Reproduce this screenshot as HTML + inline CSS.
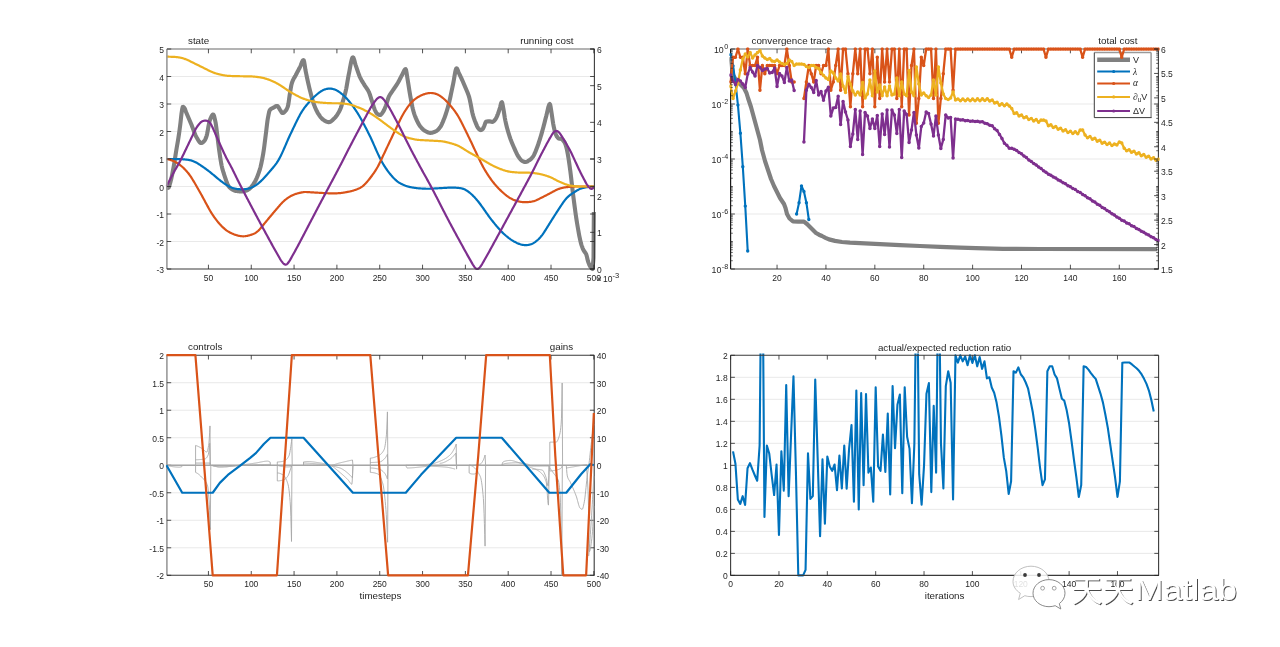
<!DOCTYPE html>
<html lang="en"><head><meta charset="utf-8"><title>iLQG convergence figure</title>
<style>html,body{margin:0;padding:0;background:#fff}body{width:1280px;height:647px;overflow:hidden}svg{display:block;font-family:'Liberation Sans', sans-serif}</style></head><body>
<svg width="1280" height="647" viewBox="0 0 1280 647">
<rect width="1280" height="647" fill="#fff"/>
<clipPath id="c1"><rect x="165.7" y="47.2" width="429.9" height="223.4"/></clipPath>
<clipPath id="w1"><rect x="164.3" y="46.4" width="432.7" height="225.2"/></clipPath>
<g id="plot-state">
<line x1="166.9" y1="241.5" x2="594.4" y2="241.5" stroke="#e7e7e7" stroke-width="0.9"/>
<line x1="166.9" y1="214" x2="594.4" y2="214" stroke="#e7e7e7" stroke-width="0.9"/>
<line x1="166.9" y1="186.5" x2="594.4" y2="186.5" stroke="#e7e7e7" stroke-width="0.9"/>
<line x1="166.9" y1="159" x2="594.4" y2="159" stroke="#e7e7e7" stroke-width="0.9"/>
<line x1="166.9" y1="131.5" x2="594.4" y2="131.5" stroke="#e7e7e7" stroke-width="0.9"/>
<line x1="166.9" y1="104" x2="594.4" y2="104" stroke="#e7e7e7" stroke-width="0.9"/>
<line x1="166.9" y1="76.5" x2="594.4" y2="76.5" stroke="#e7e7e7" stroke-width="0.9"/>
<polyline clip-path="url(#w1)" points="166.46,187.88 166.88,187.88 167.31,187.88 167.74,187.88 168.17,187.88 168.6,187.57 169.02,186.72 169.45,185.49 169.88,183.99 170.31,182.37 170.73,180.77 171.16,179.18 171.59,177.37 172.02,175.37 172.45,173.23 172.87,170.99 173.3,168.68 173.73,166.34 174.16,163.84 174.59,161.19 175.01,158.45 175.44,155.69 175.87,152.94 176.3,150.29 176.72,147.74 177.15,145.26 177.58,142.79 178.01,140.28 178.44,137.67 178.86,134.91 179.29,131.94 179.72,128.75 180.15,125.41 180.57,121.92 181,117.95 181.43,114.16 181.86,111.29 182.29,108.69 182.71,106.96 183.14,106.8 183.57,107.09 184,107.56 184.42,108.1 184.85,108.85 185.28,109.9 185.71,111.08 186.14,112.2 186.56,113.22 186.99,114.23 187.42,115.24 187.85,116.24 188.28,117.24 188.7,118.23 189.13,119.23 189.56,120.23 189.99,121.24 190.41,122.25 190.84,123.27 191.27,124.29 191.7,125.35 192.13,126.45 192.55,127.59 192.98,128.75 193.41,129.91 193.84,131.07 194.26,132.2 194.69,133.29 195.12,134.32 195.55,135.29 195.98,136.17 196.4,136.95 196.83,137.68 197.26,138.44 197.69,139.19 198.12,139.93 198.54,140.63 198.97,141.28 199.4,141.86 199.83,142.34 200.25,142.71 200.68,142.96 201.11,143.05 201.54,143 201.97,142.86 202.39,142.63 202.82,142.33 203.25,141.97 203.68,141.58 204.1,141.16 204.53,140.66 204.96,139.98 205.39,139.14 205.82,138.18 206.24,137.1 206.67,135.75 207.1,133.91 207.53,131.74 207.96,129.38 208.38,126.96 208.81,124.64 209.24,122.55 209.67,120.85 210.09,119.63 210.52,118.56 210.95,117.52 211.38,116.57 211.81,115.74 212.23,115.08 212.66,114.63 213.09,114.45 213.52,114.75 213.94,115.7 214.37,117.15 214.8,118.93 215.23,120.87 215.66,122.94 216.08,125.78 216.51,129.1 216.94,132.49 217.37,135.84 217.79,139.38 218.22,142.95 218.65,146.35 219.08,149.46 219.51,152.5 219.93,155.49 220.36,158.35 220.79,161.03 221.22,163.48 221.65,165.62 222.07,167.48 222.5,169.17 222.93,170.72 223.36,172.15 223.78,173.5 224.21,174.78 224.64,176.05 225.07,177.33 225.5,178.62 225.92,179.89 226.35,181.12 226.78,182.29 227.21,183.39 227.63,184.4 228.06,185.3 228.49,186.07 228.92,186.69 229.35,187.15 229.77,187.55 230.2,187.93 230.63,188.29 231.06,188.63 231.49,188.94 231.91,189.24 232.34,189.51 232.77,189.76 233.2,189.99 233.62,190.2 234.05,190.38 234.48,190.54 234.91,190.68 235.34,190.8 235.76,190.89 236.19,190.96 236.62,191.03 237.05,191.1 237.47,191.17 237.9,191.23 238.33,191.28 238.76,191.33 239.19,191.37 239.61,191.4 240.04,191.43 240.47,191.44 240.9,191.45 241.33,191.44 241.75,191.42 242.18,191.39 242.61,191.34 243.04,191.29 243.46,191.22 243.89,191.14 244.32,191.05 244.75,190.96 245.18,190.86 245.6,190.75 246.03,190.65 246.46,190.52 246.89,190.36 247.31,190.16 247.74,189.93 248.17,189.67 248.6,189.38 249.03,189.08 249.45,188.76 249.88,188.42 250.31,188.04 250.74,187.61 251.16,187.15 251.59,186.65 252.02,186.11 252.45,185.54 252.88,184.93 253.3,184.3 253.73,183.64 254.16,182.96 254.59,182.25 255.02,181.51 255.44,180.72 255.87,179.88 256.3,178.98 256.73,178.03 257.15,177.02 257.58,175.96 258.01,174.84 258.44,173.66 258.87,172.42 259.29,171.12 259.72,169.76 260.15,168.3 260.58,166.68 261,164.91 261.43,163 261.86,160.95 262.29,158.77 262.72,156.47 263.14,154.06 263.57,151.45 264,148.47 264.43,145.22 264.86,141.82 265.28,138.38 265.71,135.01 266.14,131.64 266.57,128.04 266.99,124.45 267.42,121.12 267.85,118.31 268.28,116.01 268.71,113.83 269.13,111.94 269.56,110.56 269.99,109.87 270.42,109.41 270.84,109.04 271.27,108.73 271.7,108.47 272.13,108.25 272.56,108.04 272.98,107.84 273.41,107.63 273.84,107.4 274.27,107.14 274.69,106.88 275.12,106.63 275.55,106.4 275.98,106.2 276.41,106.05 276.83,105.95 277.26,105.93 277.69,106.12 278.12,106.56 278.55,107.19 278.97,107.93 279.4,108.72 279.83,109.49 280.26,110.17 280.68,110.79 281.11,111.51 281.54,112.21 281.97,112.77 282.4,113.06 282.82,113.04 283.25,112.89 283.68,112.64 284.11,112.3 284.53,111.9 284.96,111.46 285.39,111 285.82,110.51 286.25,109.92 286.67,109.19 287.1,108.31 287.53,107.27 287.96,106.04 288.39,104.03 288.81,101.22 289.24,98.09 289.67,95.13 290.1,92.53 290.52,89.85 290.95,87.25 291.38,84.97 291.81,83.23 292.24,81.97 292.66,80.89 293.09,79.94 293.52,79.1 293.95,78.33 294.37,77.6 294.8,76.89 295.23,76.16 295.66,75.38 296.09,74.54 296.51,73.71 296.94,72.88 297.37,72.06 297.8,71.25 298.23,70.43 298.65,69.62 299.08,68.8 299.51,67.97 299.94,67.14 300.36,66.25 300.79,65.2 301.22,64.07 301.65,62.94 302.08,61.89 302.5,61 302.93,60.35 303.36,60.02 303.79,60.39 304.21,62.11 304.64,64.7 305.07,67.61 305.5,70.28 305.93,72.39 306.35,74.44 306.78,76.46 307.21,78.47 307.64,80.44 308.06,82.38 308.49,84.27 308.92,86.12 309.35,87.93 309.78,89.67 310.2,91.38 310.63,93.07 311.06,94.74 311.49,96.38 311.92,97.97 312.34,99.5 312.77,100.96 313.2,102.32 313.63,103.59 314.05,104.76 314.48,105.88 314.91,106.96 315.34,107.99 315.77,108.97 316.19,109.91 316.62,110.79 317.05,111.62 317.48,112.39 317.9,113.11 318.33,113.79 318.76,114.46 319.19,115.11 319.62,115.74 320.04,116.35 320.47,116.93 320.9,117.47 321.33,117.98 321.76,118.45 322.18,118.87 322.61,119.25 323.04,119.57 323.47,119.85 323.89,120.12 324.32,120.39 324.75,120.65 325.18,120.9 325.61,121.14 326.03,121.36 326.46,121.56 326.89,121.73 327.32,121.88 327.74,122 328.17,122.09 328.6,122.14 329.03,122.15 329.46,122.09 329.88,121.97 330.31,121.78 330.74,121.53 331.17,121.24 331.6,120.9 332.02,120.54 332.45,120.14 332.88,119.73 333.31,119.31 333.73,118.88 334.16,118.46 334.59,118.04 335.02,117.6 335.45,117.12 335.87,116.6 336.3,116.06 336.73,115.48 337.16,114.86 337.58,114.21 338.01,113.52 338.44,112.8 338.87,112.04 339.3,111.24 339.72,110.4 340.15,109.5 340.58,108.45 341.01,107.27 341.43,105.99 341.86,104.64 342.29,103.24 342.72,101.83 343.15,100.43 343.57,99.01 344,97.56 344.43,96.05 344.86,94.47 345.29,92.8 345.71,91.03 346.14,89.1 346.57,86.89 347,84.46 347.42,81.93 347.85,79.38 348.28,76.92 348.71,74.65 349.14,72.55 349.56,70.31 349.99,67.98 350.42,65.64 350.85,63.4 351.27,61.37 351.7,59.64 352.13,58.31 352.56,57.48 352.99,57.26 353.41,57.72 353.84,58.74 354.27,60.15 354.7,61.77 355.13,63.42 355.55,64.92 355.98,66.18 356.41,67.43 356.84,68.69 357.26,69.95 357.69,71.2 358.12,72.43 358.55,73.62 358.98,74.75 359.4,75.82 359.83,76.81 360.26,77.72 360.69,78.58 361.11,79.38 361.54,80.16 361.97,80.9 362.4,81.62 362.83,82.32 363.25,83.02 363.68,83.71 364.11,84.42 364.54,85.13 364.96,85.8 365.39,86.44 365.82,87.06 366.25,87.67 366.68,88.29 367.1,88.93 367.53,89.6 367.96,90.31 368.39,91.09 368.82,91.93 369.24,92.88 369.67,93.99 370.1,95.22 370.53,96.54 370.95,97.91 371.38,99.28 371.81,100.62 372.24,101.93 372.67,103.3 373.09,104.73 373.52,106.14 373.95,107.49 374.38,108.73 374.8,109.78 375.23,110.67 375.66,111.51 376.09,112.27 376.52,112.93 376.94,113.44 377.37,113.79 377.8,114.11 378.23,114.4 378.66,114.65 379.08,114.84 379.51,114.96 379.94,115 380.37,114.89 380.79,114.64 381.22,114.25 381.65,113.77 382.08,113.21 382.51,112.62 382.93,112.01 383.36,111.39 383.79,110.65 384.22,109.78 384.64,108.83 385.07,107.81 385.5,106.75 385.93,105.66 386.36,104.39 386.78,103 387.21,101.54 387.64,100.1 388.07,98.73 388.5,97.51 388.92,96.51 389.35,95.67 389.78,94.91 390.21,94.22 390.63,93.57 391.06,92.96 391.49,92.36 391.92,91.76 392.35,91.14 392.77,90.49 393.2,89.85 393.63,89.22 394.06,88.6 394.48,87.98 394.91,87.37 395.34,86.75 395.77,86.12 396.2,85.49 396.62,84.84 397.05,84.17 397.48,83.48 397.91,82.77 398.33,82.02 398.76,81.24 399.19,80.44 399.62,79.62 400.05,78.79 400.47,77.96 400.9,77.14 401.33,76.33 401.76,75.55 402.19,74.77 402.61,73.9 403.04,72.96 403.47,72 403.9,71.09 404.32,70.29 404.75,69.64 405.18,69.22 405.61,69.08 406.04,69.96 406.46,72.08 406.89,74.88 407.32,77.78 407.75,80.32 408.17,82.92 408.6,85.66 409.03,88.43 409.46,91.14 409.89,93.69 410.31,96.08 410.74,98.47 411.17,100.82 411.6,103.09 412.03,105.25 412.45,107.26 412.88,109.09 413.31,110.71 413.74,112.2 414.16,113.57 414.59,114.85 415.02,116.04 415.45,117.14 415.88,118.17 416.3,119.17 416.73,120.13 417.16,121.06 417.59,121.95 418.01,122.8 418.44,123.6 418.87,124.34 419.3,125.03 419.73,125.66 420.15,126.22 420.58,126.76 421.01,127.28 421.44,127.78 421.87,128.25 422.29,128.7 422.72,129.13 423.15,129.52 423.58,129.89 424,130.23 424.43,130.53 424.86,130.8 425.29,131.04 425.72,131.27 426.14,131.5 426.57,131.73 427,131.94 427.43,132.14 427.85,132.33 428.28,132.49 428.71,132.63 429.14,132.74 429.57,132.82 429.99,132.87 430.42,132.87 430.85,132.85 431.28,132.8 431.7,132.73 432.13,132.64 432.56,132.53 432.99,132.41 433.42,132.27 433.84,132.12 434.27,131.96 434.7,131.79 435.13,131.61 435.56,131.43 435.98,131.21 436.41,130.95 436.84,130.65 437.27,130.3 437.69,129.92 438.12,129.51 438.55,129.07 438.98,128.59 439.41,128.09 439.83,127.56 440.26,127.01 440.69,126.38 441.12,125.64 441.54,124.81 441.97,123.91 442.4,122.95 442.83,121.93 443.26,120.89 443.68,119.82 444.11,118.75 444.54,117.64 444.97,116.47 445.4,115.26 445.82,113.99 446.25,112.68 446.68,111.32 447.11,109.91 447.53,108.45 447.96,106.95 448.39,105.39 448.82,103.73 449.25,101.97 449.67,100.11 450.1,98.19 450.53,96.21 450.96,94.19 451.38,92.15 451.81,90.1 452.24,88.06 452.67,86.04 453.1,84.07 453.52,81.93 453.95,79.48 454.38,76.88 454.81,74.33 455.24,72.01 455.66,70.1 456.09,68.78 456.52,68.25 456.95,68.49 457.37,69.21 457.8,70.23 458.23,71.39 458.66,72.52 459.09,73.48 459.51,74.37 459.94,75.26 460.37,76.14 460.8,77.04 461.22,77.94 461.65,78.86 462.08,79.8 462.51,80.75 462.94,81.72 463.36,82.7 463.79,83.7 464.22,84.71 464.65,85.74 465.07,86.77 465.5,87.81 465.93,88.81 466.36,89.79 466.79,90.76 467.21,91.76 467.64,92.79 468.07,93.9 468.5,95.09 468.93,96.4 469.35,97.88 469.78,99.68 470.21,101.7 470.64,103.84 471.06,106 471.49,108.42 471.92,110.82 472.35,112.73 472.78,114.36 473.2,115.87 473.63,117.28 474.06,118.59 474.49,119.82 474.91,120.97 475.34,122.07 475.77,123.13 476.2,124.15 476.63,125.16 477.05,126.15 477.48,127.04 477.91,127.79 478.34,128.33 478.77,128.8 479.19,129.23 479.62,129.61 480.05,129.9 480.48,130.08 480.9,130.12 481.33,130.01 481.76,129.78 482.19,129.46 482.62,129.07 483.04,128.62 483.47,127.81 483.9,126.76 484.33,125.75 484.75,124.6 485.18,123.36 485.61,122.3 486.04,121.67 486.47,121.55 486.89,121.49 487.32,121.44 487.75,121.39 488.18,121.36 488.6,121.34 489.03,121.33 489.46,121.33 489.89,121.38 490.32,121.47 490.74,121.59 491.17,121.71 491.6,121.81 492.03,121.87 492.46,121.85 492.88,121.7 493.31,121.45 493.74,121.11 494.17,120.72 494.59,120.29 495.02,119.84 495.45,119.27 495.88,118.55 496.31,117.72 496.73,116.82 497.16,115.89 497.59,114.86 498.02,113.73 498.44,112.51 498.87,111.25 499.3,109.96 499.73,108.66 500.16,107.04 500.58,105.22 501.01,103.55 501.44,102.4 501.87,102.11 502.3,103.15 502.72,105.19 503.15,107.64 503.58,109.97 504.01,112.54 504.43,115.38 504.86,118.11 505.29,120.37 505.72,122.33 506.15,124.19 506.57,125.96 507,127.64 507.43,129.24 507.86,130.77 508.28,132.24 508.71,133.64 509.14,135 509.57,136.31 510,137.59 510.42,138.83 510.85,140.01 511.28,141.15 511.71,142.23 512.14,143.28 512.56,144.3 512.99,145.29 513.42,146.26 513.85,147.22 514.27,148.18 514.7,149.14 515.13,150.11 515.56,151.07 515.99,152.01 516.41,152.93 516.84,153.81 517.27,154.63 517.7,155.4 518.12,156.1 518.55,156.75 518.98,157.38 519.41,157.99 519.84,158.57 520.26,159.11 520.69,159.6 521.12,160.04 521.55,160.4 521.97,160.69 522.4,160.95 522.83,161.2 523.26,161.44 523.69,161.64 524.11,161.81 524.54,161.94 524.97,162.01 525.4,162.02 525.83,161.97 526.25,161.87 526.68,161.72 527.11,161.54 527.54,161.33 527.96,161.1 528.39,160.85 528.82,160.59 529.25,160.34 529.68,160.06 530.1,159.73 530.53,159.37 530.96,158.97 531.39,158.52 531.81,158.05 532.24,157.53 532.67,156.99 533.1,156.41 533.53,155.77 533.95,155.01 534.38,154.16 534.81,153.21 535.24,152.21 535.67,151.15 536.09,150.06 536.52,148.96 536.95,147.86 537.38,146.72 537.8,145.54 538.23,144.3 538.66,143.03 539.09,141.72 539.52,140.38 539.94,139.03 540.37,137.66 540.8,136.25 541.23,134.81 541.65,133.34 542.08,131.83 542.51,130.3 542.94,128.76 543.37,127.19 543.79,125.58 544.22,123.91 544.65,122.21 545.08,120.5 545.51,118.82 545.93,117.19 546.36,115.61 546.79,113.87 547.22,111.99 547.64,110.07 548.07,108.24 548.5,106.61 548.93,105.28 549.36,104.37 549.78,104 550.21,104.77 550.64,106.96 551.07,109.79 551.49,112.49 551.92,115.24 552.35,118.26 552.78,121.23 553.21,123.83 553.63,126.02 554.06,128.09 554.49,129.97 554.92,131.62 555.34,132.98 555.77,134.16 556.2,135.22 556.63,136.12 557.06,136.82 557.48,137.35 557.91,137.81 558.34,138.21 558.77,138.5 559.2,138.66 559.62,138.73 560.05,138.77 560.48,138.81 560.91,138.85 561.33,138.93 561.76,139.12 562.19,139.46 562.62,139.89 563.05,140.38 563.47,140.88 563.9,141.44 564.33,142.1 564.76,142.86 565.18,143.74 565.61,144.82 566.04,146.18 566.47,147.75 566.9,149.48 567.32,151.52 567.75,153.88 568.18,156.4 568.61,159.04 569.04,161.86 569.46,164.83 569.89,167.91 570.32,171.09 570.75,174.48 571.17,178.07 571.6,181.79 572.03,185.54 572.46,189.26 572.89,192.86 573.31,196.27 573.74,199.58 574.17,202.86 574.6,206.11 575.02,209.31 575.45,212.43 575.88,215.45 576.31,218.36 576.74,221.14 577.16,223.76 577.59,226.27 578.02,228.74 578.45,231.17 578.88,233.52 579.3,235.78 579.73,237.91 580.16,239.91 580.59,241.75 581.01,243.4 581.44,244.85 581.87,246.17 582.3,247.37 582.73,248.47 583.15,249.45 583.58,250.32 584.01,251.04 584.44,251.63 584.86,252.15 585.29,252.7 585.72,253.35 586.15,254.16 586.58,255.41 587,257.08 587.43,258.94 587.86,260.71 588.29,262.14 588.71,263.28 589.14,264.34 589.57,265.3 590,266.12 590.43,266.8 590.85,267.38 591.28,267.91 591.71,268.38 592.14,268.74 592.57,269 593.51,258 593.85,212.07" fill="none" stroke="#808080" stroke-width="4.1" stroke-linejoin="round" stroke-linecap="butt"/>
<polyline clip-path="url(#c1)" points="166.46,159 167.03,158.99 167.6,158.99 168.17,158.99 168.74,158.98 169.31,158.98 169.88,158.98 170.45,158.98 171.02,158.98 171.59,158.99 172.16,158.99 172.73,158.99 173.3,158.99 173.87,159 174.45,159 175.02,159.01 175.59,159.02 176.16,159.03 176.73,159.05 177.3,159.06 177.87,159.08 178.44,159.1 179.01,159.11 179.58,159.13 180.15,159.15 180.72,159.17 181.29,159.19 181.86,159.22 182.43,159.26 183,159.3 183.58,159.34 184.15,159.39 184.72,159.44 185.29,159.5 185.86,159.56 186.43,159.63 187,159.7 187.57,159.78 188.14,159.86 188.71,159.95 189.28,160.05 189.85,160.15 190.42,160.27 190.99,160.42 191.56,160.58 192.13,160.76 192.7,160.96 193.28,161.18 193.85,161.42 194.42,161.67 194.99,161.94 195.56,162.23 196.13,162.53 196.7,162.84 197.27,163.16 197.84,163.5 198.41,163.85 198.98,164.21 199.55,164.57 200.12,164.95 200.69,165.33 201.26,165.71 201.83,166.1 202.41,166.49 202.98,166.89 203.55,167.29 204.12,167.69 204.69,168.1 205.26,168.51 205.83,168.92 206.4,169.34 206.97,169.77 207.54,170.19 208.11,170.62 208.68,171.06 209.25,171.5 209.82,171.95 210.39,172.4 210.96,172.86 211.54,173.32 212.11,173.79 212.68,174.26 213.25,174.73 213.82,175.21 214.39,175.69 214.96,176.17 215.53,176.65 216.1,177.13 216.67,177.61 217.24,178.08 217.81,178.55 218.38,179.02 218.95,179.49 219.52,179.94 220.09,180.39 220.67,180.84 221.24,181.28 221.81,181.71 222.38,182.13 222.95,182.54 223.52,182.95 224.09,183.35 224.66,183.73 225.23,184.11 225.8,184.48 226.37,184.84 226.94,185.19 227.51,185.52 228.08,185.85 228.65,186.16 229.22,186.46 229.8,186.75 230.37,187.03 230.94,187.28 231.51,187.51 232.08,187.73 232.65,187.93 233.22,188.11 233.79,188.27 234.36,188.42 234.93,188.55 235.5,188.68 236.07,188.79 236.64,188.88 237.21,188.97 237.78,189.04 238.35,189.11 238.93,189.17 239.5,189.22 240.07,189.26 240.64,189.3 241.21,189.32 241.78,189.32 242.35,189.32 242.92,189.3 243.49,189.27 244.06,189.24 244.63,189.19 245.2,189.13 245.77,189.06 246.34,188.97 246.91,188.87 247.48,188.76 248.05,188.64 248.63,188.5 249.2,188.35 249.77,188.18 250.34,188 250.91,187.8 251.48,187.58 252.05,187.33 252.62,187.07 253.19,186.78 253.76,186.47 254.33,186.15 254.9,185.8 255.47,185.44 256.04,185.06 256.61,184.66 257.18,184.24 257.76,183.81 258.33,183.35 258.9,182.89 259.47,182.4 260.04,181.9 260.61,181.39 261.18,180.85 261.75,180.3 262.32,179.74 262.89,179.16 263.46,178.57 264.03,177.97 264.6,177.35 265.17,176.73 265.74,176.1 266.31,175.46 266.89,174.81 267.46,174.15 268.03,173.49 268.6,172.83 269.17,172.16 269.74,171.49 270.31,170.82 270.88,170.16 271.45,169.5 272.02,168.84 272.59,168.17 273.16,167.5 273.73,166.81 274.3,166.1 274.87,165.38 275.44,164.63 276.02,163.85 276.59,163.05 277.16,162.2 277.73,161.32 278.3,160.4 278.87,159.43 279.44,158.41 280.01,157.33 280.58,156.21 281.15,155.05 281.72,153.85 282.29,152.62 282.86,151.36 283.43,150.08 284,148.78 284.57,147.47 285.15,146.14 285.72,144.82 286.29,143.49 286.86,142.17 287.43,140.86 288,139.56 288.57,138.28 289.14,137.03 289.71,135.8 290.28,134.59 290.85,133.38 291.42,132.17 291.99,130.96 292.56,129.76 293.13,128.55 293.7,127.36 294.28,126.16 294.85,124.98 295.42,123.81 295.99,122.64 296.56,121.48 297.13,120.34 297.7,119.21 298.27,118.1 298.84,117 299.41,115.91 299.98,114.85 300.55,113.82 301.12,112.83 301.69,111.89 302.26,110.98 302.83,110.11 303.41,109.28 303.98,108.47 304.55,107.69 305.12,106.94 305.69,106.21 306.26,105.5 306.83,104.81 307.4,104.13 307.97,103.47 308.54,102.81 309.11,102.16 309.68,101.52 310.25,100.88 310.82,100.25 311.39,99.64 311.96,99.03 312.53,98.45 313.11,97.87 313.68,97.31 314.25,96.76 314.82,96.23 315.39,95.71 315.96,95.2 316.53,94.71 317.1,94.23 317.67,93.76 318.24,93.31 318.81,92.88 319.38,92.45 319.95,92.05 320.52,91.66 321.09,91.29 321.66,90.95 322.24,90.63 322.81,90.34 323.38,90.06 323.95,89.81 324.52,89.59 325.09,89.38 325.66,89.2 326.23,89.04 326.8,88.91 327.37,88.8 327.94,88.71 328.51,88.65 329.08,88.61 329.65,88.6 330.22,88.61 330.79,88.65 331.37,88.71 331.94,88.79 332.51,88.9 333.08,89.04 333.65,89.2 334.22,89.38 334.79,89.58 335.36,89.81 335.93,90.07 336.5,90.34 337.07,90.64 337.64,90.96 338.21,91.31 338.78,91.67 339.35,92.06 339.92,92.47 340.5,92.9 341.07,93.34 341.64,93.79 342.21,94.26 342.78,94.74 343.35,95.24 343.92,95.76 344.49,96.29 345.06,96.84 345.63,97.41 346.2,97.99 346.77,98.6 347.34,99.22 347.91,99.87 348.48,100.53 349.05,101.22 349.63,101.92 350.2,102.64 350.77,103.38 351.34,104.12 351.91,104.87 352.48,105.64 353.05,106.42 353.62,107.21 354.19,108.01 354.76,108.83 355.33,109.67 355.9,110.52 356.47,111.38 357.04,112.27 357.61,113.17 358.18,114.09 358.76,115.03 359.33,115.99 359.9,116.97 360.47,117.98 361.04,118.99 361.61,120.02 362.18,121.06 362.75,122.11 363.32,123.17 363.89,124.24 364.46,125.32 365.03,126.41 365.6,127.51 366.17,128.62 366.74,129.74 367.31,130.87 367.88,132 368.46,133.14 369.03,134.29 369.6,135.44 370.17,136.6 370.74,137.78 371.31,139 371.88,140.24 372.45,141.5 373.02,142.78 373.59,144.07 374.16,145.37 374.73,146.67 375.3,147.98 375.87,149.28 376.44,150.57 377.01,151.85 377.59,153.11 378.16,154.35 378.73,155.57 379.3,156.76 379.87,157.91 380.44,159.03 381.01,160.12 381.58,161.18 382.15,162.21 382.72,163.22 383.29,164.19 383.86,165.14 384.43,166.06 385,166.95 385.57,167.82 386.14,168.67 386.72,169.5 387.29,170.3 387.86,171.08 388.43,171.84 389,172.59 389.57,173.31 390.14,174.02 390.71,174.71 391.28,175.38 391.85,176.04 392.42,176.69 392.99,177.31 393.56,177.92 394.13,178.5 394.7,179.07 395.27,179.61 395.85,180.13 396.42,180.63 396.99,181.1 397.56,181.55 398.13,181.97 398.7,182.36 399.27,182.72 399.84,183.05 400.41,183.36 400.98,183.66 401.55,183.95 402.12,184.23 402.69,184.5 403.26,184.77 403.83,185.02 404.4,185.27 404.98,185.5 405.55,185.73 406.12,185.94 406.69,186.14 407.26,186.33 407.83,186.5 408.4,186.66 408.97,186.81 409.54,186.93 410.11,187.05 410.68,187.15 411.25,187.25 411.82,187.36 412.39,187.46 412.96,187.56 413.53,187.65 414.11,187.75 414.68,187.84 415.25,187.92 415.82,188 416.39,188.08 416.96,188.15 417.53,188.22 418.1,188.28 418.67,188.33 419.24,188.38 419.81,188.42 420.38,188.45 420.95,188.48 421.52,188.51 422.09,188.55 422.66,188.58 423.23,188.61 423.81,188.64 424.38,188.67 424.95,188.7 425.52,188.72 426.09,188.74 426.66,188.75 427.23,188.76 427.8,188.76 428.37,188.76 428.94,188.75 429.51,188.73 430.08,188.71 430.65,188.68 431.22,188.65 431.79,188.62 432.36,188.58 432.94,188.55 433.51,188.52 434.08,188.49 434.65,188.46 435.22,188.43 435.79,188.4 436.36,188.36 436.93,188.33 437.5,188.3 438.07,188.27 438.64,188.24 439.21,188.2 439.78,188.17 440.35,188.14 440.92,188.11 441.49,188.08 442.07,188.05 442.64,188.01 443.21,187.98 443.78,187.95 444.35,187.92 444.92,187.88 445.49,187.85 446.06,187.82 446.63,187.79 447.2,187.76 447.77,187.72 448.34,187.69 448.91,187.66 449.48,187.63 450.05,187.59 450.62,187.57 451.2,187.55 451.77,187.54 452.34,187.54 452.91,187.55 453.48,187.57 454.05,187.59 454.62,187.62 455.19,187.65 455.76,187.69 456.33,187.74 456.9,187.79 457.47,187.84 458.04,187.9 458.61,187.96 459.18,188.02 459.75,188.09 460.33,188.16 460.9,188.25 461.47,188.36 462.04,188.5 462.61,188.66 463.18,188.85 463.75,189.06 464.32,189.3 464.89,189.56 465.46,189.85 466.03,190.16 466.6,190.49 467.17,190.85 467.74,191.23 468.31,191.63 468.88,192.06 469.46,192.5 470.03,192.98 470.6,193.47 471.17,193.98 471.74,194.5 472.31,195.04 472.88,195.6 473.45,196.17 474.02,196.76 474.59,197.37 475.16,197.99 475.73,198.62 476.3,199.27 476.87,199.94 477.44,200.62 478.01,201.31 478.58,202.02 479.16,202.75 479.73,203.49 480.3,204.24 480.87,205.01 481.44,205.79 482.01,206.58 482.58,207.38 483.15,208.19 483.72,209 484.29,209.82 484.86,210.65 485.43,211.47 486,212.29 486.57,213.11 487.14,213.92 487.71,214.72 488.29,215.52 488.86,216.31 489.43,217.08 490,217.84 490.57,218.59 491.14,219.33 491.71,220.06 492.28,220.79 492.85,221.51 493.42,222.22 493.99,222.93 494.56,223.63 495.13,224.33 495.7,225.02 496.27,225.7 496.84,226.37 497.42,227.04 497.99,227.7 498.56,228.35 499.13,229 499.7,229.63 500.27,230.26 500.84,230.88 501.41,231.48 501.98,232.06 502.55,232.63 503.12,233.19 503.69,233.73 504.26,234.25 504.83,234.77 505.4,235.27 505.97,235.76 506.55,236.23 507.12,236.7 507.69,237.16 508.26,237.6 508.83,238.04 509.4,238.46 509.97,238.88 510.54,239.29 511.11,239.68 511.68,240.06 512.25,240.43 512.82,240.78 513.39,241.12 513.96,241.45 514.53,241.76 515.1,242.06 515.68,242.35 516.25,242.63 516.82,242.9 517.39,243.15 517.96,243.4 518.53,243.63 519.1,243.85 519.67,244.06 520.24,244.27 520.81,244.45 521.38,244.6 521.95,244.73 522.52,244.84 523.09,244.92 523.66,244.99 524.23,245.03 524.81,245.06 525.38,245.08 525.95,245.08 526.52,245.07 527.09,245.04 527.66,244.99 528.23,244.91 528.8,244.81 529.37,244.69 529.94,244.55 530.51,244.38 531.08,244.18 531.65,243.96 532.22,243.71 532.79,243.43 533.36,243.13 533.94,242.79 534.51,242.43 535.08,242.04 535.65,241.62 536.22,241.19 536.79,240.73 537.36,240.24 537.93,239.73 538.5,239.19 539.07,238.62 539.64,238.03 540.21,237.4 540.78,236.74 541.35,236.05 541.92,235.33 542.49,234.58 543.06,233.79 543.64,232.96 544.21,232.1 544.78,231.22 545.35,230.33 545.92,229.43 546.49,228.52 547.06,227.61 547.63,226.7 548.2,225.78 548.77,224.86 549.34,223.94 549.91,223.02 550.48,222.1 551.05,221.18 551.62,220.26 552.19,219.35 552.77,218.44 553.34,217.54 553.91,216.65 554.48,215.76 555.05,214.87 555.62,213.98 556.19,213.1 556.76,212.21 557.33,211.32 557.9,210.44 558.47,209.56 559.04,208.69 559.61,207.82 560.18,206.95 560.75,206.1 561.32,205.25 561.9,204.4 562.47,203.57 563.04,202.74 563.61,201.93 564.18,201.13 564.75,200.35 565.32,199.63 565.89,198.94 566.46,198.3 567.03,197.7 567.6,197.14 568.17,196.61 568.74,196.11 569.31,195.63 569.88,195.18 570.45,194.76 571.03,194.34 571.6,193.95 572.17,193.56 572.74,193.19 573.31,192.82 573.88,192.45 574.45,192.08 575.02,191.72 575.59,191.35 576.16,190.99 576.73,190.64 577.3,190.3 577.87,189.97 578.44,189.66 579.01,189.37 579.58,189.09 580.16,188.84 580.73,188.61 581.3,188.41 581.87,188.24 582.44,188.09 583.01,187.96 583.58,187.84 584.15,187.71 584.72,187.6 585.29,187.49 585.86,187.38 586.43,187.28 587,187.19 587.57,187.1 588.14,187.02 588.71,186.95 589.29,186.88 589.86,186.81 590.43,186.76 591,186.7 591.57,186.65 592.14,186.6 592.71,186.56 593.28,186.52 593.85,186.5" fill="none" stroke="#0072BD" stroke-width="2.2" stroke-linejoin="round" stroke-linecap="butt"/>
<polyline clip-path="url(#c1)" points="166.46,159 167.03,159.09 167.6,159.2 168.17,159.33 168.74,159.46 169.31,159.61 169.88,159.78 170.45,159.96 171.02,160.15 171.59,160.36 172.16,160.58 172.73,160.81 173.3,161.05 173.87,161.31 174.45,161.58 175.02,161.86 175.59,162.15 176.16,162.45 176.73,162.77 177.3,163.11 177.87,163.47 178.44,163.84 179.01,164.23 179.58,164.65 180.15,165.08 180.72,165.53 181.29,166 181.86,166.49 182.43,166.99 183,167.52 183.58,168.06 184.15,168.63 184.72,169.2 185.29,169.79 185.86,170.4 186.43,171.03 187,171.68 187.57,172.35 188.14,173.04 188.71,173.77 189.28,174.52 189.85,175.3 190.42,176.12 190.99,176.97 191.56,177.86 192.13,178.78 192.7,179.71 193.28,180.65 193.85,181.6 194.42,182.56 194.99,183.52 195.56,184.5 196.13,185.48 196.7,186.46 197.27,187.45 197.84,188.45 198.41,189.45 198.98,190.45 199.55,191.46 200.12,192.47 200.69,193.49 201.26,194.52 201.83,195.56 202.41,196.61 202.98,197.66 203.55,198.72 204.12,199.77 204.69,200.84 205.26,201.9 205.83,202.96 206.4,204.01 206.97,205.06 207.54,206.11 208.11,207.15 208.68,208.17 209.25,209.19 209.82,210.2 210.39,211.18 210.96,212.14 211.54,213.07 212.11,213.98 212.68,214.86 213.25,215.72 213.82,216.56 214.39,217.37 214.96,218.16 215.53,218.93 216.1,219.69 216.67,220.42 217.24,221.14 217.81,221.84 218.38,222.52 218.95,223.19 219.52,223.84 220.09,224.49 220.67,225.11 221.24,225.71 221.81,226.3 222.38,226.86 222.95,227.41 223.52,227.93 224.09,228.44 224.66,228.93 225.23,229.39 225.8,229.84 226.37,230.27 226.94,230.68 227.51,231.06 228.08,231.43 228.65,231.77 229.22,232.1 229.8,232.4 230.37,232.69 230.94,232.97 231.51,233.24 232.08,233.51 232.65,233.76 233.22,234 233.79,234.24 234.36,234.46 234.93,234.67 235.5,234.87 236.07,235.06 236.64,235.24 237.21,235.4 237.78,235.56 238.35,235.7 238.93,235.82 239.5,235.94 240.07,236.03 240.64,236.12 241.21,236.18 241.78,236.23 242.35,236.27 242.92,236.28 243.49,236.28 244.06,236.27 244.63,236.23 245.2,236.18 245.77,236.11 246.34,236.03 246.91,235.93 247.48,235.81 248.05,235.68 248.63,235.54 249.2,235.38 249.77,235.21 250.34,235.03 250.91,234.85 251.48,234.66 252.05,234.46 252.62,234.24 253.19,234.01 253.76,233.76 254.33,233.49 254.9,233.19 255.47,232.86 256.04,232.5 256.61,232.11 257.18,231.68 257.76,231.21 258.33,230.69 258.9,230.13 259.47,229.52 260.04,228.86 260.61,228.19 261.18,227.51 261.75,226.83 262.32,226.14 262.89,225.45 263.46,224.76 264.03,224.07 264.6,223.37 265.17,222.67 265.74,221.98 266.31,221.28 266.89,220.58 267.46,219.89 268.03,219.2 268.6,218.51 269.17,217.82 269.74,217.14 270.31,216.46 270.88,215.78 271.45,215.11 272.02,214.43 272.59,213.75 273.16,213.07 273.73,212.4 274.3,211.72 274.87,211.05 275.44,210.37 276.02,209.7 276.59,209.03 277.16,208.36 277.73,207.69 278.3,207.02 278.87,206.35 279.44,205.69 280.01,205.02 280.58,204.38 281.15,203.75 281.72,203.15 282.29,202.57 282.86,202 283.43,201.46 284,200.94 284.57,200.44 285.15,199.95 285.72,199.49 286.29,199.04 286.86,198.61 287.43,198.2 288,197.81 288.57,197.43 289.14,197.07 289.71,196.72 290.28,196.39 290.85,196.08 291.42,195.78 291.99,195.5 292.56,195.22 293.13,194.97 293.7,194.72 294.28,194.49 294.85,194.27 295.42,194.07 295.99,193.87 296.56,193.69 297.13,193.52 297.7,193.35 298.27,193.2 298.84,193.06 299.41,192.93 299.98,192.81 300.55,192.69 301.12,192.56 301.69,192.44 302.26,192.33 302.83,192.23 303.41,192.14 303.98,192.06 304.55,192.01 305.12,191.99 305.69,191.99 306.26,192.02 306.83,192.05 307.4,192.09 307.97,192.12 308.54,192.15 309.11,192.19 309.68,192.22 310.25,192.25 310.82,192.29 311.39,192.32 311.96,192.36 312.53,192.39 313.11,192.43 313.68,192.46 314.25,192.5 314.82,192.53 315.39,192.57 315.96,192.6 316.53,192.64 317.1,192.67 317.67,192.7 318.24,192.74 318.81,192.77 319.38,192.8 319.95,192.84 320.52,192.87 321.09,192.9 321.66,192.93 322.24,192.96 322.81,192.99 323.38,193.03 323.95,193.06 324.52,193.09 325.09,193.12 325.66,193.15 326.23,193.18 326.8,193.21 327.37,193.24 327.94,193.27 328.51,193.3 329.08,193.33 329.65,193.36 330.22,193.39 330.79,193.41 331.37,193.43 331.94,193.44 332.51,193.44 333.08,193.43 333.65,193.43 334.22,193.41 334.79,193.39 335.36,193.37 335.93,193.35 336.5,193.32 337.07,193.29 337.64,193.25 338.21,193.22 338.78,193.18 339.35,193.14 339.92,193.1 340.5,193.05 341.07,193 341.64,192.93 342.21,192.86 342.78,192.78 343.35,192.69 343.92,192.59 344.49,192.49 345.06,192.39 345.63,192.28 346.2,192.17 346.77,192.06 347.34,191.94 347.91,191.82 348.48,191.71 349.05,191.59 349.63,191.47 350.2,191.36 350.77,191.23 351.34,191.09 351.91,190.95 352.48,190.79 353.05,190.63 353.62,190.45 354.19,190.27 354.76,190.08 355.33,189.88 355.9,189.66 356.47,189.44 357.04,189.22 357.61,188.98 358.18,188.73 358.76,188.48 359.33,188.21 359.9,187.94 360.47,187.65 361.04,187.32 361.61,186.95 362.18,186.54 362.75,186.1 363.32,185.63 363.89,185.12 364.46,184.59 365.03,184.02 365.6,183.43 366.17,182.82 366.74,182.18 367.31,181.53 367.88,180.85 368.46,180.15 369.03,179.44 369.6,178.72 370.17,177.98 370.74,177.24 371.31,176.49 371.88,175.73 372.45,174.96 373.02,174.17 373.59,173.37 374.16,172.55 374.73,171.7 375.3,170.82 375.87,169.92 376.44,168.98 377.01,168.01 377.59,167.01 378.16,165.96 378.73,164.87 379.3,163.73 379.87,162.55 380.44,161.35 381.01,160.15 381.58,158.95 382.15,157.74 382.72,156.54 383.29,155.33 383.86,154.12 384.43,152.91 385,151.7 385.57,150.49 386.14,149.28 386.72,148.07 387.29,146.86 387.86,145.65 388.43,144.45 389,143.24 389.57,142.04 390.14,140.84 390.71,139.64 391.28,138.44 391.85,137.24 392.42,136.04 392.99,134.84 393.56,133.64 394.13,132.45 394.7,131.25 395.27,130.05 395.85,128.86 396.42,127.66 396.99,126.47 397.56,125.28 398.13,124.08 398.7,122.89 399.27,121.7 399.84,120.51 400.41,119.33 400.98,118.18 401.55,117.07 402.12,115.99 402.69,114.95 403.26,113.95 403.83,112.97 404.4,112.03 404.98,111.11 405.55,110.23 406.12,109.37 406.69,108.54 407.26,107.73 407.83,106.95 408.4,106.19 408.97,105.45 409.54,104.73 410.11,104.02 410.68,103.35 411.25,102.7 411.82,102.09 412.39,101.5 412.96,100.95 413.53,100.42 414.11,99.92 414.68,99.44 415.25,98.99 415.82,98.56 416.39,98.16 416.96,97.77 417.53,97.41 418.1,97.06 418.67,96.73 419.24,96.41 419.81,96.11 420.38,95.82 420.95,95.55 421.52,95.28 422.09,95.03 422.66,94.79 423.23,94.57 423.81,94.35 424.38,94.15 424.95,93.97 425.52,93.8 426.09,93.64 426.66,93.5 427.23,93.38 427.8,93.27 428.37,93.18 428.94,93.11 429.51,93.05 430.08,93.02 430.65,93 431.22,93 431.79,93.03 432.36,93.07 432.94,93.14 433.51,93.23 434.08,93.35 434.65,93.49 435.22,93.65 435.79,93.83 436.36,94.04 436.93,94.27 437.5,94.52 438.07,94.8 438.64,95.09 439.21,95.42 439.78,95.76 440.35,96.13 440.92,96.52 441.49,96.93 442.07,97.35 442.64,97.8 443.21,98.26 443.78,98.74 444.35,99.24 444.92,99.76 445.49,100.3 446.06,100.85 446.63,101.42 447.2,102.01 447.77,102.62 448.34,103.24 448.91,103.88 449.48,104.54 450.05,105.21 450.62,105.9 451.2,106.58 451.77,107.27 452.34,107.97 452.91,108.69 453.48,109.41 454.05,110.16 454.62,110.92 455.19,111.7 455.76,112.51 456.33,113.34 456.9,114.2 457.47,115.1 458.04,116.03 458.61,116.99 459.18,117.99 459.75,119.04 460.33,120.12 460.9,121.23 461.47,122.35 462.04,123.47 462.61,124.6 463.18,125.73 463.75,126.88 464.32,128.02 464.89,129.18 465.46,130.33 466.03,131.5 466.6,132.66 467.17,133.83 467.74,135 468.31,136.18 468.88,137.36 469.46,138.54 470.03,139.72 470.6,140.91 471.17,142.1 471.74,143.3 472.31,144.51 472.88,145.72 473.45,146.94 474.02,148.16 474.59,149.38 475.16,150.6 475.73,151.82 476.3,153.04 476.87,154.25 477.44,155.46 478.01,156.67 478.58,157.87 479.16,159.06 479.73,160.24 480.3,161.41 480.87,162.57 481.44,163.69 482.01,164.79 482.58,165.86 483.15,166.91 483.72,167.94 484.29,168.94 484.86,169.93 485.43,170.89 486,171.83 486.57,172.75 487.14,173.66 487.71,174.55 488.29,175.42 488.86,176.27 489.43,177.11 490,177.94 490.57,178.75 491.14,179.55 491.71,180.32 492.28,181.08 492.85,181.82 493.42,182.55 493.99,183.26 494.56,183.95 495.13,184.63 495.7,185.29 496.27,185.94 496.84,186.57 497.42,187.19 497.99,187.8 498.56,188.39 499.13,188.98 499.7,189.55 500.27,190.11 500.84,190.66 501.41,191.2 501.98,191.74 502.55,192.27 503.12,192.78 503.69,193.29 504.26,193.79 504.83,194.27 505.4,194.74 505.97,195.19 506.55,195.64 507.12,196.06 507.69,196.47 508.26,196.87 508.83,197.24 509.4,197.6 509.97,197.94 510.54,198.26 511.11,198.56 511.68,198.86 512.25,199.14 512.82,199.41 513.39,199.66 513.96,199.9 514.53,200.14 515.1,200.35 515.68,200.56 516.25,200.75 516.82,200.94 517.39,201.11 517.96,201.26 518.53,201.41 519.1,201.54 519.67,201.66 520.24,201.77 520.81,201.87 521.38,201.96 521.95,202.03 522.52,202.09 523.09,202.14 523.66,202.18 524.23,202.21 524.81,202.21 525.38,202.21 525.95,202.19 526.52,202.15 527.09,202.12 527.66,202.08 528.23,202.04 528.8,201.99 529.37,201.94 529.94,201.88 530.51,201.81 531.08,201.73 531.65,201.64 532.22,201.53 532.79,201.4 533.36,201.26 533.94,201.1 534.51,200.92 535.08,200.72 535.65,200.5 536.22,200.25 536.79,199.98 537.36,199.71 537.93,199.44 538.5,199.17 539.07,198.89 539.64,198.62 540.21,198.34 540.78,198.05 541.35,197.77 541.92,197.49 542.49,197.2 543.06,196.91 543.64,196.62 544.21,196.33 544.78,196.04 545.35,195.75 545.92,195.46 546.49,195.17 547.06,194.87 547.63,194.57 548.2,194.27 548.77,193.97 549.34,193.66 549.91,193.36 550.48,193.05 551.05,192.74 551.62,192.44 552.19,192.13 552.77,191.83 553.34,191.53 553.91,191.23 554.48,190.93 555.05,190.64 555.62,190.35 556.19,190.06 556.76,189.79 557.33,189.53 557.9,189.29 558.47,189.06 559.04,188.85 559.61,188.65 560.18,188.46 560.75,188.29 561.32,188.13 561.9,187.98 562.47,187.84 563.04,187.71 563.61,187.6 564.18,187.49 564.75,187.4 565.32,187.31 565.89,187.23 566.46,187.17 567.03,187.1 567.6,187.04 568.17,186.98 568.74,186.92 569.31,186.86 569.88,186.81 570.45,186.76 571.03,186.71 571.6,186.67 572.17,186.63 572.74,186.6 573.31,186.57 573.88,186.55 574.45,186.53 575.02,186.51 575.59,186.5 576.16,186.5 576.73,186.5 577.3,186.5 577.87,186.5 578.44,186.5 579.01,186.5 579.58,186.5 580.16,186.5 580.73,186.5 581.3,186.5 581.87,186.5 582.44,186.5 583.01,186.5 583.58,186.5 584.15,186.5 584.72,186.5 585.29,186.5 585.86,186.5 586.43,186.5 587,186.5 587.57,186.5 588.14,186.5 588.71,186.5 589.29,186.5 589.86,186.5 590.43,186.5 591,186.5 591.57,186.5 592.14,186.5 592.71,186.5 593.28,186.5 593.85,186.5" fill="none" stroke="#D95319" stroke-width="2.2" stroke-linejoin="round" stroke-linecap="butt"/>
<polyline clip-path="url(#c1)" points="166.46,56.7 167.03,56.7 167.6,56.7 168.17,56.7 168.74,56.71 169.31,56.73 169.88,56.74 170.45,56.76 171.02,56.78 171.59,56.8 172.16,56.83 172.73,56.85 173.3,56.87 173.87,56.9 174.45,56.93 175.02,56.96 175.59,57 176.16,57.05 176.73,57.1 177.3,57.16 177.87,57.23 178.44,57.3 179.01,57.39 179.58,57.48 180.15,57.59 180.72,57.71 181.29,57.84 181.86,57.98 182.43,58.14 183,58.31 183.58,58.49 184.15,58.68 184.72,58.88 185.29,59.1 185.86,59.32 186.43,59.55 187,59.79 187.57,60.04 188.14,60.29 188.71,60.56 189.28,60.83 189.85,61.11 190.42,61.39 190.99,61.67 191.56,61.95 192.13,62.23 192.7,62.51 193.28,62.79 193.85,63.07 194.42,63.36 194.99,63.64 195.56,63.92 196.13,64.2 196.7,64.48 197.27,64.77 197.84,65.05 198.41,65.33 198.98,65.61 199.55,65.9 200.12,66.18 200.69,66.46 201.26,66.75 201.83,67.03 202.41,67.32 202.98,67.6 203.55,67.89 204.12,68.17 204.69,68.46 205.26,68.74 205.83,69.03 206.4,69.31 206.97,69.6 207.54,69.88 208.11,70.16 208.68,70.45 209.25,70.73 209.82,71.01 210.39,71.29 210.96,71.55 211.54,71.8 212.11,72.04 212.68,72.27 213.25,72.49 213.82,72.7 214.39,72.9 214.96,73.09 215.53,73.28 216.1,73.45 216.67,73.62 217.24,73.78 217.81,73.94 218.38,74.09 218.95,74.23 219.52,74.37 220.09,74.5 220.67,74.63 221.24,74.76 221.81,74.88 222.38,75 222.95,75.11 223.52,75.22 224.09,75.32 224.66,75.42 225.23,75.51 225.8,75.59 226.37,75.66 226.94,75.73 227.51,75.79 228.08,75.84 228.65,75.89 229.22,75.92 229.8,75.95 230.37,75.97 230.94,75.99 231.51,76.01 232.08,76.03 232.65,76.04 233.22,76.06 233.79,76.08 234.36,76.09 234.93,76.11 235.5,76.13 236.07,76.14 236.64,76.15 237.21,76.17 237.78,76.18 238.35,76.19 238.93,76.21 239.5,76.22 240.07,76.23 240.64,76.24 241.21,76.25 241.78,76.26 242.35,76.26 242.92,76.27 243.49,76.28 244.06,76.28 244.63,76.29 245.2,76.3 245.77,76.3 246.34,76.31 246.91,76.32 247.48,76.32 248.05,76.33 248.63,76.34 249.2,76.35 249.77,76.36 250.34,76.37 250.91,76.39 251.48,76.42 252.05,76.45 252.62,76.49 253.19,76.53 253.76,76.58 254.33,76.64 254.9,76.69 255.47,76.75 256.04,76.82 256.61,76.89 257.18,76.96 257.76,77.04 258.33,77.11 258.9,77.19 259.47,77.27 260.04,77.36 260.61,77.45 261.18,77.55 261.75,77.66 262.32,77.78 262.89,77.91 263.46,78.04 264.03,78.18 264.6,78.34 265.17,78.5 265.74,78.66 266.31,78.84 266.89,79.02 267.46,79.21 268.03,79.41 268.6,79.61 269.17,79.82 269.74,80.04 270.31,80.26 270.88,80.49 271.45,80.73 272.02,80.97 272.59,81.22 273.16,81.48 273.73,81.74 274.3,82.01 274.87,82.29 275.44,82.58 276.02,82.87 276.59,83.17 277.16,83.48 277.73,83.79 278.3,84.11 278.87,84.44 279.44,84.77 280.01,85.12 280.58,85.47 281.15,85.83 281.72,86.21 282.29,86.58 282.86,86.97 283.43,87.36 284,87.75 284.57,88.15 285.15,88.54 285.72,88.94 286.29,89.33 286.86,89.72 287.43,90.11 288,90.49 288.57,90.86 289.14,91.22 289.71,91.57 290.28,91.92 290.85,92.26 291.42,92.6 291.99,92.94 292.56,93.27 293.13,93.59 293.7,93.92 294.28,94.24 294.85,94.55 295.42,94.86 295.99,95.17 296.56,95.47 297.13,95.76 297.7,96.05 298.27,96.34 298.84,96.62 299.41,96.89 299.98,97.16 300.55,97.43 301.12,97.68 301.69,97.93 302.26,98.17 302.83,98.4 303.41,98.63 303.98,98.85 304.55,99.06 305.12,99.26 305.69,99.46 306.26,99.65 306.83,99.83 307.4,100.01 307.97,100.18 308.54,100.34 309.11,100.49 309.68,100.64 310.25,100.78 310.82,100.92 311.39,101.05 311.96,101.18 312.53,101.31 313.11,101.43 313.68,101.55 314.25,101.67 314.82,101.78 315.39,101.88 315.96,101.98 316.53,102.07 317.1,102.16 317.67,102.24 318.24,102.32 318.81,102.39 319.38,102.45 319.95,102.5 320.52,102.56 321.09,102.61 321.66,102.66 322.24,102.71 322.81,102.75 323.38,102.8 323.95,102.84 324.52,102.88 325.09,102.92 325.66,102.95 326.23,102.99 326.8,103.02 327.37,103.06 327.94,103.09 328.51,103.11 329.08,103.14 329.65,103.17 330.22,103.19 330.79,103.21 331.37,103.22 331.94,103.23 332.51,103.24 333.08,103.24 333.65,103.25 334.22,103.25 334.79,103.25 335.36,103.25 335.93,103.25 336.5,103.25 337.07,103.26 337.64,103.26 338.21,103.27 338.78,103.28 339.35,103.3 339.92,103.31 340.5,103.34 341.07,103.37 341.64,103.4 342.21,103.44 342.78,103.49 343.35,103.54 343.92,103.59 344.49,103.66 345.06,103.73 345.63,103.8 346.2,103.89 346.77,103.98 347.34,104.07 347.91,104.17 348.48,104.28 349.05,104.4 349.63,104.52 350.2,104.65 350.77,104.8 351.34,104.95 351.91,105.11 352.48,105.28 353.05,105.46 353.62,105.65 354.19,105.84 354.76,106.05 355.33,106.25 355.9,106.47 356.47,106.69 357.04,106.92 357.61,107.15 358.18,107.38 358.76,107.62 359.33,107.86 359.9,108.11 360.47,108.35 361.04,108.6 361.61,108.85 362.18,109.1 362.75,109.35 363.32,109.61 363.89,109.87 364.46,110.14 365.03,110.41 365.6,110.69 366.17,110.97 366.74,111.26 367.31,111.56 367.88,111.87 368.46,112.19 369.03,112.52 369.6,112.85 370.17,113.2 370.74,113.56 371.31,113.92 371.88,114.28 372.45,114.65 373.02,115.02 373.59,115.4 374.16,115.78 374.73,116.16 375.3,116.55 375.87,116.94 376.44,117.34 377.01,117.73 377.59,118.14 378.16,118.54 378.73,118.95 379.3,119.36 379.87,119.78 380.44,120.2 381.01,120.62 381.58,121.04 382.15,121.47 382.72,121.9 383.29,122.33 383.86,122.76 384.43,123.19 385,123.62 385.57,124.06 386.14,124.49 386.72,124.92 387.29,125.35 387.86,125.78 388.43,126.21 389,126.63 389.57,127.05 390.14,127.47 390.71,127.89 391.28,128.31 391.85,128.72 392.42,129.12 392.99,129.53 393.56,129.93 394.13,130.32 394.7,130.71 395.27,131.1 395.85,131.49 396.42,131.87 396.99,132.25 397.56,132.62 398.13,132.99 398.7,133.36 399.27,133.72 399.84,134.08 400.41,134.43 400.98,134.77 401.55,135.1 402.12,135.4 402.69,135.7 403.26,135.97 403.83,136.24 404.4,136.49 404.98,136.73 405.55,136.96 406.12,137.17 406.69,137.37 407.26,137.57 407.83,137.75 408.4,137.92 408.97,138.08 409.54,138.23 410.11,138.37 410.68,138.51 411.25,138.64 411.82,138.77 412.39,138.9 412.96,139.02 413.53,139.14 414.11,139.25 414.68,139.36 415.25,139.46 415.82,139.56 416.39,139.65 416.96,139.73 417.53,139.8 418.1,139.87 418.67,139.93 419.24,139.98 419.81,140.02 420.38,140.05 420.95,140.08 421.52,140.11 422.09,140.14 422.66,140.17 423.23,140.2 423.81,140.23 424.38,140.26 424.95,140.29 425.52,140.32 426.09,140.35 426.66,140.38 427.23,140.41 427.8,140.44 428.37,140.47 428.94,140.5 429.51,140.53 430.08,140.57 430.65,140.6 431.22,140.63 431.79,140.66 432.36,140.69 432.94,140.72 433.51,140.75 434.08,140.78 434.65,140.81 435.22,140.85 435.79,140.88 436.36,140.91 436.93,140.94 437.5,140.97 438.07,141.01 438.64,141.04 439.21,141.07 439.78,141.1 440.35,141.13 440.92,141.18 441.49,141.23 442.07,141.3 442.64,141.38 443.21,141.47 443.78,141.57 444.35,141.68 444.92,141.8 445.49,141.93 446.06,142.06 446.63,142.19 447.2,142.33 447.77,142.48 448.34,142.62 448.91,142.77 449.48,142.92 450.05,143.08 450.62,143.23 451.2,143.38 451.77,143.55 452.34,143.71 452.91,143.88 453.48,144.06 454.05,144.25 454.62,144.44 455.19,144.64 455.76,144.85 456.33,145.07 456.9,145.3 457.47,145.55 458.04,145.8 458.61,146.07 459.18,146.35 459.75,146.64 460.33,146.95 460.9,147.27 461.47,147.6 462.04,147.94 462.61,148.29 463.18,148.64 463.75,149 464.32,149.36 464.89,149.72 465.46,150.08 466.03,150.45 466.6,150.81 467.17,151.17 467.74,151.52 468.31,151.87 468.88,152.21 469.46,152.54 470.03,152.87 470.6,153.19 471.17,153.5 471.74,153.81 472.31,154.13 472.88,154.44 473.45,154.75 474.02,155.06 474.59,155.37 475.16,155.68 475.73,156 476.3,156.31 476.87,156.62 477.44,156.93 478.01,157.24 478.58,157.56 479.16,157.87 479.73,158.19 480.3,158.51 480.87,158.83 481.44,159.15 482.01,159.48 482.58,159.81 483.15,160.14 483.72,160.47 484.29,160.8 484.86,161.13 485.43,161.47 486,161.8 486.57,162.13 487.14,162.47 487.71,162.8 488.29,163.13 488.86,163.45 489.43,163.78 490,164.1 490.57,164.42 491.14,164.73 491.71,165.04 492.28,165.33 492.85,165.62 493.42,165.9 493.99,166.18 494.56,166.45 495.13,166.72 495.7,166.98 496.27,167.23 496.84,167.48 497.42,167.73 497.99,167.97 498.56,168.21 499.13,168.45 499.7,168.68 500.27,168.91 500.84,169.14 501.41,169.37 501.98,169.58 502.55,169.79 503.12,170 503.69,170.19 504.26,170.38 504.83,170.56 505.4,170.73 505.97,170.9 506.55,171.05 507.12,171.19 507.69,171.33 508.26,171.45 508.83,171.57 509.4,171.67 509.97,171.76 510.54,171.84 511.11,171.91 511.68,171.98 512.25,172.05 512.82,172.11 513.39,172.17 513.96,172.22 514.53,172.27 515.1,172.32 515.68,172.36 516.25,172.41 516.82,172.44 517.39,172.48 517.96,172.51 518.53,172.54 519.1,172.57 519.67,172.59 520.24,172.61 520.81,172.63 521.38,172.65 521.95,172.66 522.52,172.66 523.09,172.67 523.66,172.67 524.23,172.67 524.81,172.67 525.38,172.67 525.95,172.67 526.52,172.67 527.09,172.67 527.66,172.68 528.23,172.68 528.8,172.7 529.37,172.71 529.94,172.74 530.51,172.77 531.08,172.8 531.65,172.84 532.22,172.89 532.79,172.95 533.36,173.01 533.94,173.07 534.51,173.15 535.08,173.22 535.65,173.31 536.22,173.39 536.79,173.49 537.36,173.58 537.93,173.68 538.5,173.79 539.07,173.9 539.64,174.01 540.21,174.12 540.78,174.24 541.35,174.37 541.92,174.5 542.49,174.64 543.06,174.78 543.64,174.94 544.21,175.09 544.78,175.26 545.35,175.43 545.92,175.61 546.49,175.8 547.06,175.99 547.63,176.19 548.2,176.39 548.77,176.6 549.34,176.82 549.91,177.05 550.48,177.28 551.05,177.53 551.62,177.79 552.19,178.06 552.77,178.34 553.34,178.63 553.91,178.92 554.48,179.22 555.05,179.52 555.62,179.83 556.19,180.13 556.76,180.43 557.33,180.73 557.9,181.02 558.47,181.31 559.04,181.58 559.61,181.85 560.18,182.1 560.75,182.34 561.32,182.58 561.9,182.82 562.47,183.06 563.04,183.29 563.61,183.51 564.18,183.73 564.75,183.95 565.32,184.16 565.89,184.36 566.46,184.55 567.03,184.73 567.6,184.9 568.17,185.06 568.74,185.21 569.31,185.35 569.88,185.47 570.45,185.58 571.03,185.69 571.6,185.79 572.17,185.88 572.74,185.96 573.31,186.04 573.88,186.12 574.45,186.18 575.02,186.24 575.59,186.3 576.16,186.34 576.73,186.39 577.3,186.42 577.87,186.45 578.44,186.47 579.01,186.49 579.58,186.5 580.16,186.5 580.73,186.5 581.3,186.5 581.87,186.5 582.44,186.5 583.01,186.5 583.58,186.5 584.15,186.5 584.72,186.5 585.29,186.5 585.86,186.5 586.43,186.5 587,186.5 587.57,186.5 588.14,186.5 588.71,186.5 589.29,186.5 589.86,186.5 590.43,186.5 591,186.5 591.57,186.5 592.14,186.5 592.71,186.5 593.28,186.5 593.85,186.5" fill="none" stroke="#EDB120" stroke-width="2.2" stroke-linejoin="round" stroke-linecap="butt"/>
<polyline clip-path="url(#c1)" points="166.46,186.5 167.03,185.36 167.6,184.24 168.17,183.12 168.74,182 169.31,180.89 169.88,179.79 170.45,178.69 171.02,177.59 171.59,176.5 172.16,175.41 172.73,174.33 173.3,173.25 173.87,172.17 174.45,171.12 175.02,170.09 175.59,169.09 176.16,168.09 176.73,167.11 177.3,166.12 177.87,165.14 178.44,164.14 179.01,163.13 179.58,162.1 180.15,161.04 180.72,159.95 181.29,158.83 181.86,157.67 182.43,156.5 183,155.32 183.58,154.15 184.15,152.97 184.72,151.79 185.29,150.6 185.86,149.42 186.43,148.24 187,147.05 187.57,145.87 188.14,144.69 188.71,143.51 189.28,142.32 189.85,141.14 190.42,139.95 190.99,138.76 191.56,137.57 192.13,136.39 192.7,135.2 193.28,134.01 193.85,132.83 194.42,131.64 194.99,130.46 195.56,129.31 196.13,128.27 196.7,127.34 197.27,126.49 197.84,125.7 198.41,124.97 198.98,124.28 199.55,123.61 200.12,122.95 200.69,122.39 201.26,121.92 201.83,121.55 202.41,121.25 202.98,121.03 203.55,120.88 204.12,120.78 204.69,120.71 205.26,120.67 205.83,120.67 206.4,120.71 206.97,120.82 207.54,121 208.11,121.26 208.68,121.63 209.25,122.1 209.82,122.7 210.39,123.43 210.96,124.31 211.54,125.35 212.11,126.55 212.68,127.79 213.25,129.05 213.82,130.33 214.39,131.62 214.96,132.91 215.53,134.21 216.1,135.52 216.67,136.83 217.24,138.13 217.81,139.42 218.38,140.71 218.95,141.98 219.52,143.24 220.09,144.48 220.67,145.73 221.24,146.98 221.81,148.23 222.38,149.48 222.95,150.72 223.52,151.96 224.09,153.18 224.66,154.39 225.23,155.58 225.8,156.75 226.37,157.88 226.94,158.98 227.51,160.06 228.08,161.12 228.65,162.17 229.22,163.21 229.8,164.26 230.37,165.31 230.94,166.39 231.51,167.49 232.08,168.61 232.65,169.75 233.22,170.9 233.79,172.05 234.36,173.22 234.93,174.38 235.5,175.55 236.07,176.71 236.64,177.88 237.21,179.04 237.78,180.19 238.35,181.33 238.93,182.47 239.5,183.59 240.07,184.7 240.64,185.81 241.21,186.92 241.78,188.02 242.35,189.12 242.92,190.23 243.49,191.33 244.06,192.43 244.63,193.52 245.2,194.62 245.77,195.72 246.34,196.81 246.91,197.91 247.48,199 248.05,200.09 248.63,201.18 249.2,202.26 249.77,203.35 250.34,204.44 250.91,205.52 251.48,206.6 252.05,207.68 252.62,208.76 253.19,209.84 253.76,210.92 254.33,211.99 254.9,213.07 255.47,214.14 256.04,215.21 256.61,216.28 257.18,217.35 257.76,218.41 258.33,219.48 258.9,220.54 259.47,221.6 260.04,222.66 260.61,223.72 261.18,224.78 261.75,225.83 262.32,226.89 262.89,227.94 263.46,228.99 264.03,230.04 264.6,231.08 265.17,232.13 265.74,233.18 266.31,234.22 266.89,235.27 267.46,236.31 268.03,237.35 268.6,238.39 269.17,239.44 269.74,240.48 270.31,241.52 270.88,242.56 271.45,243.6 272.02,244.64 272.59,245.68 273.16,246.71 273.73,247.74 274.3,248.76 274.87,249.77 275.44,250.79 276.02,251.8 276.59,252.81 277.16,253.81 277.73,254.82 278.3,255.82 278.87,256.82 279.44,257.82 280.01,258.81 280.58,259.74 281.15,260.59 281.72,261.38 282.29,262.13 282.86,262.85 283.43,263.51 284,264.01 284.57,264.36 285.15,264.55 285.72,264.6 286.29,264.49 286.86,264.2 287.43,263.73 288,263.06 288.57,262.26 289.14,261.43 289.71,260.56 290.28,259.64 290.85,258.65 291.42,257.61 291.99,256.58 292.56,255.55 293.13,254.52 293.7,253.48 294.28,252.45 294.85,251.41 295.42,250.38 295.99,249.33 296.56,248.29 297.13,247.24 297.7,246.18 298.27,245.12 298.84,244.05 299.41,242.98 299.98,241.89 300.55,240.81 301.12,239.72 301.69,238.63 302.26,237.54 302.83,236.45 303.41,235.36 303.98,234.27 304.55,233.18 305.12,232.09 305.69,231 306.26,229.91 306.83,228.81 307.4,227.72 307.97,226.63 308.54,225.54 309.11,224.44 309.68,223.35 310.25,222.26 310.82,221.17 311.39,220.08 311.96,218.98 312.53,217.89 313.11,216.8 313.68,215.71 314.25,214.62 314.82,213.53 315.39,212.44 315.96,211.35 316.53,210.26 317.1,209.18 317.67,208.09 318.24,207 318.81,205.92 319.38,204.84 319.95,203.75 320.52,202.67 321.09,201.59 321.66,200.51 322.24,199.43 322.81,198.36 323.38,197.28 323.95,196.21 324.52,195.13 325.09,194.06 325.66,192.99 326.23,191.92 326.8,190.84 327.37,189.77 327.94,188.7 328.51,187.63 329.08,186.56 329.65,185.49 330.22,184.42 330.79,183.35 331.37,182.28 331.94,181.2 332.51,180.13 333.08,179.06 333.65,177.98 334.22,176.91 334.79,175.83 335.36,174.76 335.93,173.68 336.5,172.6 337.07,171.52 337.64,170.44 338.21,169.36 338.78,168.27 339.35,167.19 339.92,166.1 340.5,165 341.07,163.9 341.64,162.79 342.21,161.67 342.78,160.54 343.35,159.42 343.92,158.29 344.49,157.16 345.06,156.03 345.63,154.9 346.2,153.77 346.77,152.65 347.34,151.54 347.91,150.43 348.48,149.34 349.05,148.24 349.63,147.14 350.2,146.05 350.77,144.96 351.34,143.87 351.91,142.78 352.48,141.69 353.05,140.61 353.62,139.52 354.19,138.44 354.76,137.36 355.33,136.27 355.9,135.19 356.47,134.11 357.04,133.03 357.61,131.95 358.18,130.87 358.76,129.78 359.33,128.7 359.9,127.62 360.47,126.54 361.04,125.46 361.61,124.39 362.18,123.32 362.75,122.25 363.32,121.19 363.89,120.12 364.46,119.07 365.03,118.01 365.6,116.95 366.17,115.9 366.74,114.85 367.31,113.8 367.88,112.75 368.46,111.71 369.03,110.66 369.6,109.62 370.17,108.58 370.74,107.58 371.31,106.64 371.88,105.74 372.45,104.88 373.02,104.05 373.59,103.25 374.16,102.46 374.73,101.67 375.3,100.89 375.87,100.13 376.44,99.43 377.01,98.81 377.59,98.28 378.16,97.83 378.73,97.48 379.3,97.24 379.87,97.1 380.44,97.1 381.01,97.24 381.58,97.5 382.15,97.89 382.72,98.38 383.29,98.98 383.86,99.68 384.43,100.45 385,101.22 385.57,102 386.14,102.8 386.72,103.62 387.29,104.46 387.86,105.33 388.43,106.24 389,107.18 389.57,108.17 390.14,109.2 390.71,110.24 391.28,111.29 391.85,112.34 392.42,113.39 392.99,114.44 393.56,115.49 394.13,116.55 394.7,117.61 395.27,118.67 395.85,119.74 396.42,120.81 396.99,121.89 397.56,122.98 398.13,124.07 398.7,125.17 399.27,126.28 399.84,127.39 400.41,128.52 400.98,129.65 401.55,130.79 402.12,131.94 402.69,133.09 403.26,134.25 403.83,135.41 404.4,136.57 404.98,137.73 405.55,138.89 406.12,140.05 406.69,141.2 407.26,142.35 407.83,143.49 408.4,144.62 408.97,145.75 409.54,146.86 410.11,147.96 410.68,149.06 411.25,150.15 411.82,151.23 412.39,152.32 412.96,153.4 413.53,154.48 414.11,155.55 414.68,156.63 415.25,157.7 415.82,158.77 416.39,159.83 416.96,160.9 417.53,161.96 418.1,163.02 418.67,164.07 419.24,165.13 419.81,166.18 420.38,167.24 420.95,168.29 421.52,169.33 422.09,170.37 422.66,171.4 423.23,172.43 423.81,173.46 424.38,174.48 424.95,175.5 425.52,176.52 426.09,177.55 426.66,178.57 427.23,179.59 427.8,180.62 428.37,181.66 428.94,182.7 429.51,183.74 430.08,184.8 430.65,185.86 431.22,186.93 431.79,188 432.36,189.08 432.94,190.17 433.51,191.25 434.08,192.35 434.65,193.45 435.22,194.55 435.79,195.65 436.36,196.76 436.93,197.87 437.5,198.98 438.07,200.09 438.64,201.21 439.21,202.32 439.78,203.44 440.35,204.56 440.92,205.68 441.49,206.79 442.07,207.91 442.64,209.02 443.21,210.14 443.78,211.25 444.35,212.36 444.92,213.46 445.49,214.57 446.06,215.67 446.63,216.77 447.2,217.86 447.77,218.95 448.34,220.03 448.91,221.11 449.48,222.19 450.05,223.25 450.62,224.32 451.2,225.38 451.77,226.44 452.34,227.5 452.91,228.56 453.48,229.61 454.05,230.67 454.62,231.72 455.19,232.77 455.76,233.82 456.33,234.87 456.9,235.91 457.47,236.96 458.04,238.01 458.61,239.05 459.18,240.09 459.75,241.14 460.33,242.18 460.9,243.22 461.47,244.26 462.04,245.3 462.61,246.34 463.18,247.38 463.75,248.42 464.32,249.46 464.89,250.5 465.46,251.53 466.03,252.55 466.6,253.57 467.17,254.59 467.74,255.6 468.31,256.62 468.88,257.62 469.46,258.63 470.03,259.63 470.6,260.64 471.17,261.64 471.74,262.64 472.31,263.64 472.88,264.59 473.45,265.46 474.02,266.28 474.59,267.07 475.16,267.81 475.73,268.37 476.3,268.76 476.87,268.96 477.44,268.99 478.01,268.83 478.58,268.5 479.16,268 479.73,267.37 480.3,266.7 480.87,265.99 481.44,265.21 482.01,264.31 482.58,263.32 483.15,262.32 483.72,261.33 484.29,260.33 484.86,259.32 485.43,258.32 486,257.31 486.57,256.3 487.14,255.29 487.71,254.27 488.29,253.25 488.86,252.22 489.43,251.18 490,250.15 490.57,249.1 491.14,248.06 491.71,247.01 492.28,245.97 492.85,244.92 493.42,243.88 493.99,242.83 494.56,241.79 495.13,240.74 495.7,239.7 496.27,238.65 496.84,237.61 497.42,236.56 497.99,235.52 498.56,234.47 499.13,233.43 499.7,232.38 500.27,231.33 500.84,230.29 501.41,229.24 501.98,228.2 502.55,227.15 503.12,226.11 503.69,225.06 504.26,224.01 504.83,222.97 505.4,221.92 505.97,220.87 506.55,219.83 507.12,218.78 507.69,217.73 508.26,216.69 508.83,215.64 509.4,214.59 509.97,213.54 510.54,212.5 511.11,211.45 511.68,210.4 512.25,209.35 512.82,208.3 513.39,207.26 513.96,206.21 514.53,205.16 515.1,204.11 515.68,203.06 516.25,202.01 516.82,200.96 517.39,199.91 517.96,198.86 518.53,197.81 519.1,196.76 519.67,195.71 520.24,194.66 520.81,193.61 521.38,192.55 521.95,191.5 522.52,190.45 523.09,189.39 523.66,188.34 524.23,187.28 524.81,186.23 525.38,185.17 525.95,184.11 526.52,183.06 527.09,182 527.66,180.94 528.23,179.88 528.8,178.82 529.37,177.76 529.94,176.69 530.51,175.63 531.08,174.55 531.65,173.45 532.22,172.33 532.79,171.21 533.36,170.07 533.94,168.93 534.51,167.77 535.08,166.62 535.65,165.46 536.22,164.29 536.79,163.13 537.36,161.98 537.93,160.82 538.5,159.68 539.07,158.54 539.64,157.41 540.21,156.29 540.78,155.19 541.35,154.09 541.92,152.99 542.49,151.9 543.06,150.82 543.64,149.74 544.21,148.66 544.78,147.58 545.35,146.51 545.92,145.43 546.49,144.35 547.06,143.28 547.63,142.23 548.2,141.19 548.77,140.17 549.34,139.16 549.91,138.17 550.48,137.19 551.05,136.21 551.62,135.24 552.19,134.28 552.77,133.44 553.34,132.71 553.91,132.1 554.48,131.62 555.05,131.26 555.62,131.04 556.19,130.95 556.76,130.99 557.33,131.17 557.9,131.47 558.47,131.89 559.04,132.44 559.61,133.09 560.18,133.86 560.75,134.72 561.32,135.6 561.9,136.48 562.47,137.37 563.04,138.27 563.61,139.19 564.18,140.12 564.75,141.07 565.32,142.04 565.89,143.03 566.46,144.01 567.03,144.99 567.6,145.98 568.17,146.99 568.74,148.01 569.31,149.05 569.88,150.12 570.45,151.23 571.03,152.36 571.6,153.52 572.17,154.71 572.74,155.91 573.31,157.13 573.88,158.36 574.45,159.59 575.02,160.84 575.59,162.09 576.16,163.33 576.73,164.57 577.3,165.81 577.87,167.03 578.44,168.24 579.01,169.43 579.58,170.6 580.16,171.76 580.73,172.9 581.3,174.03 581.87,175.15 582.44,176.26 583.01,177.35 583.58,178.44 584.15,179.51 584.72,180.58 585.29,181.64 585.86,182.69 586.43,183.72 587,184.65 587.57,185.5 588.14,186.25 588.71,186.92 589.29,187.53 589.86,188.08 590.43,188.56 591,188.83 591.57,188.86 592.14,188.7 592.71,188.36 593.28,187.81 593.85,187.05" fill="none" stroke="#7E2F8E" stroke-width="2.2" stroke-linejoin="round" stroke-linecap="butt"/>
<line x1="166.9" y1="49" x2="594.4" y2="49" stroke="#9a9a9a" stroke-width="1.6"/>
<line x1="166.9" y1="49" x2="166.9" y2="269" stroke="#9a9a9a" stroke-width="1.6"/>
<line x1="594.4" y1="49" x2="594.4" y2="269" stroke="#3a3a3a" stroke-width="1.1"/>
<line x1="166.9" y1="269" x2="594.8" y2="269" stroke="#3a3a3a" stroke-width="1.1"/>
<line x1="208.43" y1="269" x2="208.43" y2="264.7" stroke="#262626" stroke-width="0.8"/>
<line x1="208.43" y1="49" x2="208.43" y2="53.3" stroke="#262626" stroke-width="0.8"/>
<text x="208.43" y="280.7" text-anchor="middle" font-size="8.5" fill="#262626">50</text>
<line x1="251.25" y1="269" x2="251.25" y2="264.7" stroke="#262626" stroke-width="0.8"/>
<line x1="251.25" y1="49" x2="251.25" y2="53.3" stroke="#262626" stroke-width="0.8"/>
<text x="251.25" y="280.7" text-anchor="middle" font-size="8.5" fill="#262626">100</text>
<line x1="294.07" y1="269" x2="294.07" y2="264.7" stroke="#262626" stroke-width="0.8"/>
<line x1="294.07" y1="49" x2="294.07" y2="53.3" stroke="#262626" stroke-width="0.8"/>
<text x="294.07" y="280.7" text-anchor="middle" font-size="8.5" fill="#262626">150</text>
<line x1="336.9" y1="269" x2="336.9" y2="264.7" stroke="#262626" stroke-width="0.8"/>
<line x1="336.9" y1="49" x2="336.9" y2="53.3" stroke="#262626" stroke-width="0.8"/>
<text x="336.9" y="280.7" text-anchor="middle" font-size="8.5" fill="#262626">200</text>
<line x1="379.73" y1="269" x2="379.73" y2="264.7" stroke="#262626" stroke-width="0.8"/>
<line x1="379.73" y1="49" x2="379.73" y2="53.3" stroke="#262626" stroke-width="0.8"/>
<text x="379.73" y="280.7" text-anchor="middle" font-size="8.5" fill="#262626">250</text>
<line x1="422.55" y1="269" x2="422.55" y2="264.7" stroke="#262626" stroke-width="0.8"/>
<line x1="422.55" y1="49" x2="422.55" y2="53.3" stroke="#262626" stroke-width="0.8"/>
<text x="422.55" y="280.7" text-anchor="middle" font-size="8.5" fill="#262626">300</text>
<line x1="465.38" y1="269" x2="465.38" y2="264.7" stroke="#262626" stroke-width="0.8"/>
<line x1="465.38" y1="49" x2="465.38" y2="53.3" stroke="#262626" stroke-width="0.8"/>
<text x="465.38" y="280.7" text-anchor="middle" font-size="8.5" fill="#262626">350</text>
<line x1="508.2" y1="269" x2="508.2" y2="264.7" stroke="#262626" stroke-width="0.8"/>
<line x1="508.2" y1="49" x2="508.2" y2="53.3" stroke="#262626" stroke-width="0.8"/>
<text x="508.2" y="280.7" text-anchor="middle" font-size="8.5" fill="#262626">400</text>
<line x1="551.02" y1="269" x2="551.02" y2="264.7" stroke="#262626" stroke-width="0.8"/>
<line x1="551.02" y1="49" x2="551.02" y2="53.3" stroke="#262626" stroke-width="0.8"/>
<text x="551.02" y="280.7" text-anchor="middle" font-size="8.5" fill="#262626">450</text>
<line x1="593.85" y1="269" x2="593.85" y2="264.7" stroke="#262626" stroke-width="0.8"/>
<line x1="593.85" y1="49" x2="593.85" y2="53.3" stroke="#262626" stroke-width="0.8"/>
<text x="593.85" y="280.7" text-anchor="middle" font-size="8.5" fill="#262626">500</text>
<line x1="166.9" y1="269" x2="171.2" y2="269" stroke="#262626" stroke-width="0.8"/>
<line x1="594.4" y1="269" x2="590.1" y2="269" stroke="#262626" stroke-width="0.8"/>
<text x="164" y="273" text-anchor="end" font-size="8.5" fill="#262626">-3</text>
<line x1="166.9" y1="241.5" x2="171.2" y2="241.5" stroke="#262626" stroke-width="0.8"/>
<line x1="594.4" y1="241.5" x2="590.1" y2="241.5" stroke="#262626" stroke-width="0.8"/>
<text x="164" y="245.5" text-anchor="end" font-size="8.5" fill="#262626">-2</text>
<line x1="166.9" y1="214" x2="171.2" y2="214" stroke="#262626" stroke-width="0.8"/>
<line x1="594.4" y1="214" x2="590.1" y2="214" stroke="#262626" stroke-width="0.8"/>
<text x="164" y="218" text-anchor="end" font-size="8.5" fill="#262626">-1</text>
<line x1="166.9" y1="186.5" x2="171.2" y2="186.5" stroke="#262626" stroke-width="0.8"/>
<line x1="594.4" y1="186.5" x2="590.1" y2="186.5" stroke="#262626" stroke-width="0.8"/>
<text x="164" y="190.5" text-anchor="end" font-size="8.5" fill="#262626">0</text>
<line x1="166.9" y1="159" x2="171.2" y2="159" stroke="#262626" stroke-width="0.8"/>
<line x1="594.4" y1="159" x2="590.1" y2="159" stroke="#262626" stroke-width="0.8"/>
<text x="164" y="163" text-anchor="end" font-size="8.5" fill="#262626">1</text>
<line x1="166.9" y1="131.5" x2="171.2" y2="131.5" stroke="#262626" stroke-width="0.8"/>
<line x1="594.4" y1="131.5" x2="590.1" y2="131.5" stroke="#262626" stroke-width="0.8"/>
<text x="164" y="135.5" text-anchor="end" font-size="8.5" fill="#262626">2</text>
<line x1="166.9" y1="104" x2="171.2" y2="104" stroke="#262626" stroke-width="0.8"/>
<line x1="594.4" y1="104" x2="590.1" y2="104" stroke="#262626" stroke-width="0.8"/>
<text x="164" y="108" text-anchor="end" font-size="8.5" fill="#262626">3</text>
<line x1="166.9" y1="76.5" x2="171.2" y2="76.5" stroke="#262626" stroke-width="0.8"/>
<line x1="594.4" y1="76.5" x2="590.1" y2="76.5" stroke="#262626" stroke-width="0.8"/>
<text x="164" y="80.5" text-anchor="end" font-size="8.5" fill="#262626">4</text>
<line x1="166.9" y1="49" x2="171.2" y2="49" stroke="#262626" stroke-width="0.8"/>
<line x1="594.4" y1="49" x2="590.1" y2="49" stroke="#262626" stroke-width="0.8"/>
<text x="164" y="53" text-anchor="end" font-size="8.5" fill="#262626">5</text>
<line x1="594.4" y1="269" x2="590.1" y2="269" stroke="#262626" stroke-width="0.8"/>
<text x="597" y="273" text-anchor="start" font-size="8.5" fill="#262626">0</text>
<line x1="594.4" y1="232.33" x2="590.1" y2="232.33" stroke="#262626" stroke-width="0.8"/>
<text x="597" y="236.33" text-anchor="start" font-size="8.5" fill="#262626">1</text>
<line x1="594.4" y1="195.67" x2="590.1" y2="195.67" stroke="#262626" stroke-width="0.8"/>
<text x="597" y="199.67" text-anchor="start" font-size="8.5" fill="#262626">2</text>
<line x1="594.4" y1="159" x2="590.1" y2="159" stroke="#262626" stroke-width="0.8"/>
<text x="597" y="163" text-anchor="start" font-size="8.5" fill="#262626">3</text>
<line x1="594.4" y1="122.33" x2="590.1" y2="122.33" stroke="#262626" stroke-width="0.8"/>
<text x="597" y="126.33" text-anchor="start" font-size="8.5" fill="#262626">4</text>
<line x1="594.4" y1="85.67" x2="590.1" y2="85.67" stroke="#262626" stroke-width="0.8"/>
<text x="597" y="89.67" text-anchor="start" font-size="8.5" fill="#262626">5</text>
<line x1="594.4" y1="49" x2="590.1" y2="49" stroke="#262626" stroke-width="0.8"/>
<text x="597" y="53" text-anchor="start" font-size="8.5" fill="#262626">6</text>
<text x="188" y="43.8" text-anchor="start" font-size="9.8" fill="#262626">state</text>
<text x="573.5" y="43.8" text-anchor="end" font-size="9.8" fill="#262626">running cost</text>
<text x="596.5" y="281.5" font-size="8.5" fill="#262626">×<tspan dx="1.5">10</tspan><tspan dy="-3.3" font-size="7.5">-3</tspan></text>
</g>
<clipPath id="c2"><rect x="729.4" y="47.2" width="430.2" height="223.4"/></clipPath>
<clipPath id="w2"><rect x="728" y="46.4" width="433" height="225.2"/></clipPath>
<g id="plot-trace">
<line x1="730.6" y1="104" x2="1158.4" y2="104" stroke="#e7e7e7" stroke-width="0.9"/>
<line x1="730.6" y1="159" x2="1158.4" y2="159" stroke="#e7e7e7" stroke-width="0.9"/>
<line x1="730.6" y1="214" x2="1158.4" y2="214" stroke="#e7e7e7" stroke-width="0.9"/>
<line x1="730.6" y1="49" x2="1158.4" y2="49" stroke="#9a9a9a" stroke-width="1.6"/>
<line x1="730.6" y1="49" x2="730.6" y2="269" stroke="#1a1a1a" stroke-width="1.2"/>
<line x1="1158.4" y1="49" x2="1158.4" y2="269" stroke="#3a3a3a" stroke-width="1.1"/>
<line x1="730.6" y1="269" x2="1158.8" y2="269" stroke="#3a3a3a" stroke-width="1.1"/>
<line x1="777.05" y1="269" x2="777.05" y2="264.7" stroke="#262626" stroke-width="0.8"/>
<line x1="777.05" y1="49" x2="777.05" y2="53.3" stroke="#262626" stroke-width="0.8"/>
<text x="777.05" y="280.7" text-anchor="middle" font-size="8.5" fill="#262626">20</text>
<line x1="825.94" y1="269" x2="825.94" y2="264.7" stroke="#262626" stroke-width="0.8"/>
<line x1="825.94" y1="49" x2="825.94" y2="53.3" stroke="#262626" stroke-width="0.8"/>
<text x="825.94" y="280.7" text-anchor="middle" font-size="8.5" fill="#262626">40</text>
<line x1="874.83" y1="269" x2="874.83" y2="264.7" stroke="#262626" stroke-width="0.8"/>
<line x1="874.83" y1="49" x2="874.83" y2="53.3" stroke="#262626" stroke-width="0.8"/>
<text x="874.83" y="280.7" text-anchor="middle" font-size="8.5" fill="#262626">60</text>
<line x1="923.72" y1="269" x2="923.72" y2="264.7" stroke="#262626" stroke-width="0.8"/>
<line x1="923.72" y1="49" x2="923.72" y2="53.3" stroke="#262626" stroke-width="0.8"/>
<text x="923.72" y="280.7" text-anchor="middle" font-size="8.5" fill="#262626">80</text>
<line x1="972.62" y1="269" x2="972.62" y2="264.7" stroke="#262626" stroke-width="0.8"/>
<line x1="972.62" y1="49" x2="972.62" y2="53.3" stroke="#262626" stroke-width="0.8"/>
<text x="972.62" y="280.7" text-anchor="middle" font-size="8.5" fill="#262626">100</text>
<line x1="1021.51" y1="269" x2="1021.51" y2="264.7" stroke="#262626" stroke-width="0.8"/>
<line x1="1021.51" y1="49" x2="1021.51" y2="53.3" stroke="#262626" stroke-width="0.8"/>
<text x="1021.51" y="280.7" text-anchor="middle" font-size="8.5" fill="#262626">120</text>
<line x1="1070.4" y1="269" x2="1070.4" y2="264.7" stroke="#262626" stroke-width="0.8"/>
<line x1="1070.4" y1="49" x2="1070.4" y2="53.3" stroke="#262626" stroke-width="0.8"/>
<text x="1070.4" y="280.7" text-anchor="middle" font-size="8.5" fill="#262626">140</text>
<line x1="1119.29" y1="269" x2="1119.29" y2="264.7" stroke="#262626" stroke-width="0.8"/>
<line x1="1119.29" y1="49" x2="1119.29" y2="53.3" stroke="#262626" stroke-width="0.8"/>
<text x="1119.29" y="280.7" text-anchor="middle" font-size="8.5" fill="#262626">160</text>
<polyline clip-path="url(#c2)" points="730.6,57 733.05,75 735.5,79 739,83 744,88 746.5,93 748,98 751,107 754,118 757,129 760,140 762,150 765,161 768,170 771,179 774,186 777,192 780,198 784,204 785.5,208 787,214 789.5,218.5 793,221.4 798,221.6 804,221.6 807,224 810,227 813,230 816,233 819,234.7 822,236 825.5,237.8 829,239.4 835,240.9 842,242 850,242.6 860,243.1 880,244.1 900,245.2 920,246 940,246.8 960,247.6 976,248.2 1003,248.8 1040,249 1157,249.1" fill="none" stroke="#808080" stroke-width="4.2" stroke-linejoin="round" stroke-linecap="butt"/>
<rect x="1094.3" y="52.6" width="56.8" height="65" fill="#fff"/>
<line x1="1094.3" y1="52.6" x2="1151.1" y2="52.6" stroke="#9a9a9a" stroke-width="1.5"/>
<line x1="1151.1" y1="52.6" x2="1151.1" y2="117.6" stroke="#9a9a9a" stroke-width="1.5"/>
<line x1="1094.3" y1="52.6" x2="1094.3" y2="117.6" stroke="#262626" stroke-width="0.9"/>
<line x1="1094.3" y1="117.6" x2="1151.6" y2="117.6" stroke="#262626" stroke-width="0.9"/>
<line x1="1097.2" y1="59.7" x2="1130" y2="59.7" stroke="#808080" stroke-width="4.4"/>
<line x1="1097.2" y1="71.5" x2="1130" y2="71.5" stroke="#0072BD" stroke-width="2"/>
<circle cx="1113.7" cy="71.5" r="1.6" fill="#0072BD"/>
<line x1="1097.2" y1="83.5" x2="1130" y2="83.5" stroke="#D95319" stroke-width="2"/>
<circle cx="1113.7" cy="83.5" r="1.6" fill="#D95319"/>
<line x1="1097.2" y1="96.9" x2="1130" y2="96.9" stroke="#EDB120" stroke-width="2"/>
<circle cx="1113.7" cy="96.9" r="1.6" fill="#EDB120"/>
<line x1="1097.2" y1="111" x2="1130" y2="111" stroke="#7E2F8E" stroke-width="2"/>
<circle cx="1113.7" cy="111" r="1.6" fill="#7E2F8E"/>
<text x="1133" y="62.7" text-anchor="start" font-size="9" fill="#262626">V</text>
<text x="1133" y="74.5" text-anchor="start" font-size="9.5" fill="#262626" font-family="'Liberation Serif', serif" font-style="italic">λ</text>
<text x="1133" y="86.1" text-anchor="start" font-size="9.5" fill="#262626" font-family="'Liberation Serif', serif" font-style="italic">α</text>
<text x="1133" y="99.5" font-size="9" fill="#262626"><tspan font-size="9.5" font-family="'Liberation Serif', serif" font-style="italic">∂</tspan><tspan dy="2.4" font-size="6.5">u</tspan><tspan dy="-2.4">V</tspan></text>
<text x="1133" y="114.2" text-anchor="start" font-size="9" fill="#262626">ΔV</text>
<polyline clip-path="url(#c2)" points="730.6,54.61 733.04,65.83 735.49,82.66 737.93,105.1 740.38,133.15 742.82,166.81 745.27,206.08 747.71,250.96" fill="none" stroke="#0072BD" stroke-width="2.1" stroke-linejoin="round" stroke-linecap="butt"/>
<path clip-path="url(#c2)" d="M730.6 54.61h0M733.04 65.83h0M735.49 82.66h0M737.93 105.1h0M740.38 133.15h0M742.82 166.81h0M745.27 206.08h0M747.71 250.96h0" stroke="#0072BD" stroke-width="3.4" stroke-linecap="round" fill="none"/>
<polyline clip-path="url(#c2)" points="796.6,214 799.05,202.72 801.49,185.95 803.94,191.45 806.38,202.72 808.83,219.5" fill="none" stroke="#0072BD" stroke-width="2.1" stroke-linejoin="round" stroke-linecap="butt"/>
<path clip-path="url(#c2)" d="M796.6 214h0M799.05 202.72h0M801.49 185.95h0M803.94 191.45h0M806.38 202.72h0M808.83 219.5h0" stroke="#0072BD" stroke-width="3.4" stroke-linecap="round" fill="none"/>
<polyline clip-path="url(#c2)" points="730.6,82 733.04,57.25 735.49,57.25 737.93,49 740.38,57.25 742.82,57.25 745.27,73.75 747.71,49 750.16,65.5 752.6,65.5 755.05,65.5 757.49,57.25 759.94,90.25 762.38,65.5 764.82,73.75 767.27,65.5 769.71,65.5 772.16,65.5 774.6,65.5 777.05,73.75 779.49,65.5 781.94,65.5 784.38,65.5 786.83,49 789.27,65.5 791.72,82 794.16,82" fill="none" stroke="#D95319" stroke-width="2.3" stroke-linejoin="round" stroke-linecap="butt"/>
<polyline clip-path="url(#c2)" points="803.94,98.5 806.38,82 808.83,65.5 811.27,73.75 813.72,82 816.16,65.5 818.61,65.5 821.05,73.75 823.49,65.5 825.94,65.5 828.38,49 830.83,90.25 833.27,82 835.72,65.5 838.16,49 840.61,90.25 843.05,49 845.5,49 847.94,73.75 850.39,106.75 852.83,73.75 855.27,49 857.72,73.75 860.16,49 862.61,106.75 865.05,49 867.5,49 869.94,73.75 872.39,49 874.83,106.75 877.28,57.25 879.72,98.5 882.17,49 884.61,82 887.05,49 889.5,82 891.94,49 894.39,49 896.83,98.5 899.28,49 901.72,106.75 904.17,49 906.61,49 909.06,115 911.5,65.5 913.95,49 916.39,123.25 918.83,98.5 921.28,57.25 923.72,65.5 926.17,49 928.61,49 931.06,49 933.5,98.5 935.95,49 938.39,123.25 940.84,98.5 943.28,73.75 945.72,49 948.17,49 950.61,49 953.06,90.25 955.5,49 957.95,49 960.39,49 962.84,49 965.28,49 967.73,49 970.17,49 972.62,49 975.06,49 977.5,49 979.95,49 982.39,49 984.84,49 987.28,49 989.73,49 992.17,49 994.62,49 997.06,49 999.51,49 1001.95,49 1004.4,49 1006.84,49 1009.28,49 1011.73,57.25 1014.17,49 1016.62,49 1019.06,49 1021.51,49 1023.95,49 1026.4,49 1028.84,49 1031.29,49 1033.73,49 1036.17,49 1038.62,49 1041.06,49 1043.51,49 1045.95,57.25 1048.4,49 1050.84,49 1053.29,49 1055.73,49 1058.18,49 1060.62,49 1063.07,49 1065.51,49 1067.95,49 1070.4,49 1072.84,49 1075.29,49 1077.73,49 1080.18,49 1082.62,57.25 1085.07,49 1087.51,49 1089.96,49 1092.4,49 1094.85,49 1097.29,49 1099.73,49 1102.18,49 1104.62,49 1107.07,49 1109.51,49 1111.96,49 1114.4,49 1116.85,49 1119.29,49 1121.74,57.25 1124.18,49 1126.63,49 1129.07,49 1131.51,49 1133.96,49 1136.4,49 1138.85,49 1141.29,49 1143.74,49 1146.18,49 1148.63,49 1151.07,49 1153.52,49 1155.96,49 1158.4,49" fill="none" stroke="#D95319" stroke-width="2.3" stroke-linejoin="round" stroke-linecap="butt"/>
<path clip-path="url(#c2)" d="M730.6 82h0M733.04 57.25h0M735.49 57.25h0M737.93 49h0M740.38 57.25h0M742.82 57.25h0M745.27 73.75h0M747.71 49h0M750.16 65.5h0M752.6 65.5h0M755.05 65.5h0M757.49 57.25h0M759.94 90.25h0M762.38 65.5h0M764.82 73.75h0M767.27 65.5h0M769.71 65.5h0M772.16 65.5h0M774.6 65.5h0M777.05 73.75h0M779.49 65.5h0M781.94 65.5h0M784.38 65.5h0M786.83 49h0M789.27 65.5h0M791.72 82h0M794.16 82h0M803.94 98.5h0M806.38 82h0M808.83 65.5h0M811.27 73.75h0M813.72 82h0M816.16 65.5h0M818.61 65.5h0M821.05 73.75h0M823.49 65.5h0M825.94 65.5h0M828.38 49h0M830.83 90.25h0M833.27 82h0M835.72 65.5h0M838.16 49h0M840.61 90.25h0M843.05 49h0M845.5 49h0M847.94 73.75h0M850.39 106.75h0M852.83 73.75h0M855.27 49h0M857.72 73.75h0M860.16 49h0M862.61 106.75h0M865.05 49h0M867.5 49h0M869.94 73.75h0M872.39 49h0M874.83 106.75h0M877.28 57.25h0M879.72 98.5h0M882.17 49h0M884.61 82h0M887.05 49h0M889.5 82h0M891.94 49h0M894.39 49h0M896.83 98.5h0M899.28 49h0M901.72 106.75h0M904.17 49h0M906.61 49h0M909.06 115h0M911.5 65.5h0M913.95 49h0M916.39 123.25h0M918.83 98.5h0M921.28 57.25h0M923.72 65.5h0M926.17 49h0M928.61 49h0M931.06 49h0M933.5 98.5h0M935.95 49h0M938.39 123.25h0M940.84 98.5h0M943.28 73.75h0M945.72 49h0M948.17 49h0M950.61 49h0M953.06 90.25h0M955.5 49h0M957.95 49h0M960.39 49h0M962.84 49h0M965.28 49h0M967.73 49h0M970.17 49h0M972.62 49h0M975.06 49h0M977.5 49h0M979.95 49h0M982.39 49h0M984.84 49h0M987.28 49h0M989.73 49h0M992.17 49h0M994.62 49h0M997.06 49h0M999.51 49h0M1001.95 49h0M1004.4 49h0M1006.84 49h0M1009.28 49h0M1011.73 57.25h0M1014.17 49h0M1016.62 49h0M1019.06 49h0M1021.51 49h0M1023.95 49h0M1026.4 49h0M1028.84 49h0M1031.29 49h0M1033.73 49h0M1036.17 49h0M1038.62 49h0M1041.06 49h0M1043.51 49h0M1045.95 57.25h0M1048.4 49h0M1050.84 49h0M1053.29 49h0M1055.73 49h0M1058.18 49h0M1060.62 49h0M1063.07 49h0M1065.51 49h0M1067.95 49h0M1070.4 49h0M1072.84 49h0M1075.29 49h0M1077.73 49h0M1080.18 49h0M1082.62 57.25h0M1085.07 49h0M1087.51 49h0M1089.96 49h0M1092.4 49h0M1094.85 49h0M1097.29 49h0M1099.73 49h0M1102.18 49h0M1104.62 49h0M1107.07 49h0M1109.51 49h0M1111.96 49h0M1114.4 49h0M1116.85 49h0M1119.29 49h0M1121.74 57.25h0M1124.18 49h0M1126.63 49h0M1129.07 49h0M1131.51 49h0M1133.96 49h0M1136.4 49h0M1138.85 49h0M1141.29 49h0M1143.74 49h0M1146.18 49h0M1148.63 49h0M1151.07 49h0M1153.52 49h0M1155.96 49h0M1158.4 49h0" stroke="#D95319" stroke-width="3.5" stroke-linecap="round" fill="none"/>
<polyline clip-path="url(#c2)" points="730.6,86.12 733.04,98.5 735.49,91.08 737.93,83.1 740.38,69.9 742.82,58.9 745.27,53.95 747.71,56.97 750.16,52.57 752.6,58.07 755.05,55.05 757.49,52.57 759.94,50.51 762.38,55.88 764.82,58.07 767.27,59.45 769.71,58.62 772.16,61.1 774.6,61.38 777.05,60 779.49,61.92 781.94,63.58 784.38,64.4 786.83,63.58 789.27,60 791.72,61.38 794.16,65.5 796.6,64.12 799.05,64.12 801.49,64.12 803.94,64.4 806.38,66.6 808.83,67.43 811.27,65.5 813.72,65.5 816.16,67.43 818.61,68.53 821.05,72.38 823.49,75.4 825.94,77.88 828.38,79.53 830.83,71 833.27,72.93 835.72,77.88 838.16,80.9 840.61,74.03 843.05,86.12 845.5,92.45 847.94,76.5 850.39,83.92 852.83,91.08 855.27,94.93 857.72,91.9 860.16,94.93 862.61,82.55 865.05,97.95 867.5,94.1 869.94,80.07 872.39,95.75 874.83,71 877.28,91.9 879.72,85.03 882.17,95.75 884.61,86.95 887.05,95.75 889.5,86.12 891.94,94.93 894.39,94.1 896.83,77.88 899.28,95.75 901.72,82 904.17,94.1 906.61,95.75 909.06,70.45 911.5,91.9 913.95,95.75 916.39,66.88 918.83,83.92 921.28,94.93 923.72,93 926.17,95.75 928.61,97.4 931.06,94.93 933.5,80.07 935.95,94.93 938.39,66.88 940.84,83.1 943.28,94.1 945.72,98.5 948.17,99.6 950.61,97.95 953.06,91.9 955.5,99.88 957.95,98.91 960.39,100.84 962.84,98.91 965.28,100.84 967.73,98.91 970.17,100.84 972.62,98.91 975.06,100.79 977.5,98.83 979.95,100.71 982.39,98.74 984.84,100.62 987.28,98.65 989.73,101.08 992.17,100.01 994.62,103.02 997.06,102.18 999.51,105.19 1001.95,103.69 1004.4,105.77 1006.84,103.99 1009.28,106.06 1011.73,108.43 1014.17,113.43 1016.62,112.74 1019.06,115.9 1021.51,115.02 1023.95,117.82 1026.4,116.77 1028.84,119.56 1031.29,118.4 1033.73,120.93 1036.17,119.61 1038.62,122.14 1041.06,120.07 1043.51,120.09 1045.95,121.05 1048.4,125.86 1050.84,124.8 1053.29,127.58 1055.73,126.52 1058.18,129.3 1060.62,128.22 1063.07,130.93 1065.51,129.79 1067.95,132.5 1070.4,131.36 1072.84,133.47 1075.29,131.73 1077.73,133.84 1080.18,129.99 1082.62,129.99 1085.07,134.94 1087.51,137.68 1089.96,136.57 1092.4,139.32 1094.85,138.26 1097.29,141.2 1099.73,140.28 1102.18,143.21 1104.62,142.18 1107.07,144.56 1109.51,143.1 1111.96,145.48 1114.4,144.01 1116.85,144.93 1119.29,142 1121.74,142.91 1124.18,148.14 1126.63,150.83 1129.07,149.68 1131.51,152.37 1133.96,151.22 1136.4,153.91 1138.85,152.85 1141.29,155.63 1143.74,154.57 1146.18,157.35 1148.63,156.26 1151.07,158.9 1153.52,157.7 1155.96,160.34 1158.4,159.14" fill="none" stroke="#EDB120" stroke-width="2.3" stroke-linejoin="round" stroke-linecap="butt"/>
<path clip-path="url(#c2)" d="M730.6 86.12h0M733.04 98.5h0M735.49 91.08h0M737.93 83.1h0M740.38 69.9h0M742.82 58.9h0M745.27 53.95h0M747.71 56.97h0M750.16 52.57h0M752.6 58.07h0M755.05 55.05h0M757.49 52.57h0M759.94 50.51h0M762.38 55.88h0M764.82 58.07h0M767.27 59.45h0M769.71 58.62h0M772.16 61.1h0M774.6 61.38h0M777.05 60h0M779.49 61.92h0M781.94 63.58h0M784.38 64.4h0M786.83 63.58h0M789.27 60h0M791.72 61.38h0M794.16 65.5h0M796.6 64.12h0M799.05 64.12h0M801.49 64.12h0M803.94 64.4h0M806.38 66.6h0M808.83 67.43h0M811.27 65.5h0M813.72 65.5h0M816.16 67.43h0M818.61 68.53h0M821.05 72.38h0M823.49 75.4h0M825.94 77.88h0M828.38 79.53h0M830.83 71h0M833.27 72.93h0M835.72 77.88h0M838.16 80.9h0M840.61 74.03h0M843.05 86.12h0M845.5 92.45h0M847.94 76.5h0M850.39 83.92h0M852.83 91.08h0M855.27 94.93h0M857.72 91.9h0M860.16 94.93h0M862.61 82.55h0M865.05 97.95h0M867.5 94.1h0M869.94 80.07h0M872.39 95.75h0M874.83 71h0M877.28 91.9h0M879.72 85.03h0M882.17 95.75h0M884.61 86.95h0M887.05 95.75h0M889.5 86.12h0M891.94 94.93h0M894.39 94.1h0M896.83 77.88h0M899.28 95.75h0M901.72 82h0M904.17 94.1h0M906.61 95.75h0M909.06 70.45h0M911.5 91.9h0M913.95 95.75h0M916.39 66.88h0M918.83 83.92h0M921.28 94.93h0M923.72 93h0M926.17 95.75h0M928.61 97.4h0M931.06 94.93h0M933.5 80.07h0M935.95 94.93h0M938.39 66.88h0M940.84 83.1h0M943.28 94.1h0M945.72 98.5h0M948.17 99.6h0M950.61 97.95h0M953.06 91.9h0M955.5 99.88h0M957.95 98.91h0M960.39 100.84h0M962.84 98.91h0M965.28 100.84h0M967.73 98.91h0M970.17 100.84h0M972.62 98.91h0M975.06 100.79h0M977.5 98.83h0M979.95 100.71h0M982.39 98.74h0M984.84 100.62h0M987.28 98.65h0M989.73 101.08h0M992.17 100.01h0M994.62 103.02h0M997.06 102.18h0M999.51 105.19h0M1001.95 103.69h0M1004.4 105.77h0M1006.84 103.99h0M1009.28 106.06h0M1011.73 108.43h0M1014.17 113.43h0M1016.62 112.74h0M1019.06 115.9h0M1021.51 115.02h0M1023.95 117.82h0M1026.4 116.77h0M1028.84 119.56h0M1031.29 118.4h0M1033.73 120.93h0M1036.17 119.61h0M1038.62 122.14h0M1041.06 120.07h0M1043.51 120.09h0M1045.95 121.05h0M1048.4 125.86h0M1050.84 124.8h0M1053.29 127.58h0M1055.73 126.52h0M1058.18 129.3h0M1060.62 128.22h0M1063.07 130.93h0M1065.51 129.79h0M1067.95 132.5h0M1070.4 131.36h0M1072.84 133.47h0M1075.29 131.73h0M1077.73 133.84h0M1080.18 129.99h0M1082.62 129.99h0M1085.07 134.94h0M1087.51 137.68h0M1089.96 136.57h0M1092.4 139.32h0M1094.85 138.26h0M1097.29 141.2h0M1099.73 140.28h0M1102.18 143.21h0M1104.62 142.18h0M1107.07 144.56h0M1109.51 143.1h0M1111.96 145.48h0M1114.4 144.01h0M1116.85 144.93h0M1119.29 142h0M1121.74 142.91h0M1124.18 148.14h0M1126.63 150.83h0M1129.07 149.68h0M1131.51 152.37h0M1133.96 151.22h0M1136.4 153.91h0M1138.85 152.85h0M1141.29 155.63h0M1143.74 154.57h0M1146.18 157.35h0M1148.63 156.26h0M1151.07 158.9h0M1153.52 157.7h0M1155.96 160.34h0M1158.4 159.14h0" stroke="#EDB120" stroke-width="3.5" stroke-linecap="round" fill="none"/>
<polyline clip-path="url(#c2)" points="730.6,75.12 733.04,80.9 735.49,84.47 737.93,79.53 740.38,80.9 742.82,83.92 745.27,87.5 747.71,74.03 750.16,67.43 752.6,72.1 755.05,75.95 757.49,65.5 759.94,67.43 762.38,70.45 764.82,69.08 767.27,68.53 769.71,72.93 772.16,72.38 774.6,67.97 777.05,86.4 779.49,73.47 781.94,75.95 784.38,82.55 786.83,67.43 789.27,80.9 791.72,80.07 794.16,90.53" fill="none" stroke="#7E2F8E" stroke-width="2.3" stroke-linejoin="round" stroke-linecap="butt"/>
<polyline clip-path="url(#c2)" points="803.94,141.95 806.38,90.25 808.83,84.2 811.27,87.5 813.72,92.45 816.16,80.62 818.61,94.93 821.05,91.62 823.49,100.15 825.94,91.08 828.38,87.22 830.83,116.1 833.27,108.12 835.72,107.57 838.16,96.3 840.61,124.62 843.05,101.53 845.5,111.97 847.94,119.95 850.39,146.62 852.83,133.97 855.27,109.5 857.72,139.47 860.16,110.88 862.61,154.6 865.05,112.53 867.5,116.1 869.94,128.48 872.39,119.12 874.83,128.48 877.28,115.55 879.72,146.62 882.17,113.9 884.61,134.52 887.05,110.05 889.5,146.9 891.94,110.05 894.39,115 896.83,133.43 899.28,109.5 901.72,157.62 904.17,110.88 906.61,114.45 909.06,142.5 911.5,130.12 913.95,112.53 916.39,135.07 918.83,148 921.28,126.55 923.72,122.97 926.17,111.97 928.61,113.62 931.06,124.08 933.5,135.9 935.95,116.1 938.39,135.07 940.84,148.55 943.28,139.47 945.72,115 948.17,118.03 950.61,117.47 953.06,157.9 955.5,119.12 957.95,119.23 960.39,119.99 962.84,119.87 965.28,120.63 967.73,120.51 970.17,121.27 972.62,121 975.06,121.6 977.5,121.32 979.95,121.93 982.39,121.65 984.84,123.13 987.28,123.72 989.73,125.19 992.17,125.78 994.62,128.64 997.06,130.62 999.51,134.47 1001.95,138.43 1004.4,143.27 1006.84,145.31 1009.28,148.22 1011.73,148.33 1014.17,149.32 1016.62,150.42 1019.06,152.4 1021.51,153.7 1023.95,156.09 1026.4,157.59 1028.84,159.98 1031.29,161.4 1033.73,163.59 1036.17,164.89 1038.62,167.07 1041.06,168.43 1043.51,170.78 1045.95,172.25 1048.4,174.14 1050.84,175.14 1053.29,177.02 1055.73,178.02 1058.18,179.91 1060.62,180.91 1063.07,182.79 1065.51,183.79 1067.95,185.68 1070.4,186.68 1072.84,188.56 1075.29,189.56 1077.73,191.44 1080.18,192.45 1082.62,194.45 1085.07,195.63 1087.51,197.68 1089.96,198.86 1092.4,200.91 1094.85,202.09 1097.29,204.14 1099.73,205.32 1102.18,207.38 1104.62,208.55 1107.07,210.61 1109.51,211.78 1111.96,213.84 1114.4,215.01 1116.85,217.07 1119.29,218.25 1121.74,220.14 1124.18,221.08 1126.63,222.91 1129.07,223.85 1131.51,225.67 1133.96,226.62 1136.4,228.44 1138.85,229.38 1141.29,231.21 1143.74,232.15 1146.18,233.98 1148.63,234.92 1151.07,236.74 1153.52,237.69 1155.96,239.51 1158.4,240.45" fill="none" stroke="#7E2F8E" stroke-width="2.3" stroke-linejoin="round" stroke-linecap="butt"/>
<path clip-path="url(#c2)" d="M730.6 75.12h0M733.04 80.9h0M735.49 84.47h0M737.93 79.53h0M740.38 80.9h0M742.82 83.92h0M745.27 87.5h0M747.71 74.03h0M750.16 67.43h0M752.6 72.1h0M755.05 75.95h0M757.49 65.5h0M759.94 67.43h0M762.38 70.45h0M764.82 69.08h0M767.27 68.53h0M769.71 72.93h0M772.16 72.38h0M774.6 67.97h0M777.05 86.4h0M779.49 73.47h0M781.94 75.95h0M784.38 82.55h0M786.83 67.43h0M789.27 80.9h0M791.72 80.07h0M794.16 90.53h0M803.94 141.95h0M806.38 90.25h0M808.83 84.2h0M811.27 87.5h0M813.72 92.45h0M816.16 80.62h0M818.61 94.93h0M821.05 91.62h0M823.49 100.15h0M825.94 91.08h0M828.38 87.22h0M830.83 116.1h0M833.27 108.12h0M835.72 107.57h0M838.16 96.3h0M840.61 124.62h0M843.05 101.53h0M845.5 111.97h0M847.94 119.95h0M850.39 146.62h0M852.83 133.97h0M855.27 109.5h0M857.72 139.47h0M860.16 110.88h0M862.61 154.6h0M865.05 112.53h0M867.5 116.1h0M869.94 128.48h0M872.39 119.12h0M874.83 128.48h0M877.28 115.55h0M879.72 146.62h0M882.17 113.9h0M884.61 134.52h0M887.05 110.05h0M889.5 146.9h0M891.94 110.05h0M894.39 115h0M896.83 133.43h0M899.28 109.5h0M901.72 157.62h0M904.17 110.88h0M906.61 114.45h0M909.06 142.5h0M911.5 130.12h0M913.95 112.53h0M916.39 135.07h0M918.83 148h0M921.28 126.55h0M923.72 122.97h0M926.17 111.97h0M928.61 113.62h0M931.06 124.08h0M933.5 135.9h0M935.95 116.1h0M938.39 135.07h0M940.84 148.55h0M943.28 139.47h0M945.72 115h0M948.17 118.03h0M950.61 117.47h0M953.06 157.9h0M955.5 119.12h0M957.95 119.23h0M960.39 119.99h0M962.84 119.87h0M965.28 120.63h0M967.73 120.51h0M970.17 121.27h0M972.62 121h0M975.06 121.6h0M977.5 121.32h0M979.95 121.93h0M982.39 121.65h0M984.84 123.13h0M987.28 123.72h0M989.73 125.19h0M992.17 125.78h0M994.62 128.64h0M997.06 130.62h0M999.51 134.47h0M1001.95 138.43h0M1004.4 143.27h0M1006.84 145.31h0M1009.28 148.22h0M1011.73 148.33h0M1014.17 149.32h0M1016.62 150.42h0M1019.06 152.4h0M1021.51 153.7h0M1023.95 156.09h0M1026.4 157.59h0M1028.84 159.98h0M1031.29 161.4h0M1033.73 163.59h0M1036.17 164.89h0M1038.62 167.07h0M1041.06 168.43h0M1043.51 170.78h0M1045.95 172.25h0M1048.4 174.14h0M1050.84 175.14h0M1053.29 177.02h0M1055.73 178.02h0M1058.18 179.91h0M1060.62 180.91h0M1063.07 182.79h0M1065.51 183.79h0M1067.95 185.68h0M1070.4 186.68h0M1072.84 188.56h0M1075.29 189.56h0M1077.73 191.44h0M1080.18 192.45h0M1082.62 194.45h0M1085.07 195.63h0M1087.51 197.68h0M1089.96 198.86h0M1092.4 200.91h0M1094.85 202.09h0M1097.29 204.14h0M1099.73 205.32h0M1102.18 207.38h0M1104.62 208.55h0M1107.07 210.61h0M1109.51 211.78h0M1111.96 213.84h0M1114.4 215.01h0M1116.85 217.07h0M1119.29 218.25h0M1121.74 220.14h0M1124.18 221.08h0M1126.63 222.91h0M1129.07 223.85h0M1131.51 225.67h0M1133.96 226.62h0M1136.4 228.44h0M1138.85 229.38h0M1141.29 231.21h0M1143.74 232.15h0M1146.18 233.98h0M1148.63 234.92h0M1151.07 236.74h0M1153.52 237.69h0M1155.96 239.51h0M1158.4 240.45h0" stroke="#7E2F8E" stroke-width="3.5" stroke-linecap="round" fill="none"/>
<line x1="730.6" y1="49" x2="734.9" y2="49" stroke="#262626" stroke-width="0.8"/>
<line x1="1158.4" y1="49" x2="1154.1" y2="49" stroke="#262626" stroke-width="0.8"/>
<text x="728.2" y="53.3" text-anchor="end" font-size="8.8" fill="#262626">10<tspan dx="0.5" dy="-4" font-size="7.2">0</tspan></text>
<line x1="730.6" y1="68.22" x2="732.8" y2="68.22" stroke="#262626" stroke-width="0.7"/>
<line x1="1158.4" y1="68.22" x2="1156.2" y2="68.22" stroke="#262626" stroke-width="0.7"/>
<line x1="730.6" y1="63.38" x2="732.8" y2="63.38" stroke="#262626" stroke-width="0.7"/>
<line x1="1158.4" y1="63.38" x2="1156.2" y2="63.38" stroke="#262626" stroke-width="0.7"/>
<line x1="730.6" y1="59.94" x2="732.8" y2="59.94" stroke="#262626" stroke-width="0.7"/>
<line x1="1158.4" y1="59.94" x2="1156.2" y2="59.94" stroke="#262626" stroke-width="0.7"/>
<line x1="730.6" y1="57.28" x2="732.8" y2="57.28" stroke="#262626" stroke-width="0.7"/>
<line x1="1158.4" y1="57.28" x2="1156.2" y2="57.28" stroke="#262626" stroke-width="0.7"/>
<line x1="730.6" y1="55.1" x2="732.8" y2="55.1" stroke="#262626" stroke-width="0.7"/>
<line x1="1158.4" y1="55.1" x2="1156.2" y2="55.1" stroke="#262626" stroke-width="0.7"/>
<line x1="730.6" y1="53.26" x2="732.8" y2="53.26" stroke="#262626" stroke-width="0.7"/>
<line x1="1158.4" y1="53.26" x2="1156.2" y2="53.26" stroke="#262626" stroke-width="0.7"/>
<line x1="730.6" y1="51.67" x2="732.8" y2="51.67" stroke="#262626" stroke-width="0.7"/>
<line x1="1158.4" y1="51.67" x2="1156.2" y2="51.67" stroke="#262626" stroke-width="0.7"/>
<line x1="730.6" y1="50.26" x2="732.8" y2="50.26" stroke="#262626" stroke-width="0.7"/>
<line x1="1158.4" y1="50.26" x2="1156.2" y2="50.26" stroke="#262626" stroke-width="0.7"/>
<line x1="730.6" y1="76.5" x2="732.8" y2="76.5" stroke="#262626" stroke-width="0.8"/>
<line x1="1158.4" y1="76.5" x2="1156.2" y2="76.5" stroke="#262626" stroke-width="0.8"/>
<line x1="730.6" y1="95.72" x2="732.8" y2="95.72" stroke="#262626" stroke-width="0.7"/>
<line x1="1158.4" y1="95.72" x2="1156.2" y2="95.72" stroke="#262626" stroke-width="0.7"/>
<line x1="730.6" y1="90.88" x2="732.8" y2="90.88" stroke="#262626" stroke-width="0.7"/>
<line x1="1158.4" y1="90.88" x2="1156.2" y2="90.88" stroke="#262626" stroke-width="0.7"/>
<line x1="730.6" y1="87.44" x2="732.8" y2="87.44" stroke="#262626" stroke-width="0.7"/>
<line x1="1158.4" y1="87.44" x2="1156.2" y2="87.44" stroke="#262626" stroke-width="0.7"/>
<line x1="730.6" y1="84.78" x2="732.8" y2="84.78" stroke="#262626" stroke-width="0.7"/>
<line x1="1158.4" y1="84.78" x2="1156.2" y2="84.78" stroke="#262626" stroke-width="0.7"/>
<line x1="730.6" y1="82.6" x2="732.8" y2="82.6" stroke="#262626" stroke-width="0.7"/>
<line x1="1158.4" y1="82.6" x2="1156.2" y2="82.6" stroke="#262626" stroke-width="0.7"/>
<line x1="730.6" y1="80.76" x2="732.8" y2="80.76" stroke="#262626" stroke-width="0.7"/>
<line x1="1158.4" y1="80.76" x2="1156.2" y2="80.76" stroke="#262626" stroke-width="0.7"/>
<line x1="730.6" y1="79.17" x2="732.8" y2="79.17" stroke="#262626" stroke-width="0.7"/>
<line x1="1158.4" y1="79.17" x2="1156.2" y2="79.17" stroke="#262626" stroke-width="0.7"/>
<line x1="730.6" y1="77.76" x2="732.8" y2="77.76" stroke="#262626" stroke-width="0.7"/>
<line x1="1158.4" y1="77.76" x2="1156.2" y2="77.76" stroke="#262626" stroke-width="0.7"/>
<line x1="730.6" y1="104" x2="734.9" y2="104" stroke="#262626" stroke-width="0.8"/>
<line x1="1158.4" y1="104" x2="1154.1" y2="104" stroke="#262626" stroke-width="0.8"/>
<text x="728.2" y="108.3" text-anchor="end" font-size="8.8" fill="#262626">10<tspan dx="0.5" dy="-4" font-size="7.2">-2</tspan></text>
<line x1="730.6" y1="123.22" x2="732.8" y2="123.22" stroke="#262626" stroke-width="0.7"/>
<line x1="1158.4" y1="123.22" x2="1156.2" y2="123.22" stroke="#262626" stroke-width="0.7"/>
<line x1="730.6" y1="118.38" x2="732.8" y2="118.38" stroke="#262626" stroke-width="0.7"/>
<line x1="1158.4" y1="118.38" x2="1156.2" y2="118.38" stroke="#262626" stroke-width="0.7"/>
<line x1="730.6" y1="114.94" x2="732.8" y2="114.94" stroke="#262626" stroke-width="0.7"/>
<line x1="1158.4" y1="114.94" x2="1156.2" y2="114.94" stroke="#262626" stroke-width="0.7"/>
<line x1="730.6" y1="112.28" x2="732.8" y2="112.28" stroke="#262626" stroke-width="0.7"/>
<line x1="1158.4" y1="112.28" x2="1156.2" y2="112.28" stroke="#262626" stroke-width="0.7"/>
<line x1="730.6" y1="110.1" x2="732.8" y2="110.1" stroke="#262626" stroke-width="0.7"/>
<line x1="1158.4" y1="110.1" x2="1156.2" y2="110.1" stroke="#262626" stroke-width="0.7"/>
<line x1="730.6" y1="108.26" x2="732.8" y2="108.26" stroke="#262626" stroke-width="0.7"/>
<line x1="1158.4" y1="108.26" x2="1156.2" y2="108.26" stroke="#262626" stroke-width="0.7"/>
<line x1="730.6" y1="106.67" x2="732.8" y2="106.67" stroke="#262626" stroke-width="0.7"/>
<line x1="1158.4" y1="106.67" x2="1156.2" y2="106.67" stroke="#262626" stroke-width="0.7"/>
<line x1="730.6" y1="105.26" x2="732.8" y2="105.26" stroke="#262626" stroke-width="0.7"/>
<line x1="1158.4" y1="105.26" x2="1156.2" y2="105.26" stroke="#262626" stroke-width="0.7"/>
<line x1="730.6" y1="131.5" x2="732.8" y2="131.5" stroke="#262626" stroke-width="0.8"/>
<line x1="1158.4" y1="131.5" x2="1156.2" y2="131.5" stroke="#262626" stroke-width="0.8"/>
<line x1="730.6" y1="150.72" x2="732.8" y2="150.72" stroke="#262626" stroke-width="0.7"/>
<line x1="1158.4" y1="150.72" x2="1156.2" y2="150.72" stroke="#262626" stroke-width="0.7"/>
<line x1="730.6" y1="145.88" x2="732.8" y2="145.88" stroke="#262626" stroke-width="0.7"/>
<line x1="1158.4" y1="145.88" x2="1156.2" y2="145.88" stroke="#262626" stroke-width="0.7"/>
<line x1="730.6" y1="142.44" x2="732.8" y2="142.44" stroke="#262626" stroke-width="0.7"/>
<line x1="1158.4" y1="142.44" x2="1156.2" y2="142.44" stroke="#262626" stroke-width="0.7"/>
<line x1="730.6" y1="139.78" x2="732.8" y2="139.78" stroke="#262626" stroke-width="0.7"/>
<line x1="1158.4" y1="139.78" x2="1156.2" y2="139.78" stroke="#262626" stroke-width="0.7"/>
<line x1="730.6" y1="137.6" x2="732.8" y2="137.6" stroke="#262626" stroke-width="0.7"/>
<line x1="1158.4" y1="137.6" x2="1156.2" y2="137.6" stroke="#262626" stroke-width="0.7"/>
<line x1="730.6" y1="135.76" x2="732.8" y2="135.76" stroke="#262626" stroke-width="0.7"/>
<line x1="1158.4" y1="135.76" x2="1156.2" y2="135.76" stroke="#262626" stroke-width="0.7"/>
<line x1="730.6" y1="134.17" x2="732.8" y2="134.17" stroke="#262626" stroke-width="0.7"/>
<line x1="1158.4" y1="134.17" x2="1156.2" y2="134.17" stroke="#262626" stroke-width="0.7"/>
<line x1="730.6" y1="132.76" x2="732.8" y2="132.76" stroke="#262626" stroke-width="0.7"/>
<line x1="1158.4" y1="132.76" x2="1156.2" y2="132.76" stroke="#262626" stroke-width="0.7"/>
<line x1="730.6" y1="159" x2="734.9" y2="159" stroke="#262626" stroke-width="0.8"/>
<line x1="1158.4" y1="159" x2="1154.1" y2="159" stroke="#262626" stroke-width="0.8"/>
<text x="728.2" y="163.3" text-anchor="end" font-size="8.8" fill="#262626">10<tspan dx="0.5" dy="-4" font-size="7.2">-4</tspan></text>
<line x1="730.6" y1="178.22" x2="732.8" y2="178.22" stroke="#262626" stroke-width="0.7"/>
<line x1="1158.4" y1="178.22" x2="1156.2" y2="178.22" stroke="#262626" stroke-width="0.7"/>
<line x1="730.6" y1="173.38" x2="732.8" y2="173.38" stroke="#262626" stroke-width="0.7"/>
<line x1="1158.4" y1="173.38" x2="1156.2" y2="173.38" stroke="#262626" stroke-width="0.7"/>
<line x1="730.6" y1="169.94" x2="732.8" y2="169.94" stroke="#262626" stroke-width="0.7"/>
<line x1="1158.4" y1="169.94" x2="1156.2" y2="169.94" stroke="#262626" stroke-width="0.7"/>
<line x1="730.6" y1="167.28" x2="732.8" y2="167.28" stroke="#262626" stroke-width="0.7"/>
<line x1="1158.4" y1="167.28" x2="1156.2" y2="167.28" stroke="#262626" stroke-width="0.7"/>
<line x1="730.6" y1="165.1" x2="732.8" y2="165.1" stroke="#262626" stroke-width="0.7"/>
<line x1="1158.4" y1="165.1" x2="1156.2" y2="165.1" stroke="#262626" stroke-width="0.7"/>
<line x1="730.6" y1="163.26" x2="732.8" y2="163.26" stroke="#262626" stroke-width="0.7"/>
<line x1="1158.4" y1="163.26" x2="1156.2" y2="163.26" stroke="#262626" stroke-width="0.7"/>
<line x1="730.6" y1="161.67" x2="732.8" y2="161.67" stroke="#262626" stroke-width="0.7"/>
<line x1="1158.4" y1="161.67" x2="1156.2" y2="161.67" stroke="#262626" stroke-width="0.7"/>
<line x1="730.6" y1="160.26" x2="732.8" y2="160.26" stroke="#262626" stroke-width="0.7"/>
<line x1="1158.4" y1="160.26" x2="1156.2" y2="160.26" stroke="#262626" stroke-width="0.7"/>
<line x1="730.6" y1="186.5" x2="732.8" y2="186.5" stroke="#262626" stroke-width="0.8"/>
<line x1="1158.4" y1="186.5" x2="1156.2" y2="186.5" stroke="#262626" stroke-width="0.8"/>
<line x1="730.6" y1="205.72" x2="732.8" y2="205.72" stroke="#262626" stroke-width="0.7"/>
<line x1="1158.4" y1="205.72" x2="1156.2" y2="205.72" stroke="#262626" stroke-width="0.7"/>
<line x1="730.6" y1="200.88" x2="732.8" y2="200.88" stroke="#262626" stroke-width="0.7"/>
<line x1="1158.4" y1="200.88" x2="1156.2" y2="200.88" stroke="#262626" stroke-width="0.7"/>
<line x1="730.6" y1="197.44" x2="732.8" y2="197.44" stroke="#262626" stroke-width="0.7"/>
<line x1="1158.4" y1="197.44" x2="1156.2" y2="197.44" stroke="#262626" stroke-width="0.7"/>
<line x1="730.6" y1="194.78" x2="732.8" y2="194.78" stroke="#262626" stroke-width="0.7"/>
<line x1="1158.4" y1="194.78" x2="1156.2" y2="194.78" stroke="#262626" stroke-width="0.7"/>
<line x1="730.6" y1="192.6" x2="732.8" y2="192.6" stroke="#262626" stroke-width="0.7"/>
<line x1="1158.4" y1="192.6" x2="1156.2" y2="192.6" stroke="#262626" stroke-width="0.7"/>
<line x1="730.6" y1="190.76" x2="732.8" y2="190.76" stroke="#262626" stroke-width="0.7"/>
<line x1="1158.4" y1="190.76" x2="1156.2" y2="190.76" stroke="#262626" stroke-width="0.7"/>
<line x1="730.6" y1="189.17" x2="732.8" y2="189.17" stroke="#262626" stroke-width="0.7"/>
<line x1="1158.4" y1="189.17" x2="1156.2" y2="189.17" stroke="#262626" stroke-width="0.7"/>
<line x1="730.6" y1="187.76" x2="732.8" y2="187.76" stroke="#262626" stroke-width="0.7"/>
<line x1="1158.4" y1="187.76" x2="1156.2" y2="187.76" stroke="#262626" stroke-width="0.7"/>
<line x1="730.6" y1="214" x2="734.9" y2="214" stroke="#262626" stroke-width="0.8"/>
<line x1="1158.4" y1="214" x2="1154.1" y2="214" stroke="#262626" stroke-width="0.8"/>
<text x="728.2" y="218.3" text-anchor="end" font-size="8.8" fill="#262626">10<tspan dx="0.5" dy="-4" font-size="7.2">-6</tspan></text>
<line x1="730.6" y1="233.22" x2="732.8" y2="233.22" stroke="#262626" stroke-width="0.7"/>
<line x1="1158.4" y1="233.22" x2="1156.2" y2="233.22" stroke="#262626" stroke-width="0.7"/>
<line x1="730.6" y1="228.38" x2="732.8" y2="228.38" stroke="#262626" stroke-width="0.7"/>
<line x1="1158.4" y1="228.38" x2="1156.2" y2="228.38" stroke="#262626" stroke-width="0.7"/>
<line x1="730.6" y1="224.94" x2="732.8" y2="224.94" stroke="#262626" stroke-width="0.7"/>
<line x1="1158.4" y1="224.94" x2="1156.2" y2="224.94" stroke="#262626" stroke-width="0.7"/>
<line x1="730.6" y1="222.28" x2="732.8" y2="222.28" stroke="#262626" stroke-width="0.7"/>
<line x1="1158.4" y1="222.28" x2="1156.2" y2="222.28" stroke="#262626" stroke-width="0.7"/>
<line x1="730.6" y1="220.1" x2="732.8" y2="220.1" stroke="#262626" stroke-width="0.7"/>
<line x1="1158.4" y1="220.1" x2="1156.2" y2="220.1" stroke="#262626" stroke-width="0.7"/>
<line x1="730.6" y1="218.26" x2="732.8" y2="218.26" stroke="#262626" stroke-width="0.7"/>
<line x1="1158.4" y1="218.26" x2="1156.2" y2="218.26" stroke="#262626" stroke-width="0.7"/>
<line x1="730.6" y1="216.67" x2="732.8" y2="216.67" stroke="#262626" stroke-width="0.7"/>
<line x1="1158.4" y1="216.67" x2="1156.2" y2="216.67" stroke="#262626" stroke-width="0.7"/>
<line x1="730.6" y1="215.26" x2="732.8" y2="215.26" stroke="#262626" stroke-width="0.7"/>
<line x1="1158.4" y1="215.26" x2="1156.2" y2="215.26" stroke="#262626" stroke-width="0.7"/>
<line x1="730.6" y1="241.5" x2="732.8" y2="241.5" stroke="#262626" stroke-width="0.8"/>
<line x1="1158.4" y1="241.5" x2="1156.2" y2="241.5" stroke="#262626" stroke-width="0.8"/>
<line x1="730.6" y1="260.72" x2="732.8" y2="260.72" stroke="#262626" stroke-width="0.7"/>
<line x1="1158.4" y1="260.72" x2="1156.2" y2="260.72" stroke="#262626" stroke-width="0.7"/>
<line x1="730.6" y1="255.88" x2="732.8" y2="255.88" stroke="#262626" stroke-width="0.7"/>
<line x1="1158.4" y1="255.88" x2="1156.2" y2="255.88" stroke="#262626" stroke-width="0.7"/>
<line x1="730.6" y1="252.44" x2="732.8" y2="252.44" stroke="#262626" stroke-width="0.7"/>
<line x1="1158.4" y1="252.44" x2="1156.2" y2="252.44" stroke="#262626" stroke-width="0.7"/>
<line x1="730.6" y1="249.78" x2="732.8" y2="249.78" stroke="#262626" stroke-width="0.7"/>
<line x1="1158.4" y1="249.78" x2="1156.2" y2="249.78" stroke="#262626" stroke-width="0.7"/>
<line x1="730.6" y1="247.6" x2="732.8" y2="247.6" stroke="#262626" stroke-width="0.7"/>
<line x1="1158.4" y1="247.6" x2="1156.2" y2="247.6" stroke="#262626" stroke-width="0.7"/>
<line x1="730.6" y1="245.76" x2="732.8" y2="245.76" stroke="#262626" stroke-width="0.7"/>
<line x1="1158.4" y1="245.76" x2="1156.2" y2="245.76" stroke="#262626" stroke-width="0.7"/>
<line x1="730.6" y1="244.17" x2="732.8" y2="244.17" stroke="#262626" stroke-width="0.7"/>
<line x1="1158.4" y1="244.17" x2="1156.2" y2="244.17" stroke="#262626" stroke-width="0.7"/>
<line x1="730.6" y1="242.76" x2="732.8" y2="242.76" stroke="#262626" stroke-width="0.7"/>
<line x1="1158.4" y1="242.76" x2="1156.2" y2="242.76" stroke="#262626" stroke-width="0.7"/>
<line x1="730.6" y1="269" x2="734.9" y2="269" stroke="#262626" stroke-width="0.8"/>
<line x1="1158.4" y1="269" x2="1154.1" y2="269" stroke="#262626" stroke-width="0.8"/>
<text x="728.2" y="273.3" text-anchor="end" font-size="8.8" fill="#262626">10<tspan dx="0.5" dy="-4" font-size="7.2">-8</tspan></text>
<line x1="1158.4" y1="269" x2="1154.1" y2="269" stroke="#262626" stroke-width="0.8"/>
<text x="1161" y="273" text-anchor="start" font-size="8.5" fill="#262626">1.5</text>
<line x1="1158.4" y1="244.56" x2="1154.1" y2="244.56" stroke="#262626" stroke-width="0.8"/>
<text x="1161" y="248.56" text-anchor="start" font-size="8.5" fill="#262626">2</text>
<line x1="1158.4" y1="220.11" x2="1154.1" y2="220.11" stroke="#262626" stroke-width="0.8"/>
<text x="1161" y="224.11" text-anchor="start" font-size="8.5" fill="#262626">2.5</text>
<line x1="1158.4" y1="195.67" x2="1154.1" y2="195.67" stroke="#262626" stroke-width="0.8"/>
<text x="1161" y="199.67" text-anchor="start" font-size="8.5" fill="#262626">3</text>
<line x1="1158.4" y1="171.22" x2="1154.1" y2="171.22" stroke="#262626" stroke-width="0.8"/>
<text x="1161" y="175.22" text-anchor="start" font-size="8.5" fill="#262626">3.5</text>
<line x1="1158.4" y1="146.78" x2="1154.1" y2="146.78" stroke="#262626" stroke-width="0.8"/>
<text x="1161" y="150.78" text-anchor="start" font-size="8.5" fill="#262626">4</text>
<line x1="1158.4" y1="122.33" x2="1154.1" y2="122.33" stroke="#262626" stroke-width="0.8"/>
<text x="1161" y="126.33" text-anchor="start" font-size="8.5" fill="#262626">4.5</text>
<line x1="1158.4" y1="97.89" x2="1154.1" y2="97.89" stroke="#262626" stroke-width="0.8"/>
<text x="1161" y="101.89" text-anchor="start" font-size="8.5" fill="#262626">5</text>
<line x1="1158.4" y1="73.44" x2="1154.1" y2="73.44" stroke="#262626" stroke-width="0.8"/>
<text x="1161" y="77.44" text-anchor="start" font-size="8.5" fill="#262626">5.5</text>
<line x1="1158.4" y1="49" x2="1154.1" y2="49" stroke="#262626" stroke-width="0.8"/>
<text x="1161" y="53" text-anchor="start" font-size="8.5" fill="#262626">6</text>
<text x="751.5" y="43.8" text-anchor="start" font-size="9.8" fill="#262626">convergence trace</text>
<text x="1137.5" y="43.8" text-anchor="end" font-size="9.8" fill="#262626">total cost</text>
</g>
<clipPath id="c3"><rect x="165.7" y="353.4" width="429.7" height="223.5"/></clipPath>
<clipPath id="w3"><rect x="164.3" y="352.6" width="432.5" height="225.3"/></clipPath>
<g id="plot-controls">
<line x1="166.9" y1="547.79" x2="594.2" y2="547.79" stroke="#e7e7e7" stroke-width="0.9"/>
<line x1="166.9" y1="520.27" x2="594.2" y2="520.27" stroke="#e7e7e7" stroke-width="0.9"/>
<line x1="166.9" y1="492.76" x2="594.2" y2="492.76" stroke="#e7e7e7" stroke-width="0.9"/>
<line x1="166.9" y1="465.25" x2="594.2" y2="465.25" stroke="#e7e7e7" stroke-width="0.9"/>
<line x1="166.9" y1="437.74" x2="594.2" y2="437.74" stroke="#e7e7e7" stroke-width="0.9"/>
<line x1="166.9" y1="410.22" x2="594.2" y2="410.22" stroke="#e7e7e7" stroke-width="0.9"/>
<line x1="166.9" y1="382.71" x2="594.2" y2="382.71" stroke="#e7e7e7" stroke-width="0.9"/>
<line x1="166.9" y1="355.2" x2="594.2" y2="355.2" stroke="#3a3a3a" stroke-width="1.1"/>
<line x1="166.9" y1="355.2" x2="166.9" y2="575.3" stroke="#9a9a9a" stroke-width="1.6"/>
<line x1="594.2" y1="355.2" x2="594.2" y2="575.3" stroke="#3a3a3a" stroke-width="1.1"/>
<line x1="166.9" y1="575.3" x2="594.6" y2="575.3" stroke="#3a3a3a" stroke-width="1.1"/>
<line x1="208.43" y1="575.3" x2="208.43" y2="571" stroke="#262626" stroke-width="0.8"/>
<line x1="208.43" y1="355.2" x2="208.43" y2="359.5" stroke="#262626" stroke-width="0.8"/>
<text x="208.43" y="587" text-anchor="middle" font-size="8.5" fill="#262626">50</text>
<line x1="251.25" y1="575.3" x2="251.25" y2="571" stroke="#262626" stroke-width="0.8"/>
<line x1="251.25" y1="355.2" x2="251.25" y2="359.5" stroke="#262626" stroke-width="0.8"/>
<text x="251.25" y="587" text-anchor="middle" font-size="8.5" fill="#262626">100</text>
<line x1="294.07" y1="575.3" x2="294.07" y2="571" stroke="#262626" stroke-width="0.8"/>
<line x1="294.07" y1="355.2" x2="294.07" y2="359.5" stroke="#262626" stroke-width="0.8"/>
<text x="294.07" y="587" text-anchor="middle" font-size="8.5" fill="#262626">150</text>
<line x1="336.9" y1="575.3" x2="336.9" y2="571" stroke="#262626" stroke-width="0.8"/>
<line x1="336.9" y1="355.2" x2="336.9" y2="359.5" stroke="#262626" stroke-width="0.8"/>
<text x="336.9" y="587" text-anchor="middle" font-size="8.5" fill="#262626">200</text>
<line x1="379.73" y1="575.3" x2="379.73" y2="571" stroke="#262626" stroke-width="0.8"/>
<line x1="379.73" y1="355.2" x2="379.73" y2="359.5" stroke="#262626" stroke-width="0.8"/>
<text x="379.73" y="587" text-anchor="middle" font-size="8.5" fill="#262626">250</text>
<line x1="422.55" y1="575.3" x2="422.55" y2="571" stroke="#262626" stroke-width="0.8"/>
<line x1="422.55" y1="355.2" x2="422.55" y2="359.5" stroke="#262626" stroke-width="0.8"/>
<text x="422.55" y="587" text-anchor="middle" font-size="8.5" fill="#262626">300</text>
<line x1="465.38" y1="575.3" x2="465.38" y2="571" stroke="#262626" stroke-width="0.8"/>
<line x1="465.38" y1="355.2" x2="465.38" y2="359.5" stroke="#262626" stroke-width="0.8"/>
<text x="465.38" y="587" text-anchor="middle" font-size="8.5" fill="#262626">350</text>
<line x1="508.2" y1="575.3" x2="508.2" y2="571" stroke="#262626" stroke-width="0.8"/>
<line x1="508.2" y1="355.2" x2="508.2" y2="359.5" stroke="#262626" stroke-width="0.8"/>
<text x="508.2" y="587" text-anchor="middle" font-size="8.5" fill="#262626">400</text>
<line x1="551.02" y1="575.3" x2="551.02" y2="571" stroke="#262626" stroke-width="0.8"/>
<line x1="551.02" y1="355.2" x2="551.02" y2="359.5" stroke="#262626" stroke-width="0.8"/>
<text x="551.02" y="587" text-anchor="middle" font-size="8.5" fill="#262626">450</text>
<line x1="593.85" y1="575.3" x2="593.85" y2="571" stroke="#262626" stroke-width="0.8"/>
<line x1="593.85" y1="355.2" x2="593.85" y2="359.5" stroke="#262626" stroke-width="0.8"/>
<text x="593.85" y="587" text-anchor="middle" font-size="8.5" fill="#262626">500</text>
<line x1="166.9" y1="575.3" x2="171.2" y2="575.3" stroke="#262626" stroke-width="0.8"/>
<text x="164" y="579.3" text-anchor="end" font-size="8.5" fill="#262626">-2</text>
<line x1="166.9" y1="547.79" x2="171.2" y2="547.79" stroke="#262626" stroke-width="0.8"/>
<text x="164" y="551.79" text-anchor="end" font-size="8.5" fill="#262626">-1.5</text>
<line x1="166.9" y1="520.27" x2="171.2" y2="520.27" stroke="#262626" stroke-width="0.8"/>
<text x="164" y="524.27" text-anchor="end" font-size="8.5" fill="#262626">-1</text>
<line x1="166.9" y1="492.76" x2="171.2" y2="492.76" stroke="#262626" stroke-width="0.8"/>
<text x="164" y="496.76" text-anchor="end" font-size="8.5" fill="#262626">-0.5</text>
<line x1="166.9" y1="465.25" x2="171.2" y2="465.25" stroke="#262626" stroke-width="0.8"/>
<text x="164" y="469.25" text-anchor="end" font-size="8.5" fill="#262626">0</text>
<line x1="166.9" y1="437.74" x2="171.2" y2="437.74" stroke="#262626" stroke-width="0.8"/>
<text x="164" y="441.74" text-anchor="end" font-size="8.5" fill="#262626">0.5</text>
<line x1="166.9" y1="410.22" x2="171.2" y2="410.22" stroke="#262626" stroke-width="0.8"/>
<text x="164" y="414.22" text-anchor="end" font-size="8.5" fill="#262626">1</text>
<line x1="166.9" y1="382.71" x2="171.2" y2="382.71" stroke="#262626" stroke-width="0.8"/>
<text x="164" y="386.71" text-anchor="end" font-size="8.5" fill="#262626">1.5</text>
<line x1="166.9" y1="355.2" x2="171.2" y2="355.2" stroke="#262626" stroke-width="0.8"/>
<text x="164" y="359.2" text-anchor="end" font-size="8.5" fill="#262626">2</text>
<line x1="594.2" y1="575.3" x2="589.9" y2="575.3" stroke="#262626" stroke-width="0.8"/>
<text x="596.8" y="579.3" text-anchor="start" font-size="8.5" fill="#262626">-40</text>
<line x1="594.2" y1="547.79" x2="589.9" y2="547.79" stroke="#262626" stroke-width="0.8"/>
<text x="596.8" y="551.79" text-anchor="start" font-size="8.5" fill="#262626">-30</text>
<line x1="594.2" y1="520.27" x2="589.9" y2="520.27" stroke="#262626" stroke-width="0.8"/>
<text x="596.8" y="524.27" text-anchor="start" font-size="8.5" fill="#262626">-20</text>
<line x1="594.2" y1="492.76" x2="589.9" y2="492.76" stroke="#262626" stroke-width="0.8"/>
<text x="596.8" y="496.76" text-anchor="start" font-size="8.5" fill="#262626">-10</text>
<line x1="594.2" y1="465.25" x2="589.9" y2="465.25" stroke="#262626" stroke-width="0.8"/>
<text x="596.8" y="469.25" text-anchor="start" font-size="8.5" fill="#262626">0</text>
<line x1="594.2" y1="437.74" x2="589.9" y2="437.74" stroke="#262626" stroke-width="0.8"/>
<text x="596.8" y="441.74" text-anchor="start" font-size="8.5" fill="#262626">10</text>
<line x1="594.2" y1="410.22" x2="589.9" y2="410.22" stroke="#262626" stroke-width="0.8"/>
<text x="596.8" y="414.22" text-anchor="start" font-size="8.5" fill="#262626">20</text>
<line x1="594.2" y1="382.71" x2="589.9" y2="382.71" stroke="#262626" stroke-width="0.8"/>
<text x="596.8" y="386.71" text-anchor="start" font-size="8.5" fill="#262626">30</text>
<line x1="594.2" y1="355.2" x2="589.9" y2="355.2" stroke="#262626" stroke-width="0.8"/>
<text x="596.8" y="359.2" text-anchor="start" font-size="8.5" fill="#262626">40</text>
<line x1="166.9" y1="465.25" x2="594.2" y2="465.25" stroke="#a6a6a6" stroke-width="1.5"/>
<polyline clip-path="url(#c3)" points="166.46,465.25 166.79,465.35 167.13,465.45 167.46,465.54 167.8,465.64 168.13,465.73 168.47,465.82 168.8,465.91 169.14,465.99 169.47,466.08 169.81,466.15 170.14,466.23 170.48,466.3 170.81,466.37 171.15,466.43 171.48,466.49 171.82,466.54 172.15,466.59 172.49,466.63 172.82,466.67 173.16,466.71 173.49,466.75 173.83,466.79 174.16,466.83 174.5,466.86 174.84,466.9 175.17,466.94 175.51,466.97 175.84,467 176.18,467.03 176.51,467.06 176.85,467.08 177.18,467.1 177.52,467.12 177.85,467.14 178.19,467.16 178.52,467.17 178.86,467.17 179.19,467.18 179.53,467.17 179.86,467.14 180.2,467.08 180.53,467.01 180.87,466.92 181.2,466.83 181.54,466.73 181.87,466.63 182.22,465.25" fill="none" stroke="#a8a8a8" stroke-width="0.9" stroke-linejoin="round" stroke-linecap="butt"/>
<polyline clip-path="url(#c3)" points="195.58,472.4 195.58,445.44 195.92,445.55 196.26,445.66 196.61,445.79 196.95,445.92 197.29,446.06 197.63,446.2 197.98,446.35 198.32,446.51 198.66,446.67 199,446.83 199.35,447.01 199.69,447.18 200.03,447.37 200.37,447.55 200.72,447.74 201.06,447.94 201.4,448.13 201.74,448.33 202.09,448.54 202.43,448.74 202.77,448.98 203.11,449.26 203.46,449.58 203.8,449.92 204.14,450.28 204.49,450.63 204.83,450.97 205.17,451.28 205.51,451.56 205.86,451.78 206.2,451.95 206.54,452.03 206.88,451.98 207.23,451.47 207.57,450.5 207.91,449.14 208.25,447.43 208.6,445.44 208.94,443.13 209.28,438.86 209.62,432.78 209.97,425.91 210.39,465.25" fill="none" stroke="#a8a8a8" stroke-width="0.9" stroke-linejoin="round" stroke-linecap="butt"/>
<polyline clip-path="url(#c3)" points="195.58,459.75 195.91,459.75 196.25,459.74 196.59,459.74 196.92,459.73 197.26,459.73 197.6,459.71 197.93,459.7 198.27,459.69 198.61,459.67 198.94,459.65 199.28,459.63 199.62,459.61 199.95,459.59 200.29,459.56 200.62,459.53 200.96,459.5 201.3,459.46 201.63,459.43 201.97,459.39 202.31,459.35 202.64,459.3 202.98,459.26 203.32,459.21 203.65,459.16 203.99,459.1 204.33,459.04 204.66,458.98 205,458.92 205.34,458.82 205.67,458.65 206.01,458.4 206.34,458.08 206.68,457.68 207.02,457.19 207.35,456.62 207.69,455.97 208.03,455.23 208.36,454.41 208.7,452.98 209.04,450.3 209.37,446.87 209.71,443.24 210.14,465.25" fill="none" stroke="#a8a8a8" stroke-width="0.9" stroke-linejoin="round" stroke-linecap="butt"/>
<polyline clip-path="url(#c3)" points="195.58,472.4 195.91,472.54 196.25,472.69 196.58,472.86 196.92,473.05 197.25,473.25 197.59,473.47 197.92,473.71 198.26,473.96 198.59,474.22 198.93,474.49 199.26,474.77 199.6,475.07 199.93,475.38 200.26,475.69 200.6,476.02 200.93,476.35 201.27,476.69 201.6,477.03 201.94,477.38 202.27,477.74 202.61,478.09 202.94,478.43 203.28,478.76 203.61,479.09 203.95,479.42 204.28,479.77 204.62,480.14 204.95,480.54 205.29,480.99 205.62,481.49 205.96,482.05 206.29,482.68 206.63,483.39 206.96,484.19 207.3,485.08 207.63,486.1 207.97,487.96 208.3,490.89 208.64,494.69 208.97,499.17 209.3,504.13 209.64,510.83 209.97,519.64 210.31,529.63 210.82,465.25" fill="none" stroke="#a8a8a8" stroke-width="0.9" stroke-linejoin="round" stroke-linecap="butt"/>
<polyline clip-path="url(#c3)" points="195.58,463.05 210.14,463.05 210.57,465.25" fill="none" stroke="#a8a8a8" stroke-width="0.9" stroke-linejoin="round" stroke-linecap="butt"/>
<polyline clip-path="url(#c3)" points="212.71,466.35 213.05,466.37 213.39,466.39 213.73,466.41 214.07,466.43 214.42,466.45 214.76,466.46 215.1,466.48 215.44,466.49 215.78,466.5 216.12,466.52 216.46,466.53 216.81,466.54 217.15,466.55 217.49,466.56 217.83,466.57 218.17,466.57 218.51,466.58 218.86,466.59 219.2,466.59 219.54,466.6 219.88,466.6 220.22,466.61 220.56,466.61 220.91,466.61 221.25,466.62 221.59,466.62 221.93,466.62 222.27,466.62 222.61,466.62 222.95,466.62 223.3,466.62 223.64,466.62 223.98,466.63 224.32,466.63 224.66,466.63 225,466.63 225.35,466.63 225.69,466.63 226.03,466.62 226.37,466.62 226.71,466.61 227.05,466.6 227.4,466.58 227.74,466.57 228.08,466.55 228.42,466.52 228.76,466.5 229.1,466.47 229.44,466.45 229.79,466.42 230.13,466.38 230.47,466.35 230.81,466.32 231.15,466.28 231.49,466.24 231.84,466.2 232.18,466.16 232.52,466.12 232.86,466.08 233.2,466.04 233.54,465.99 233.89,465.95 234.23,465.9 234.57,465.86 234.91,465.81 235.25,465.76 235.59,465.72 235.93,465.67 236.28,465.63 236.62,465.58 236.96,465.54 237.3,465.49 237.64,465.45 237.98,465.4 238.33,465.36 238.67,465.32 239.01,465.28 239.35,465.24 239.69,465.2 240.03,465.16 240.38,465.12 240.72,465.08 241.06,465.04 241.4,465 241.74,464.95 242.08,464.91 242.42,464.87 242.77,464.83 243.11,464.78 243.45,464.74 243.79,464.7 244.13,464.65 244.47,464.61 244.82,464.56 245.16,464.52 245.5,464.47 245.84,464.43 246.18,464.38 246.52,464.34 246.87,464.29 247.21,464.24 247.55,464.2 247.89,464.15 248.23,464.1 248.57,464.05 248.92,464.01 249.26,463.96 249.6,463.91 249.94,463.86 250.28,463.81 250.62,463.76 250.96,463.71 251.31,463.67 251.65,463.62 251.99,463.57 252.33,463.52 252.67,463.47 253.01,463.42 253.36,463.37 253.7,463.32 254.04,463.27 254.38,463.22 254.72,463.17 255.06,463.12 255.41,463.07 255.75,463.02 256.09,462.96 256.43,462.9 256.77,462.84 257.11,462.78 257.45,462.72 257.8,462.65 258.14,462.58 258.48,462.51 258.82,462.44 259.16,462.37 259.5,462.29 259.85,462.22 260.19,462.15 260.53,462.07 260.87,462 261.21,461.93 261.55,461.86 261.9,461.79 262.24,461.72 262.58,461.66 262.92,461.6 263.26,461.54 263.6,461.48 263.94,461.42 264.29,461.37 264.63,461.33 264.97,461.28 265.31,461.25 265.65,461.21 265.99,461.18 266.34,461.16 266.68,461.14 267.02,461.13 267.36,461.12 267.7,461.13 268.04,461.18 268.39,461.26 268.73,461.37 269.07,461.51 269.41,461.65 269.75,461.8 270.09,461.95 270.52,465.25" fill="none" stroke="#a8a8a8" stroke-width="0.9" stroke-linejoin="round" stroke-linecap="butt"/>
<polyline clip-path="url(#c3)" points="212.71,465.25 213.05,465.38 213.39,465.52 213.73,465.65 214.07,465.79 214.42,465.92 214.76,466.05 215.1,466.18 215.44,466.31 215.78,466.43 216.12,466.54 216.46,466.65 216.81,466.75 217.15,466.84 217.49,466.92 217.83,467 218.17,467.06 218.51,467.11 218.86,467.14 219.2,467.17 219.54,467.18 219.88,467.17 220.22,467.17 220.56,467.17 220.91,467.16 221.25,467.15 221.59,467.14 221.93,467.12 222.27,467.11 222.61,467.09 222.95,467.08 223.3,467.06 223.64,467.03 223.98,467.01 224.32,466.99 224.66,466.96 225,466.94 225.35,466.91 225.69,466.88 226.03,466.85 226.37,466.82 226.71,466.79 227.05,466.76 227.4,466.73 227.74,466.69 228.08,466.66 228.42,466.63 228.76,466.59 229.1,466.56 229.44,466.52 229.79,466.49 230.13,466.45 230.47,466.42 230.81,466.38 231.15,466.35 231.49,466.31 231.84,466.28 232.18,466.25 232.52,466.21 232.86,466.18 233.2,466.15 233.54,466.12 233.89,466.09 234.23,466.06 234.57,466.03 234.91,466.01 235.25,465.98 235.59,465.95 235.93,465.93 236.28,465.91 236.62,465.88 236.96,465.86 237.3,465.84 237.64,465.81 237.98,465.79 238.33,465.76 238.67,465.74 239.01,465.72 239.35,465.69 239.69,465.67 240.03,465.64 240.38,465.62 240.72,465.6 241.06,465.57 241.4,465.55 241.74,465.52 242.08,465.5 242.42,465.48 242.77,465.45 243.11,465.43 243.45,465.41 243.79,465.39 244.13,465.36 244.47,465.34 244.82,465.32 245.16,465.3 245.5,465.28 245.84,465.25 246.18,465.23 246.52,465.21 246.87,465.19 247.21,465.17 247.55,465.15 247.89,465.14 248.23,465.12 248.57,465.1 248.92,465.08 249.26,465.06 249.6,465.05 249.94,465.03 250.28,465.02 250.62,465 250.96,464.99 251.31,464.97 251.65,464.96 251.99,464.95 252.33,464.93 252.67,464.92 253.01,464.9 253.36,464.89 253.7,464.88 254.04,464.86 254.38,464.85 254.72,464.84 255.06,464.83 255.41,464.81 255.75,464.8 256.09,464.79 256.43,464.77 256.77,464.76 257.11,464.75 257.45,464.74 257.8,464.73 258.14,464.71 258.48,464.7 258.82,464.69 259.16,464.68 259.5,464.67 259.85,464.66 260.19,464.65 260.53,464.64 260.87,464.62 261.21,464.61 261.55,464.6 261.9,464.59 262.24,464.58 262.58,464.57 262.92,464.57 263.26,464.56 263.6,464.55 263.94,464.54 264.29,464.53 264.63,464.52 264.97,464.51 265.31,464.51 265.65,464.5 265.99,464.49 266.34,464.48 266.68,464.48 267.02,464.47 267.36,464.46 267.7,464.46 268.04,464.45 268.39,464.45 268.73,464.44 269.07,464.44 269.41,464.43 269.75,464.43 270.09,464.42" fill="none" stroke="#a8a8a8" stroke-width="0.9" stroke-linejoin="round" stroke-linecap="butt"/>
<polyline clip-path="url(#c3)" points="277.29,480.93 277.29,461.95 277.63,461.95 277.96,461.94 278.3,461.93 278.64,461.91 278.98,461.89 279.32,461.86 279.66,461.83 280,461.79 280.34,461.75 280.67,461.71 281.01,461.66 281.35,461.61 281.69,461.55 282.03,461.49 282.37,461.43 282.71,461.36 283.04,461.29 283.38,461.22 283.72,461.14 284.06,461.05 284.4,460.93 284.74,460.78 285.08,460.59 285.41,460.37 285.75,460.12 286.09,459.83 286.43,459.5 286.77,459.14 287.11,458.74 287.45,458.3 287.78,457.82 288.12,457.3 288.46,456.75 288.8,456.15 289.14,455.41 289.48,454.2 289.82,452.57 290.16,450.66 290.49,448.58 290.83,446.45 291.17,444.22 291.51,441.63 291.85,438.84 292.19,465.25" fill="none" stroke="#a8a8a8" stroke-width="0.9" stroke-linejoin="round" stroke-linecap="butt"/>
<polyline clip-path="url(#c3)" points="277.29,472.95 277.63,472.96 277.96,472.99 278.3,473.03 278.64,473.09 278.98,473.16 279.32,473.25 279.66,473.35 280,473.46 280.33,473.59 280.67,473.72 281.01,473.87 281.35,474.03 281.69,474.2 282.03,474.37 282.37,474.55 282.7,474.74 283.04,474.94 283.38,475.18 283.72,475.47 284.06,475.81 284.4,476.21 284.74,476.67 285.07,477.18 285.41,477.75 285.75,478.39 286.09,479.08 286.43,479.84 286.77,480.67 287.1,481.56 287.44,482.52 287.78,483.55 288.12,484.73 288.46,486.31 288.8,488.34 289.14,490.87 289.47,493.91 289.81,497.5 290.15,501.66 290.49,507.06 290.83,516.28 291.17,528.28 291.51,541.46 291.93,465.25" fill="none" stroke="#a8a8a8" stroke-width="0.9" stroke-linejoin="round" stroke-linecap="butt"/>
<polyline clip-path="url(#c3)" points="277.29,480.93 277.63,480.93 277.97,480.92 278.31,480.9 278.65,480.88 278.99,480.84 279.33,480.81 279.67,480.76 280.01,480.72 280.35,480.66 280.69,480.6 281.03,480.53 281.37,480.46 281.72,480.39 282.06,480.31 282.4,480.22 282.74,480.13 283.08,480.04 283.42,479.94 283.76,479.84 284.1,479.72 284.44,479.56 284.78,479.36 285.12,479.12 285.46,478.84 285.8,478.53 286.14,478.19 286.48,477.81 286.82,477.41 287.17,476.99 287.51,476.54 287.85,476.07 288.19,475.52 288.53,474.82 288.87,473.98 289.21,473.04 289.55,472.03 289.89,470.99 290.23,469.95 290.57,468.94 290.91,467.99 291.25,467.07 291.59,466.16 291.93,465.25" fill="none" stroke="#a8a8a8" stroke-width="0.9" stroke-linejoin="round" stroke-linecap="butt"/>
<polyline clip-path="url(#c3)" points="277.29,465.25 277.63,465.37 277.96,465.49 278.3,465.6 278.64,465.71 278.98,465.81 279.32,465.9 279.66,465.99 280,466.08 280.34,466.16 280.67,466.23 281.01,466.3 281.35,466.37 281.69,466.43 282.03,466.48 282.37,466.54 282.71,466.58 283.04,466.63 283.38,466.67 283.72,466.7 284.06,466.74 284.4,466.77 284.74,466.79 285.08,466.81 285.41,466.83 285.75,466.85 286.09,466.87 286.43,466.88 286.77,466.89 287.11,466.89 287.45,466.9 287.78,466.9 288.12,466.9 288.46,466.89 288.8,466.87 289.14,466.84 289.48,466.8 289.82,466.75 290.16,466.7 290.49,466.64 290.83,466.57 291.17,466.5 291.51,466.43 291.85,466.35" fill="none" stroke="#a8a8a8" stroke-width="0.9" stroke-linejoin="round" stroke-linecap="butt"/>
<polyline clip-path="url(#c3)" points="303.5,465.25 303.5,461.95 303.84,461.9 304.18,461.85 304.52,461.8 304.86,461.75 305.2,461.71 305.54,461.67 305.88,461.64 306.22,461.6 306.56,461.58 306.9,461.56 307.25,461.54 307.59,461.54 307.93,461.54 308.27,461.54 308.61,461.55 308.95,461.56 309.29,461.57 309.63,461.59 309.97,461.61 310.31,461.63 310.65,461.65 310.99,461.68 311.34,461.71 311.68,461.75 312.02,461.78 312.36,461.82 312.7,461.86 313.04,461.9 313.38,461.94 313.72,461.99 314.06,462.03 314.4,462.08 314.74,462.13 315.08,462.18 315.43,462.23 315.77,462.28 316.11,462.33 316.45,462.39 316.79,462.44 317.13,462.49 317.47,462.55 317.81,462.6 318.15,462.66 318.49,462.71 318.83,462.77 319.17,462.82 319.52,462.87 319.86,462.92 320.2,462.98 320.54,463.03 320.88,463.09 321.22,463.14 321.56,463.2 321.9,463.26 322.24,463.31 322.58,463.37 322.92,463.44 323.26,463.5 323.61,463.57 323.95,463.63 324.29,463.7 324.63,463.77 324.97,463.84 325.31,463.92 325.65,464 325.99,464.08 326.33,464.16 326.67,464.24 327.01,464.33 327.35,464.42 327.7,464.52 328.04,464.61 328.38,464.71 328.72,464.82 329.06,464.92 329.4,465.03 329.74,465.14 330.08,465.26 330.42,465.39 330.76,465.53 331.1,465.69 331.44,465.86 331.79,466.04 332.13,466.24 332.47,466.45 332.81,466.67 333.15,466.89 333.49,467.13 333.83,467.38 334.17,467.63 334.51,467.89 334.85,468.16 335.19,468.43 335.53,468.71 335.88,468.99 336.22,469.28 336.56,469.57 336.9,469.86 337.24,470.15 337.58,470.45 337.92,470.74 338.26,471.03 338.6,471.32 338.94,471.61 339.28,471.9 339.62,472.18 339.97,472.46 340.31,472.74 340.65,473.02 340.99,473.3 341.33,473.59 341.67,473.88 342.01,474.17 342.35,474.46 342.69,474.76 343.03,475.06 343.37,475.36 343.71,475.67 344.06,475.98 344.4,476.29 344.74,476.61 345.08,476.92 345.42,477.25 345.76,477.57 346.1,477.9 346.44,478.23 346.78,478.57 347.12,478.91 347.46,479.25 347.8,479.6 348.14,479.95 348.49,480.36 348.83,480.83 349.17,481.33 349.51,481.85 349.85,482.36 350.19,482.85 350.53,483.3 350.87,483.68 351.21,483.98 351.55,484.17 351.89,484.23 352.23,480.97 352.58,473.57 352.92,465.25" fill="none" stroke="#a8a8a8" stroke-width="0.9" stroke-linejoin="round" stroke-linecap="butt"/>
<polyline clip-path="url(#c3)" points="303.5,465.25 303.84,465.25 304.18,465.25 304.52,465.25 304.87,465.25 305.21,465.25 305.55,465.25 305.89,465.25 306.24,465.25 306.58,465.25 306.92,465.25 307.27,465.25 307.61,465.25 307.95,465.25 308.29,465.25 308.64,465.25 308.98,465.25 309.32,465.25 309.66,465.25 310.01,465.25 310.35,465.25 310.69,465.25 311.03,465.25 311.38,465.25 311.72,465.25 312.06,465.25 312.4,465.25 312.75,465.25 313.09,465.25 313.43,465.25 313.77,465.25 314.12,465.25 314.46,465.25 314.8,465.25 315.14,465.25 315.49,465.25 315.83,465.25 316.17,465.25 316.52,465.25 316.86,465.25 317.2,465.25 317.54,465.25 317.89,465.25 318.23,465.25 318.57,465.25 318.91,465.25 319.26,465.25 319.6,465.25 319.94,465.25 320.28,465.25 320.63,465.25 320.97,465.25 321.31,465.25 321.65,465.25 322,465.25 322.34,465.25 322.68,465.25 323.02,465.25 323.37,465.25 323.71,465.25 324.05,465.25 324.4,465.25 324.74,465.25 325.08,465.25 325.42,465.25 325.77,465.25 326.11,465.25 326.45,465.25 326.79,465.25 327.14,465.25 327.48,465.25 327.82,465.25 328.16,465.25 328.51,465.25 328.85,465.25 329.19,465.25 329.53,465.25 329.88,465.25 330.22,465.25 330.56,465.24 330.9,465.22 331.25,465.18 331.59,465.14 331.93,465.1 332.27,465.04 332.62,464.97 332.96,464.9 333.3,464.82 333.65,464.74 333.99,464.65 334.33,464.56 334.67,464.46 335.02,464.36 335.36,464.26 335.7,464.15 336.04,464.04 336.39,463.94 336.73,463.83 337.07,463.72 337.41,463.61 337.76,463.51 338.1,463.4 338.44,463.3 338.78,463.2 339.13,463.11 339.47,463.02 339.81,462.93 340.15,462.85 340.5,462.77 340.84,462.69 341.18,462.61 341.53,462.52 341.87,462.44 342.21,462.36 342.55,462.28 342.9,462.19 343.24,462.11 343.58,462.03 343.92,461.95 344.27,461.86 344.61,461.78 344.95,461.7 345.29,461.62 345.64,461.54 345.98,461.46 346.32,461.38 346.66,461.3 347.01,461.22 347.35,461.14 347.69,461.06 348.03,460.99 348.38,460.91 348.72,460.83 349.06,460.76 349.4,460.68 349.75,460.61 350.09,460.53 350.43,460.46 350.78,460.38 351.12,460.31 351.46,460.24 351.8,460.17 352.15,460.09 352.49,460.02 352.92,465.25" fill="none" stroke="#a8a8a8" stroke-width="0.9" stroke-linejoin="round" stroke-linecap="butt"/>
<polyline clip-path="url(#c3)" points="303.5,463.05 303.84,463.05 304.18,463.06 304.52,463.07 304.87,463.07 305.21,463.08 305.55,463.09 305.89,463.11 306.24,463.12 306.58,463.13 306.92,463.15 307.27,463.16 307.61,463.18 307.95,463.19 308.29,463.21 308.64,463.23 308.98,463.25 309.32,463.27 309.66,463.29 310.01,463.31 310.35,463.33 310.69,463.36 311.03,463.38 311.38,463.41 311.72,463.43 312.06,463.46 312.4,463.48 312.75,463.51 313.09,463.54 313.43,463.57 313.77,463.59 314.12,463.62 314.46,463.65 314.8,463.68 315.14,463.71 315.49,463.74 315.83,463.77 316.17,463.81 316.52,463.84 316.86,463.87 317.2,463.9 317.54,463.93 317.89,463.97 318.23,464 318.57,464.03 318.91,464.07 319.26,464.1 319.6,464.13 319.94,464.17 320.28,464.2 320.63,464.24 320.97,464.27 321.31,464.31 321.65,464.35 322,464.38 322.34,464.42 322.68,464.46 323.02,464.5 323.37,464.54 323.71,464.59 324.05,464.63 324.4,464.67 324.74,464.72 325.08,464.76 325.42,464.81 325.77,464.86 326.11,464.91 326.45,464.96 326.79,465.01 327.14,465.06 327.48,465.11 327.82,465.17 328.16,465.22 328.51,465.28 328.85,465.34 329.19,465.4 329.53,465.46 329.88,465.52 330.22,465.59 330.56,465.65 330.9,465.72 331.25,465.78 331.59,465.85 331.93,465.92 332.27,465.99 332.62,466.07 332.96,466.14 333.3,466.22 333.65,466.29 333.99,466.37 334.33,466.45 334.67,466.54 335.02,466.62 335.36,466.7 335.7,466.79 336.04,466.88 336.39,466.97 336.73,467.06 337.07,467.16 337.41,467.25 337.76,467.35 338.1,467.45 338.44,467.55 338.78,467.65 339.13,467.76 339.47,467.87 339.81,467.97 340.15,468.09 340.5,468.21 340.84,468.35 341.18,468.5 341.53,468.67 341.87,468.84 342.21,469.02 342.55,469.22 342.9,469.42 343.24,469.64 343.58,469.86 343.92,470.09 344.27,470.33 344.61,470.58 344.95,470.83 345.29,471.09 345.64,471.36 345.98,471.63 346.32,471.91 346.66,472.19 347.01,472.48 347.35,472.77 347.69,473.06 348.03,473.36 348.38,473.66 348.72,473.96 349.06,474.27 349.4,474.57 349.75,474.88 350.09,475.2 350.43,475.54 350.78,475.91 351.12,476.29 351.46,476.68 351.8,477.09 352.15,477.5 352.49,477.91 352.92,465.25" fill="none" stroke="#a8a8a8" stroke-width="0.9" stroke-linejoin="round" stroke-linecap="butt"/>
<polyline clip-path="url(#c3)" points="370.3,472.4 370.3,458.1 370.64,458.09 370.98,458.07 371.31,458.05 371.65,458.01 371.98,457.96 372.32,457.9 372.65,457.83 372.99,457.76 373.33,457.68 373.66,457.58 374,457.48 374.33,457.38 374.67,457.27 375.01,457.15 375.34,457.03 375.68,456.9 376.01,456.76 376.35,456.62 376.69,456.48 377.02,456.34 377.36,456.19 377.69,456.04 378.03,455.89 378.36,455.73 378.7,455.56 379.04,455.38 379.37,455.19 379.71,454.98 380.04,454.75 380.38,454.51 380.72,454.23 381.05,453.93 381.39,453.61 381.72,453.25 382.06,452.86 382.4,452.44 382.73,451.98 383.07,451.48 383.4,450.93 383.74,450.35 384.07,449.71 384.41,448.79 384.75,447.48 385.08,445.77 385.42,443.68 385.75,441.18 386.09,438.3 386.43,434.85 386.76,428.91 387.1,420.85 387.43,411.88 387.86,465.25" fill="none" stroke="#a8a8a8" stroke-width="0.9" stroke-linejoin="round" stroke-linecap="butt"/>
<polyline clip-path="url(#c3)" points="370.3,472.4 370.64,472.41 370.98,472.42 371.32,472.43 371.66,472.46 372,472.49 372.34,472.52 372.68,472.57 373.02,472.62 373.36,472.67 373.7,472.74 374.04,472.8 374.37,472.88 374.71,472.96 375.05,473.05 375.39,473.14 375.73,473.24 376.07,473.34 376.41,473.46 376.75,473.57 377.09,473.69 377.43,473.82 377.77,473.95 378.11,474.1 378.45,474.3 378.78,474.59 379.12,474.96 379.46,475.41 379.8,475.94 380.14,476.54 380.48,477.22 380.82,477.96 381.16,478.78 381.5,479.66 381.84,480.61 382.18,481.62 382.52,482.69 382.86,483.83 383.19,485.18 383.53,486.98 383.87,489.2 384.21,491.81 384.55,494.77 384.89,498.05 385.23,501.61 385.57,505.43 385.91,509.48 386.25,514.32 386.59,520.27 386.93,527.08 387.27,534.51 387.6,542.28 388.03,465.25" fill="none" stroke="#a8a8a8" stroke-width="0.9" stroke-linejoin="round" stroke-linecap="butt"/>
<polyline clip-path="url(#c3)" points="370.3,462.5 370.64,462.5 370.98,462.5 371.31,462.49 371.65,462.49 371.98,462.48 372.32,462.47 372.65,462.46 372.99,462.45 373.33,462.44 373.66,462.43 374,462.41 374.33,462.4 374.67,462.38 375.01,462.36 375.34,462.34 375.68,462.32 376.01,462.3 376.35,462.27 376.69,462.25 377.02,462.22 377.36,462.19 377.69,462.16 378.03,462.13 378.36,462.1 378.7,462.06 379.04,462.03 379.37,461.99 379.71,461.95 380.04,461.89 380.38,461.8 380.72,461.68 381.05,461.53 381.39,461.35 381.72,461.14 382.06,460.91 382.4,460.66 382.73,460.39 383.07,460.1 383.4,459.8 383.74,459.49 384.07,459.16 384.41,458.83 384.75,458.49 385.08,458.13 385.42,457.71 385.75,457.23 386.09,456.69 386.43,456.12 386.76,455.51 387.1,454.88 387.43,454.24 387.86,465.25" fill="none" stroke="#a8a8a8" stroke-width="0.9" stroke-linejoin="round" stroke-linecap="butt"/>
<polyline clip-path="url(#c3)" points="370.3,468 370.64,468 370.98,468.01 371.31,468.02 371.65,468.03 371.98,468.05 372.32,468.07 372.65,468.1 372.99,468.13 373.33,468.16 373.66,468.2 374,468.24 374.33,468.28 374.67,468.33 375.01,468.38 375.34,468.43 375.68,468.48 376.01,468.54 376.35,468.61 376.69,468.67 377.02,468.74 377.36,468.81 377.69,468.88 378.03,468.96 378.36,469.04 378.7,469.12 379.04,469.2 379.37,469.28 379.71,469.37 380.04,469.47 380.38,469.6 380.72,469.76 381.05,469.94 381.39,470.15 381.72,470.38 382.06,470.63 382.4,470.91 382.73,471.2 383.07,471.52 383.4,471.85 383.74,472.2 384.07,472.57 384.41,472.96 384.75,473.36 385.08,473.8 385.42,474.34 385.75,474.97 386.09,475.69 386.43,476.46 386.76,477.29 387.1,478.14 387.43,479.01 387.86,465.25" fill="none" stroke="#a8a8a8" stroke-width="0.9" stroke-linejoin="round" stroke-linecap="butt"/>
<polyline clip-path="url(#c3)" points="405.76,465.25 406.1,465.25 406.44,465.25 406.79,465.25 407.13,465.25 407.47,465.24 407.81,465.24 408.15,465.24 408.49,465.24 408.83,465.23 409.17,465.23 409.51,465.22 409.85,465.22 410.19,465.21 410.53,465.21 410.88,465.2 411.22,465.19 411.56,465.19 411.9,465.18 412.24,465.17 412.58,465.16 412.92,465.15 413.26,465.14 413.6,465.13 413.94,465.12 414.28,465.11 414.63,465.1 414.97,465.09 415.31,465.08 415.65,465.07 415.99,465.05 416.33,465.04 416.67,465.03 417.01,465.01 417.35,465 417.69,464.98 418.03,464.97 418.37,464.95 418.72,464.93 419.06,464.92 419.4,464.9 419.74,464.88 420.08,464.87 420.42,464.85 420.76,464.83 421.1,464.81 421.44,464.79 421.78,464.77 422.12,464.75 422.46,464.73 422.81,464.71 423.15,464.69 423.49,464.67 423.83,464.64 424.17,464.62 424.51,464.6 424.85,464.57 425.19,464.55 425.53,464.53 425.87,464.5 426.21,464.48 426.56,464.45 426.9,464.42 427.24,464.4 427.58,464.37 427.92,464.35 428.26,464.32 428.6,464.29 428.94,464.26 429.28,464.23 429.62,464.2 429.96,464.18 430.3,464.15 430.65,464.11 430.99,464.07 431.33,464.02 431.67,463.96 432.01,463.9 432.35,463.83 432.69,463.76 433.03,463.68 433.37,463.59 433.71,463.5 434.05,463.4 434.4,463.3 434.74,463.19 435.08,463.08 435.42,462.97 435.76,462.85 436.1,462.73 436.44,462.61 436.78,462.48 437.12,462.35 437.46,462.22 437.8,462.09 438.14,461.95 438.49,461.82 438.83,461.68 439.17,461.54 439.51,461.4 439.85,461.26 440.19,461.12 440.53,460.98 440.87,460.84 441.21,460.69 441.55,460.54 441.89,460.39 442.24,460.23 442.58,460.07 442.92,459.9 443.26,459.73 443.6,459.55 443.94,459.37 444.28,459.19 444.62,458.99 444.96,458.8 445.3,458.59 445.64,458.38 445.98,458.17 446.33,457.94 446.67,457.71 447.01,457.47 447.35,457.23 447.69,456.97 448.03,456.71 448.37,456.44 448.71,456.16 449.05,455.88 449.39,455.58 449.73,455.28 450.07,454.96 450.42,454.62 450.76,454.24 451.1,453.84 451.44,453.41 451.78,452.95 452.12,452.46 452.46,451.94 452.8,451.39 453.14,450.82 453.48,450.23 453.82,449.61 454.17,448.97 454.51,448.3 454.85,447.61 455.19,446.89 455.53,446.04 455.87,445.07 456.21,444.07 456.55,469.1 456.72,465.25" fill="none" stroke="#a8a8a8" stroke-width="0.9" stroke-linejoin="round" stroke-linecap="butt"/>
<polyline clip-path="url(#c3)" points="405.76,465.25 406.28,466.63 406.62,467.31 406.96,467.9 407.3,468 407.64,468 407.98,467.99 408.32,467.99 408.67,467.98 409.01,467.97 409.35,467.96 409.69,467.95 410.03,467.93 410.37,467.91 410.71,467.89 411.06,467.87 411.4,467.85 411.74,467.83 412.08,467.81 412.42,467.78 412.76,467.76 413.1,467.73 413.45,467.7 413.79,467.67 414.13,467.64 414.47,467.61 414.81,467.58 415.15,467.54 415.49,467.51 415.84,467.48 416.18,467.44 416.52,467.41 416.86,467.37 417.2,467.33 417.54,467.3 417.88,467.26 418.23,467.23 418.57,467.19 418.91,467.15 419.25,467.12 419.59,467.08 419.93,467.04 420.27,467.01 420.62,466.97 420.96,466.94 421.3,466.9 421.64,466.87 421.98,466.83 422.32,466.8 422.66,466.77 423.01,466.74 423.35,466.7 423.69,466.67 424.03,466.65 424.37,466.62 424.71,466.59 425.05,466.56 425.4,466.54 425.74,466.52 426.08,466.49 426.42,466.47 426.76,466.45 427.1,466.43 427.44,466.42 427.78,466.4 428.13,466.39 428.47,466.38 428.81,466.37 429.15,466.36 429.49,466.36 429.83,466.35 430.17,466.35 430.52,466.35 430.86,466.35 431.2,466.35 431.54,466.36 431.88,466.36 432.22,466.37 432.56,466.37 432.91,466.38 433.25,466.39 433.59,466.39 433.93,466.4 434.27,466.41 434.61,466.43 434.95,466.44 435.3,466.45 435.64,466.46 435.98,466.48 436.32,466.49 436.66,466.51 437,466.52 437.34,466.54 437.69,466.56 438.03,466.58 438.37,466.59 438.71,466.61 439.05,466.63 439.39,466.66 439.73,466.68 440.08,466.7 440.42,466.72 440.76,466.74 441.1,466.77 441.44,466.79 441.78,466.82 442.12,466.84 442.47,466.87 442.81,466.89 443.15,466.92 443.49,466.95 443.83,466.98 444.17,467 444.51,467.03 444.85,467.06 445.2,467.09 445.54,467.12 445.88,467.15 446.22,467.18 446.56,467.21 446.9,467.25 447.24,467.29 447.59,467.34 447.93,467.39 448.27,467.45 448.61,467.51 448.95,467.57 449.29,467.64 449.63,467.71 449.98,467.78 450.32,467.86 450.66,467.93 451,468.02 451.34,468.1 451.68,468.18 452.02,468.27 452.37,468.36 452.71,468.45 453.05,468.54 453.39,468.63 453.73,468.73 454.07,468.82 454.41,468.91 454.76,469.01 455.1,469.1" fill="none" stroke="#a8a8a8" stroke-width="0.9" stroke-linejoin="round" stroke-linecap="butt"/>
<polyline clip-path="url(#c3)" points="439.68,463.32 440.02,463.32 440.35,463.3 440.69,463.27 441.02,463.22 441.36,463.17 441.69,463.1 442.03,463.03 442.36,462.94 442.7,462.84 443.03,462.74 443.37,462.62 443.71,462.5 444.04,462.37 444.38,462.23 444.71,462.08 445.05,461.93 445.38,461.77 445.72,461.61 446.05,461.44 446.39,461.26 446.72,461.08 447.06,460.9 447.4,460.71 447.73,460.52 448.07,460.33 448.4,460.13 448.74,459.93 449.07,459.73 449.41,459.53 449.74,459.33 450.08,459.12 450.41,458.9 450.75,458.65 451.09,458.39 451.42,458.1 451.76,457.79 452.09,457.47 452.43,457.13 452.76,456.77 453.1,456.4 453.43,456.02 453.77,455.63 454.1,455.23 454.44,454.83 454.78,454.41 455.11,453.99 455.45,453.57 455.78,453.14 456.38,465.25" fill="none" stroke="#a8a8a8" stroke-width="0.9" stroke-linejoin="round" stroke-linecap="butt"/>
<polyline clip-path="url(#c3)" points="469.14,465.25 469.14,472.95 469.48,473.17 469.82,473.35 470.15,473.51 470.49,473.64 470.82,473.75 471.16,473.84 471.5,473.91 471.83,473.96 472.17,474 472.51,474.02 472.84,474.04 473.18,474.05 473.51,474.05 473.85,474.05 474.19,474.04 474.52,473.98 474.86,473.87 475.2,473.72 475.53,473.54 475.87,473.31 476.2,473.06 476.54,472.77 476.88,472.46 477.21,472.13 477.55,471.78 477.89,471.41 478.22,471.03" fill="none" stroke="#a8a8a8" stroke-width="0.9" stroke-linejoin="round" stroke-linecap="butt"/>
<polyline clip-path="url(#c3)" points="469.14,465.25 469.48,465.26 469.82,465.29 470.16,465.34 470.5,465.41 470.84,465.5 471.18,465.62 471.52,465.75 471.86,465.9 472.19,466.07 472.53,466.27 472.87,466.48 473.21,466.72 473.55,466.98 473.89,467.25 474.23,467.55 474.57,467.87 474.91,468.21 475.24,468.57 475.58,468.95 475.92,469.36 476.26,469.78 476.6,470.22 476.94,470.69 477.28,471.18 477.62,471.69 477.96,472.22 478.3,472.77 478.63,473.34 478.97,473.94 479.31,474.55 479.65,475.19 479.99,475.85 480.33,476.56 480.67,477.57 481.01,478.93 481.35,480.65 481.68,482.72 482.02,485.13 482.36,487.89 482.7,491 483.04,494.44 483.38,498.59 483.72,505.05 484.06,513.54 484.4,523.56 484.74,534.6 485.07,546.14 485.59,465.25" fill="none" stroke="#a8a8a8" stroke-width="0.9" stroke-linejoin="round" stroke-linecap="butt"/>
<polyline clip-path="url(#c3)" points="469.14,465.25 469.48,465.25 469.82,465.25 470.16,465.24 470.5,465.24 470.84,465.23 471.18,465.22 471.52,465.21 471.86,465.19 472.19,465.18 472.53,465.16 472.87,465.14 473.21,465.12 473.55,465.1 473.89,465.07 474.23,465.04 474.57,465.01 474.91,464.98 475.24,464.95 475.58,464.91 475.92,464.87 476.26,464.83 476.6,464.78 476.94,464.74 477.28,464.69 477.62,464.64 477.96,464.58 478.3,464.52 478.63,464.46 478.97,464.4 479.31,464.33 479.65,464.27 479.99,464.19 480.33,464.11 480.67,463.93 481.01,463.65 481.35,463.27 481.68,462.83 482.02,462.32 482.36,461.76 482.7,461.17 483.04,460.57 483.38,459.93 483.72,459.16 484.06,458.26 484.4,457.26 484.74,456.19 485.07,455.07 485.59,465.25" fill="none" stroke="#a8a8a8" stroke-width="0.9" stroke-linejoin="round" stroke-linecap="butt"/>
<polyline clip-path="url(#c3)" points="501.78,465.25 502.12,464.17 502.46,463.08 502.8,462.26 503.14,461.91 503.49,461.75 503.83,461.6 504.17,461.46 504.51,461.34 504.85,461.22 505.2,461.11 505.54,461.01 505.88,460.92 506.22,460.84 506.56,460.77 506.91,460.7 507.25,460.65 507.59,460.6 507.93,460.55 508.27,460.52 508.62,460.49 508.96,460.47 509.3,460.45 509.64,460.44 509.98,460.44 510.33,460.44 510.67,460.45 511.01,460.47 511.35,460.5 511.69,460.55 512.04,460.6 512.38,460.66 512.72,460.73 513.06,460.81 513.4,460.89 513.75,460.99 514.09,461.08 514.43,461.18 514.77,461.29 515.11,461.4 515.46,461.51 515.8,461.63 516.14,461.74 516.48,461.86 516.82,461.98 517.17,462.1 517.51,462.22 517.85,462.33 518.19,462.45 518.53,462.56 518.88,462.67 519.22,462.78 519.56,462.88 519.9,462.97 520.24,463.06 520.59,463.15 520.93,463.25 521.27,463.35 521.61,463.45 521.95,463.56 522.3,463.66 522.64,463.77 522.98,463.89 523.32,464 523.66,464.11 524.01,464.23 524.35,464.34 524.69,464.46 525.03,464.57 525.37,464.69 525.72,464.8 526.06,464.91 526.4,465.01 526.74,465.12 527.08,465.22 527.43,465.32 527.77,465.41 528.11,465.5 528.45,465.58 528.79,465.66 529.13,465.74 529.48,465.8 529.82,465.87 530.16,465.92 530.5,465.97 530.84,466 531.19,466.04 531.53,466.06 531.87,466.07 532.21,466.08 532.55,466.08 532.9,466.08 533.24,466.08 533.58,466.08 533.92,466.08 534.26,466.08 534.61,466.08 534.95,466.08 535.29,466.08 535.63,466.08 535.97,466.08 536.32,466.08 536.66,466.08 537,466.08 537.34,466.08 537.68,466.08 538.03,466.08 538.37,466.08 538.71,466.08 539.05,466.08 539.39,466.08 539.74,466.08 540.08,466.08 540.42,466.08 540.76,466.08 541.1,466.08 541.45,466.08 541.79,466.08 542.13,466.08 542.47,466.08 542.81,466.08 543.16,466.08 543.5,466.08 543.84,466.08 544.18,466.08 544.52,466.08 544.87,466.08 545.21,466.08 545.55,466.08 545.89,466.08 546.23,466.08 546.58,466.08 546.92,466.08 547.26,466.08 547.6,466.08 547.94,466.08 548.29,466.08 548.63,466.08 548.97,466.08 549.31,466.08" fill="none" stroke="#a8a8a8" stroke-width="0.9" stroke-linejoin="round" stroke-linecap="butt"/>
<polyline clip-path="url(#c3)" points="520.19,465.25 520.53,465.27 520.87,465.3 521.21,465.33 521.55,465.37 521.89,465.41 522.23,465.45 522.58,465.5 522.92,465.55 523.26,465.61 523.6,465.67 523.94,465.73 524.28,465.8 524.62,465.87 524.96,465.94 525.3,466.02 525.64,466.1 525.98,466.18 526.32,466.26 526.66,466.35 527,466.44 527.34,466.53 527.68,466.62 528.02,466.72 528.37,466.82 528.71,466.91 529.05,467.02 529.39,467.12 529.73,467.22 530.07,467.33 530.41,467.43 530.75,467.54 531.09,467.65 531.43,467.76 531.77,467.87 532.11,467.98 532.45,468.09 532.79,468.2 533.13,468.32 533.47,468.44 533.81,468.57 534.15,468.7 534.5,468.83 534.84,468.97 535.18,469.11 535.52,469.26 535.86,469.42 536.2,469.58 536.54,469.75 536.88,469.92 537.22,470.11 537.56,470.3 537.9,470.5 538.24,470.71 538.58,470.93 538.92,471.16 539.26,471.39 539.6,471.64 539.94,471.9 540.29,472.17 540.63,472.45 540.97,472.74 541.31,473.04 541.65,473.37 541.99,473.72 542.33,474.1 542.67,474.51 543.01,474.96 543.35,475.46 543.69,476 544.03,476.6 544.37,477.26 544.71,477.97 545.05,478.75 545.39,479.61 545.73,480.54 546.08,481.55 546.42,483 546.76,486.3 547.1,490.87 547.44,495.88 547.78,500.49 548.12,503.86 548.46,505.14 548.8,491.43 549.14,465.25" fill="none" stroke="#a8a8a8" stroke-width="0.9" stroke-linejoin="round" stroke-linecap="butt"/>
<polyline clip-path="url(#c3)" points="532.18,469.1 532.52,469.1 532.86,469.11 533.2,469.11 533.54,469.12 533.88,469.12 534.22,469.14 534.56,469.15 534.9,469.16 535.23,469.18 535.57,469.2 535.91,469.22 536.25,469.24 536.59,469.27 536.93,469.3 537.27,469.33 537.61,469.36 537.95,469.39 538.29,469.43 538.63,469.47 538.97,469.52 539.3,469.56 539.64,469.61 539.98,469.66 540.32,469.71 540.66,469.77 541,469.83 541.34,469.89 541.68,469.96 542.02,470.03 542.36,470.11 542.7,470.33 543.04,470.68 543.37,471.15 543.71,471.73 544.05,472.4 544.39,473.16 544.73,473.98 545.07,474.85 545.41,475.77 545.75,476.7 546.09,477.65 546.43,478.72 546.77,480.32 547.11,482.19 547.44,484 547.78,485.42 548.12,486.13 548.46,483.79 548.8,475.69 549.14,465.25" fill="none" stroke="#a8a8a8" stroke-width="0.9" stroke-linejoin="round" stroke-linecap="butt"/>
<polyline clip-path="url(#c3)" points="501.78,465.25 502.12,465.02 502.46,464.79 502.79,464.55 503.13,464.33 503.47,464.12 503.81,463.93 504.15,463.77 504.49,463.66 504.83,463.59 505.17,463.54 505.51,463.5 505.85,463.45 506.19,463.41 506.53,463.37 506.87,463.33 507.21,463.29 507.55,463.25 507.89,463.21 508.23,463.18 508.57,463.15 508.91,463.12 509.24,463.09 509.58,463.06 509.92,463.03 510.26,463 510.6,462.98 510.94,462.96 511.28,462.94 511.62,462.92 511.96,462.9 512.3,462.88 512.64,462.86 512.98,462.85 513.32,462.84 513.66,462.82 514,462.81 514.34,462.8 514.68,462.8 515.02,462.79 515.35,462.78 515.69,462.78 516.03,462.78 516.37,462.77 516.71,462.77 517.05,462.78 517.39,462.78 517.73,462.79 518.07,462.8 518.41,462.81 518.75,462.83 519.09,462.85 519.43,462.87 519.77,462.9 520.11,462.93 520.45,462.96 520.79,462.99 521.13,463.03 521.47,463.07 521.8,463.11 522.14,463.16 522.48,463.21 522.82,463.26 523.16,463.31 523.5,463.37 523.84,463.42 524.18,463.48 524.52,463.54 524.86,463.61 525.2,463.67 525.54,463.74 525.88,463.81 526.22,463.88 526.56,463.96 526.9,464.03 527.24,464.11 527.58,464.19 527.92,464.27 528.25,464.35 528.59,464.44 528.93,464.52 529.27,464.61 529.61,464.7" fill="none" stroke="#a8a8a8" stroke-width="0.9" stroke-linejoin="round" stroke-linecap="butt"/>
<polyline clip-path="url(#c3)" points="549.83,471.03 549.83,442.14 550.17,442.14 550.51,442.14 550.85,442.14 551.2,442.14 551.54,442.14 551.88,442.14 552.22,442.14 552.57,442.14 552.91,442.14 553.25,442.14 553.59,442.14 553.94,442.14 554.28,442.14 554.62,442.14 554.96,442.14 555.31,442.14 555.65,442.14 555.99,442.14 556.34,442.11 556.68,441.92 557.02,441.54 557.36,441.01 557.71,440.33 558.05,439.54 558.39,438.64 558.73,437.66 559.08,436.62 559.42,435.53 559.76,434.25 560.1,432.64 560.45,430.53 560.79,427.76 561.13,424.19 561.47,418.11 561.82,402.69 562.16,382.99 562.59,465.25" fill="none" stroke="#a8a8a8" stroke-width="0.9" stroke-linejoin="round" stroke-linecap="butt"/>
<polyline clip-path="url(#c3)" points="549.83,468 550.16,468.44 550.49,468.89 550.83,469.34 551.16,469.79 551.49,470.25 551.82,470.71 552.16,471.17 552.49,471.63 552.82,472.1 553.16,472.57 553.49,473.04 553.82,473.52 554.16,474 554.49,474.46 554.82,474.87 555.16,475.25 555.49,475.61 555.82,475.98 556.15,476.36 556.49,476.77 556.82,477.24 557.15,477.77 557.49,478.39 557.82,479.1 558.15,479.93 558.49,481.01 558.82,482.64 559.15,484.86 559.49,487.72 559.82,491.26 560.15,495.53 560.48,502.81 560.82,515.75 561.15,533.04 561.48,553.34 561.82,575.3 562.33,465.25" fill="none" stroke="#a8a8a8" stroke-width="0.9" stroke-linejoin="round" stroke-linecap="butt"/>
<polyline clip-path="url(#c3)" points="549.83,471.03 550.17,471.02 550.51,471 550.85,470.98 551.19,470.95 551.53,470.92 551.87,470.88 552.21,470.83 552.55,470.78 552.89,470.73 553.23,470.67 553.57,470.61 553.91,470.55 554.25,470.48 554.59,470.41 554.93,470.34 555.27,470.26 555.61,470.19 555.95,470.11 556.29,470.04 556.63,469.96 556.97,469.89 557.31,469.81 557.65,469.73 557.99,469.64 558.33,469.54 558.67,469.43 559.01,469.31 559.35,469.18 559.69,469.02 560.03,468.85 560.37,468.66 560.72,468.44 561.06,468.2 561.4,467.9 561.74,467.24 562.08,466.27 562.42,465.25" fill="none" stroke="#a8a8a8" stroke-width="0.9" stroke-linejoin="round" stroke-linecap="butt"/>
<polyline clip-path="url(#c3)" points="566.27,465.25 566.61,469.63 566.95,473.53 567.29,475.95 567.63,477.14 567.97,478.09 568.31,478.84 568.65,479.46 568.99,479.99 569.34,480.5 569.68,481.03 570.02,481.63 570.36,482.35 570.7,483.1 571.04,483.84 571.38,484.59 571.72,485.33 572.06,486.09 572.4,486.85 572.74,487.61 573.08,488.38 573.42,489.17 573.76,489.96 574.1,490.76 574.44,491.58 574.78,492.41 575.12,493.26 575.46,494.12 575.8,495 576.14,495.9 576.49,496.87 576.83,497.98 577.17,499.19 577.51,500.47 577.85,501.77 578.19,503.06 578.53,504.3 578.87,505.43 579.21,506.43 579.55,507.26 579.89,507.87 580.23,508.24 580.57,508.52 580.91,508.77 581.25,508.98 581.59,509.15 581.93,509.24 582.27,509.26 582.61,508.84 582.95,507.94 583.29,506.67 583.64,505.15 583.98,503.5 584.32,501.82 584.66,499.75 585,497.16 585.34,494.17 585.68,490.92 586.02,487.52 586.36,484.1 586.7,480.8 587.04,477.73 587.38,475.02 587.72,472.55 588.06,470.21 588.4,467.92 588.74,465.56 589.08,463.06 589.42,460.31 589.76,457.28 590.1,454.08 590.45,450.82 590.79,447.6 591.13,444.54 591.47,441.71 591.81,438.97 592.15,436.28 592.49,433.66 592.83,431.12 593.17,428.66 593.51,426.28 593.85,423.98" fill="none" stroke="#a8a8a8" stroke-width="0.9" stroke-linejoin="round" stroke-linecap="butt"/>
<polyline clip-path="url(#c3)" points="566.27,468 566.61,467.95 566.95,467.9 567.29,467.84 567.63,467.79 567.97,467.74 568.31,467.68 568.65,467.63 568.99,467.57 569.33,467.52 569.67,467.46 570.01,467.41 570.35,467.35 570.69,467.3 571.03,467.24 571.37,467.19 571.71,467.13 572.05,467.07 572.39,467.02 572.73,466.96 573.07,466.9 573.41,466.85 573.75,466.79 574.09,466.73 574.43,466.67 574.77,466.61 575.11,466.55 575.45,466.49 575.78,466.43 576.12,466.38 576.46,466.32 576.8,466.26 577.14,466.2 577.48,466.14 577.82,466.08 578.16,466.02 578.5,465.95 578.84,465.89 579.18,465.83 579.52,465.77 579.86,465.71 580.2,465.65 580.54,465.59 580.88,465.53 581.22,465.47 581.56,465.41 581.9,465.35 582.24,465.29 582.58,465.23 582.92,465.17 583.26,465.1 583.6,465.04 583.94,464.98 584.28,464.92 584.62,464.86 584.96,464.8 585.3,464.74 585.64,464.67 585.98,464.61 586.32,464.55 586.66,464.49 587,464.42" fill="none" stroke="#a8a8a8" stroke-width="0.9" stroke-linejoin="round" stroke-linecap="butt"/>
<polyline clip-path="url(#c3)" points="586.14,468 586.48,468.81 586.81,471.16 587.15,474.89 587.48,479.88 587.82,485.99 588.15,493.07 588.49,505.77 588.82,532.37 589.16,551.21 589.49,551.73 589.83,551.01 590.16,549.8 590.5,548.17 590.83,546.16 591.17,543.85 591.5,541.28 591.84,538.52 592.17,535.62 592.51,531.72 592.84,526.47 593.18,520.21 593.51,513.26 593.85,505.97" fill="none" stroke="#a8a8a8" stroke-width="0.9" stroke-linejoin="round" stroke-linecap="butt"/>
<polyline clip-path="url(#c3)" points="588.71,556.04 589.03,552.02 589.35,547.85 589.67,543.56 590,539.14 590.32,534.59 590.64,529.93 590.96,525.16 591.28,520.27 591.6,515.26 591.92,510.1 592.24,504.8 592.57,499.35 592.89,493.77 593.21,488.05 593.53,482.21 593.85,476.25" fill="none" stroke="#a8a8a8" stroke-width="0.9" stroke-linejoin="round" stroke-linecap="butt"/>
<polyline clip-path="url(#c3)" points="166.46,465.25 182.22,492.76 212.71,492.76 219.82,482.86 227.87,474.93 239.86,465.97 249.88,458.1 255.88,453.14 263.84,443.96 270.44,437.74 303.5,437.74 352.92,492.76 405.76,492.76 421.18,474.6 456.21,437.74 501.78,437.74 549.31,492.76 566.27,492.76 581.26,474.05 590.25,464.15 593.85,465.25" fill="none" stroke="#0072BD" stroke-width="2.2" stroke-linejoin="round" stroke-linecap="butt"/>
<polyline clip-path="url(#c3)" points="166.46,355.2 195.41,355.2 204.83,474.05 212.71,575.3 276.94,575.3 283.8,474.05 291.85,355.2 370.3,355.2 379.9,474.05 388.12,575.3 467.94,575.3 478.22,456.06 486.19,355.2 549.83,355.2 555.31,456.06 563.27,575.3 586.14,575.3 593.85,412.98" fill="none" stroke="#D95319" stroke-width="2.2" stroke-linejoin="round" stroke-linecap="butt"/>
<text x="188" y="350" text-anchor="start" font-size="9.8" fill="#262626">controls</text>
<text x="573.2" y="350" text-anchor="end" font-size="9.8" fill="#262626">gains</text>
<text x="380.5" y="598.6" text-anchor="middle" font-size="9.8" fill="#262626">timesteps</text>
</g>
<clipPath id="c4"><rect x="729.4" y="353.5" width="430.4" height="223.5"/></clipPath>
<clipPath id="w4"><rect x="728" y="352.7" width="433.2" height="225.3"/></clipPath>
<g id="plot-ratio">
<line x1="730.6" y1="553.39" x2="1158.6" y2="553.39" stroke="#e7e7e7" stroke-width="0.9"/>
<line x1="730.6" y1="531.38" x2="1158.6" y2="531.38" stroke="#e7e7e7" stroke-width="0.9"/>
<line x1="730.6" y1="509.37" x2="1158.6" y2="509.37" stroke="#e7e7e7" stroke-width="0.9"/>
<line x1="730.6" y1="487.36" x2="1158.6" y2="487.36" stroke="#e7e7e7" stroke-width="0.9"/>
<line x1="730.6" y1="465.35" x2="1158.6" y2="465.35" stroke="#e7e7e7" stroke-width="0.9"/>
<line x1="730.6" y1="443.34" x2="1158.6" y2="443.34" stroke="#e7e7e7" stroke-width="0.9"/>
<line x1="730.6" y1="421.33" x2="1158.6" y2="421.33" stroke="#e7e7e7" stroke-width="0.9"/>
<line x1="730.6" y1="399.32" x2="1158.6" y2="399.32" stroke="#e7e7e7" stroke-width="0.9"/>
<line x1="730.6" y1="377.31" x2="1158.6" y2="377.31" stroke="#e7e7e7" stroke-width="0.9"/>
<polyline clip-path="url(#c4)" points="733.02,451.37 735.44,463.81 737.85,499.47 740.27,503.87 742.69,496.16 745.11,504.97 747.53,468.21 749.94,463.15 752.36,469.42 754.78,475.25 757.2,480.76 759.62,445.54 762.03,190.23 764.45,517.07 766.87,445.54 769.29,453.79 771.71,475.25 774.12,495.06 776.54,464.47 778.96,535.01 781.38,451.37 783.8,490.66 786.21,385.01 788.63,496.16 791.05,435.64 793.47,376.21 795.89,470.85 798.3,575.4 800.72,575.4 803.14,575.4 805.56,569.9 807.98,453.24 810.39,498.92 812.81,496.16 815.23,379.51 817.65,457.65 820.07,536.22 822.48,459.41 824.9,523.68 827.32,456.55 829.74,466.45 832.16,470.85 834.57,464.47 836.99,490.11 839.41,455.67 841.83,488.46 844.25,445.54 846.66,488.79 849.08,448.84 851.5,425.07 853.92,501.67 856.34,390.52 858.75,509.37 861.17,393.16 863.59,485.16 866.01,394.04 868.43,472.61 870.84,467.55 873.26,501.67 875.68,387.21 878.1,466.45 880.52,470.85 882.93,434.54 885.35,471.95 887.77,413.63 890.19,494.51 892.61,386.11 895.02,448.18 897.44,404.82 899.86,394.48 902.28,493.19 904.7,387.21 907.11,436.74 909.53,448.84 911.95,503.32 914.37,443.34 916.79,245.25 919.2,474.15 921.62,504.75 924.04,465.35 926.46,393.82 928.88,383.14 931.29,492.09 933.71,405.92 936.13,472.61 938.55,245.25 940.97,443.34 943.38,488.46 945.8,386.11 948.22,371.26 950.64,382.81 953.06,499.47 955.47,355.3 957.89,362.56 960.31,355.3 962.73,361.35 965.15,356.4 967.56,365.2 969.98,355.3 972.4,363 974.82,355.3 977.24,366.31 979.65,356.95 982.07,368.84 984.49,361.35 986.91,378.41 989.33,377.31 991.74,387.54 994.16,392.72 996.58,402.62 999,416.93 1001.42,435.64 1003.83,457.65 1006.25,471.29 1008.67,493.96 1011.09,481.31 1013.51,371.26 1015.92,372.58 1018.34,367.41 1020.76,374.23 1023.18,377.31 1025.6,382.26 1028.01,388.31 1030.43,400.09 1032.85,412.53 1035.27,429.03 1037.69,447.74 1040.1,468.1 1042.52,485.16 1044.94,479.44 1047.36,371.26 1049.78,366.31 1052.19,366.31 1054.61,374.45 1057.03,378.41 1059.45,388.76 1061.87,398.77 1064.28,400.64 1066.7,410.32 1069.12,423.53 1071.54,441.14 1073.96,459.85 1076.37,477.46 1078.79,496.93 1081.21,485.16 1083.63,366.31 1086.05,366.97 1088.46,369.61 1090.88,373.13 1093.3,376.21 1095.72,378.85 1098.14,386.33 1100.55,393.82 1102.97,402.62 1105.39,414.73 1107.81,427.93 1110.23,444.44 1112.64,460.95 1115.06,477.46 1117.48,496.93 1119.9,481.31 1122.32,362.78 1124.73,362.56 1127.15,362.56 1129.57,362.56 1131.99,364.43 1134.41,366.53 1136.82,368.51 1139.24,371.04 1141.66,374.45 1144.08,378.85 1146.5,383.91 1148.91,390.52 1151.33,400.09 1153.75,411.43" fill="none" stroke="#0072BD" stroke-width="2.1" stroke-linejoin="round" stroke-linecap="butt"/>
<line x1="730.6" y1="355.3" x2="1158.6" y2="355.3" stroke="#3a3a3a" stroke-width="1.1"/>
<line x1="730.6" y1="355.3" x2="730.6" y2="575.4" stroke="#3a3a3a" stroke-width="1.1"/>
<line x1="1158.6" y1="355.3" x2="1158.6" y2="575.4" stroke="#3a3a3a" stroke-width="1.1"/>
<line x1="730.6" y1="575.4" x2="1159" y2="575.4" stroke="#3a3a3a" stroke-width="1.1"/>
<line x1="730.6" y1="575.4" x2="730.6" y2="571.1" stroke="#262626" stroke-width="0.8"/>
<line x1="730.6" y1="355.3" x2="730.6" y2="359.6" stroke="#262626" stroke-width="0.8"/>
<text x="730.6" y="587.1" text-anchor="middle" font-size="8.5" fill="#262626">0</text>
<line x1="778.96" y1="575.4" x2="778.96" y2="571.1" stroke="#262626" stroke-width="0.8"/>
<line x1="778.96" y1="355.3" x2="778.96" y2="359.6" stroke="#262626" stroke-width="0.8"/>
<text x="778.96" y="587.1" text-anchor="middle" font-size="8.5" fill="#262626">20</text>
<line x1="827.32" y1="575.4" x2="827.32" y2="571.1" stroke="#262626" stroke-width="0.8"/>
<line x1="827.32" y1="355.3" x2="827.32" y2="359.6" stroke="#262626" stroke-width="0.8"/>
<text x="827.32" y="587.1" text-anchor="middle" font-size="8.5" fill="#262626">40</text>
<line x1="875.68" y1="575.4" x2="875.68" y2="571.1" stroke="#262626" stroke-width="0.8"/>
<line x1="875.68" y1="355.3" x2="875.68" y2="359.6" stroke="#262626" stroke-width="0.8"/>
<text x="875.68" y="587.1" text-anchor="middle" font-size="8.5" fill="#262626">60</text>
<line x1="924.04" y1="575.4" x2="924.04" y2="571.1" stroke="#262626" stroke-width="0.8"/>
<line x1="924.04" y1="355.3" x2="924.04" y2="359.6" stroke="#262626" stroke-width="0.8"/>
<text x="924.04" y="587.1" text-anchor="middle" font-size="8.5" fill="#262626">80</text>
<line x1="972.4" y1="575.4" x2="972.4" y2="571.1" stroke="#262626" stroke-width="0.8"/>
<line x1="972.4" y1="355.3" x2="972.4" y2="359.6" stroke="#262626" stroke-width="0.8"/>
<text x="972.4" y="587.1" text-anchor="middle" font-size="8.5" fill="#262626">100</text>
<line x1="1020.76" y1="575.4" x2="1020.76" y2="571.1" stroke="#262626" stroke-width="0.8"/>
<line x1="1020.76" y1="355.3" x2="1020.76" y2="359.6" stroke="#262626" stroke-width="0.8"/>
<text x="1020.76" y="587.1" text-anchor="middle" font-size="8.5" fill="#262626">120</text>
<line x1="1069.12" y1="575.4" x2="1069.12" y2="571.1" stroke="#262626" stroke-width="0.8"/>
<line x1="1069.12" y1="355.3" x2="1069.12" y2="359.6" stroke="#262626" stroke-width="0.8"/>
<text x="1069.12" y="587.1" text-anchor="middle" font-size="8.5" fill="#262626">140</text>
<line x1="1117.48" y1="575.4" x2="1117.48" y2="571.1" stroke="#262626" stroke-width="0.8"/>
<line x1="1117.48" y1="355.3" x2="1117.48" y2="359.6" stroke="#262626" stroke-width="0.8"/>
<text x="1117.48" y="587.1" text-anchor="middle" font-size="8.5" fill="#262626">160</text>
<line x1="730.6" y1="575.4" x2="734.9" y2="575.4" stroke="#262626" stroke-width="0.8"/>
<line x1="1158.6" y1="575.4" x2="1154.3" y2="575.4" stroke="#262626" stroke-width="0.8"/>
<text x="727.7" y="579.4" text-anchor="end" font-size="8.5" fill="#262626">0</text>
<line x1="730.6" y1="553.39" x2="734.9" y2="553.39" stroke="#262626" stroke-width="0.8"/>
<line x1="1158.6" y1="553.39" x2="1154.3" y2="553.39" stroke="#262626" stroke-width="0.8"/>
<text x="727.7" y="557.39" text-anchor="end" font-size="8.5" fill="#262626">0.2</text>
<line x1="730.6" y1="531.38" x2="734.9" y2="531.38" stroke="#262626" stroke-width="0.8"/>
<line x1="1158.6" y1="531.38" x2="1154.3" y2="531.38" stroke="#262626" stroke-width="0.8"/>
<text x="727.7" y="535.38" text-anchor="end" font-size="8.5" fill="#262626">0.4</text>
<line x1="730.6" y1="509.37" x2="734.9" y2="509.37" stroke="#262626" stroke-width="0.8"/>
<line x1="1158.6" y1="509.37" x2="1154.3" y2="509.37" stroke="#262626" stroke-width="0.8"/>
<text x="727.7" y="513.37" text-anchor="end" font-size="8.5" fill="#262626">0.6</text>
<line x1="730.6" y1="487.36" x2="734.9" y2="487.36" stroke="#262626" stroke-width="0.8"/>
<line x1="1158.6" y1="487.36" x2="1154.3" y2="487.36" stroke="#262626" stroke-width="0.8"/>
<text x="727.7" y="491.36" text-anchor="end" font-size="8.5" fill="#262626">0.8</text>
<line x1="730.6" y1="465.35" x2="734.9" y2="465.35" stroke="#262626" stroke-width="0.8"/>
<line x1="1158.6" y1="465.35" x2="1154.3" y2="465.35" stroke="#262626" stroke-width="0.8"/>
<text x="727.7" y="469.35" text-anchor="end" font-size="8.5" fill="#262626">1</text>
<line x1="730.6" y1="443.34" x2="734.9" y2="443.34" stroke="#262626" stroke-width="0.8"/>
<line x1="1158.6" y1="443.34" x2="1154.3" y2="443.34" stroke="#262626" stroke-width="0.8"/>
<text x="727.7" y="447.34" text-anchor="end" font-size="8.5" fill="#262626">1.2</text>
<line x1="730.6" y1="421.33" x2="734.9" y2="421.33" stroke="#262626" stroke-width="0.8"/>
<line x1="1158.6" y1="421.33" x2="1154.3" y2="421.33" stroke="#262626" stroke-width="0.8"/>
<text x="727.7" y="425.33" text-anchor="end" font-size="8.5" fill="#262626">1.4</text>
<line x1="730.6" y1="399.32" x2="734.9" y2="399.32" stroke="#262626" stroke-width="0.8"/>
<line x1="1158.6" y1="399.32" x2="1154.3" y2="399.32" stroke="#262626" stroke-width="0.8"/>
<text x="727.7" y="403.32" text-anchor="end" font-size="8.5" fill="#262626">1.6</text>
<line x1="730.6" y1="377.31" x2="734.9" y2="377.31" stroke="#262626" stroke-width="0.8"/>
<line x1="1158.6" y1="377.31" x2="1154.3" y2="377.31" stroke="#262626" stroke-width="0.8"/>
<text x="727.7" y="381.31" text-anchor="end" font-size="8.5" fill="#262626">1.8</text>
<line x1="730.6" y1="355.3" x2="734.9" y2="355.3" stroke="#262626" stroke-width="0.8"/>
<line x1="1158.6" y1="355.3" x2="1154.3" y2="355.3" stroke="#262626" stroke-width="0.8"/>
<text x="727.7" y="359.3" text-anchor="end" font-size="8.5" fill="#262626">2</text>
<text x="944.6" y="350.6" text-anchor="middle" font-size="9.8" fill="#262626">actual/expected reduction ratio</text>
<text x="944.6" y="599" text-anchor="middle" font-size="9.8" fill="#262626">iterations</text>
</g>
<g id="watermark">
<g fill="#fff" fill-opacity="0.86" stroke="#b9b9b9" stroke-width="0.9">
<path d="M1031 566.2c10 0 18 6.8 18 15.2 0 8.400000000000001-8 15.200000000000001-18 15.200000000000001-2.2 0-4.300000000000001-0.3-6.2-0.9l-6.2 3.8 1.7-6.300000000000001c-4.5-2.8000000000000003-7.300000000000001-7-7.300000000000001-11.8 0-8.4 8-15.2 18-15.2z"/>
</g>
<g fill="#fff" fill-opacity="0.95" stroke="#8a8a8a" stroke-width="1">
<path d="M1049 579.6c8.8 0 16 6.1 16 13.600000000000001 0 4.2-2.2 7.9-5.7 10.4l1.5 5.4-5.6-3.3c-1.9 0.6-4 1-6.2 1-8.8 0-16-6.1-16-13.5 0-7.5 7.2-13.600000000000001 16-13.600000000000001z"/>
</g>
<circle cx="1025" cy="575" r="1.9" fill="#3a3a3a"/><circle cx="1039" cy="575" r="1.9" fill="#3a3a3a"/>
<circle cx="1042.6" cy="588.2" r="1.9" fill="#fff" stroke="#8a8a8a" stroke-width="0.8"/><circle cx="1054.2" cy="588.2" r="1.9" fill="#fff" stroke="#8a8a8a" stroke-width="0.8"/>
<filter id="ws" x="-5%" y="-10%" width="110%" height="130%"><feOffset in="SourceAlpha" dx="1.2" dy="1.2" result="o"/><feFlood flood-color="#4a4a4a"/><feComposite in2="o" operator="in" result="s"/><feMerge><feMergeNode in="s"/><feMergeNode in="SourceGraphic"/></feMerge></filter>
<text filter="url(#ws)" fill="#fff" font-family="'Liberation Sans','Noto Sans CJK SC',sans-serif"><tspan x="1071.2" y="601" font-size="29.5" textLength="62.5" lengthAdjust="spacingAndGlyphs">天天</tspan><tspan x="1135" y="600" font-size="30" textLength="102" lengthAdjust="spacingAndGlyphs">Matlab</tspan></text>
</g>

</svg></body></html>
